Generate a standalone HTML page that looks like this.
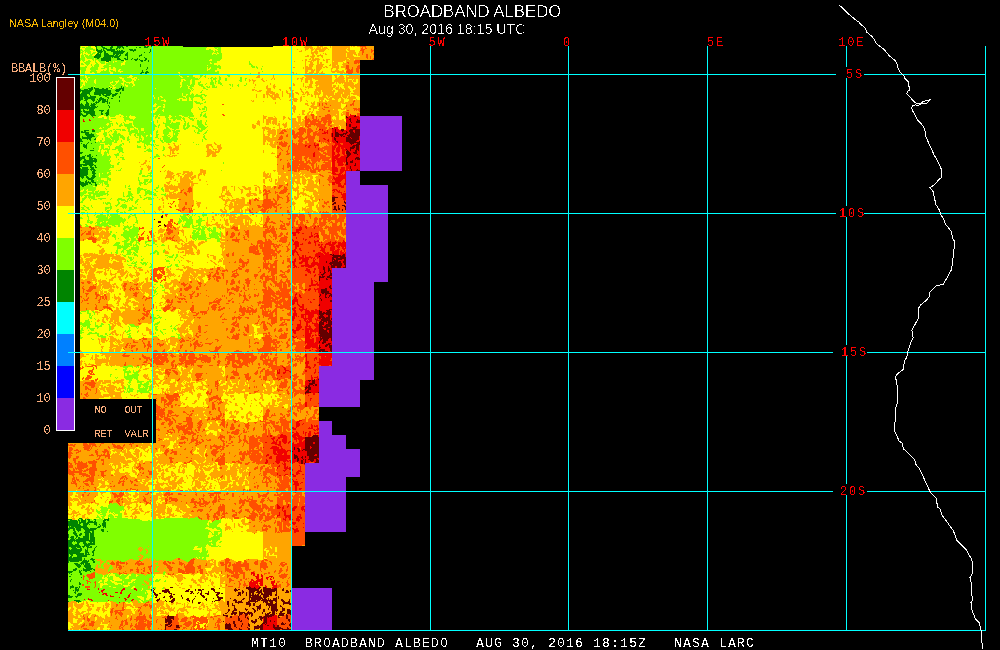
<!DOCTYPE html>
<html><head><meta charset="utf-8"><style>
html,body{margin:0;padding:0;background:#000;}
body{width:1000px;height:650px;overflow:hidden;position:relative;}
svg{position:absolute;left:0;top:0;}
.t{font-family:"Liberation Sans",sans-serif;}
.m{font-family:"Liberation Mono",monospace;}
</style></head><body>
<svg width="1000" height="650" viewBox="0 0 1000 650" shape-rendering="crispEdges">
<defs>
<pattern id="pD1" width="48" height="48" patternUnits="userSpaceOnUse"><g fill="#008400"><rect x="22" y="0" width="2" height="1"/><rect x="33" y="0" width="1" height="1"/><rect x="44" y="0" width="1" height="1"/><rect x="25" y="1" width="2" height="1"/><rect x="33" y="1" width="2" height="1"/><rect x="44" y="1" width="2" height="1"/><rect x="44" y="2" width="1" height="1"/><rect x="2" y="3" width="2" height="1"/><rect x="26" y="5" width="1" height="1"/><rect x="26" y="6" width="2" height="1"/><rect x="41" y="7" width="2" height="1"/><rect x="9" y="8" width="1" height="1"/><rect x="8" y="9" width="2" height="1"/><rect x="24" y="9" width="2" height="1"/><rect x="34" y="9" width="1" height="1"/><rect x="3" y="10" width="2" height="1"/><rect x="24" y="10" width="2" height="1"/><rect x="2" y="11" width="3" height="1"/><rect x="22" y="11" width="3" height="1"/><rect x="2" y="12" width="2" height="1"/><rect x="20" y="12" width="6" height="1"/><rect x="29" y="12" width="1" height="1"/><rect x="36" y="12" width="1" height="1"/><rect x="44" y="12" width="4" height="1"/><rect x="20" y="13" width="5" height="1"/><rect x="29" y="13" width="1" height="1"/><rect x="40" y="13" width="1" height="1"/><rect x="45" y="13" width="2" height="1"/><rect x="8" y="14" width="1" height="1"/><rect x="20" y="14" width="4" height="1"/><rect x="29" y="14" width="1" height="1"/><rect x="32" y="14" width="2" height="1"/><rect x="19" y="15" width="5" height="1"/><rect x="32" y="15" width="2" height="1"/><rect x="20" y="16" width="4" height="1"/><rect x="33" y="16" width="1" height="1"/><rect x="38" y="16" width="1" height="1"/><rect x="44" y="16" width="2" height="1"/><rect x="12" y="17" width="2" height="1"/><rect x="21" y="17" width="2" height="1"/><rect x="31" y="17" width="2" height="1"/><rect x="38" y="17" width="1" height="1"/><rect x="43" y="17" width="3" height="1"/><rect x="31" y="18" width="2" height="1"/><rect x="42" y="18" width="2" height="1"/><rect x="15" y="19" width="3" height="1"/><rect x="42" y="19" width="1" height="1"/><rect x="2" y="20" width="1" height="1"/><rect x="15" y="20" width="3" height="1"/><rect x="19" y="20" width="2" height="1"/><rect x="1" y="21" width="2" height="1"/><rect x="20" y="21" width="2" height="1"/><rect x="32" y="21" width="3" height="1"/><rect x="21" y="22" width="1" height="1"/><rect x="32" y="22" width="3" height="1"/><rect x="16" y="23" width="1" height="1"/><rect x="21" y="23" width="1" height="1"/><rect x="31" y="23" width="3" height="1"/><rect x="2" y="24" width="1" height="1"/><rect x="13" y="24" width="2" height="1"/><rect x="17" y="24" width="1" height="1"/><rect x="20" y="24" width="1" height="1"/><rect x="27" y="24" width="1" height="1"/><rect x="31" y="24" width="2" height="1"/><rect x="46" y="24" width="1" height="1"/><rect x="1" y="25" width="3" height="1"/><rect x="13" y="25" width="3" height="1"/><rect x="18" y="25" width="3" height="1"/><rect x="27" y="25" width="2" height="1"/><rect x="31" y="25" width="2" height="1"/><rect x="44" y="25" width="3" height="1"/><rect x="2" y="26" width="2" height="1"/><rect x="14" y="26" width="6" height="1"/><rect x="27" y="26" width="2" height="1"/><rect x="31" y="26" width="2" height="1"/><rect x="45" y="26" width="2" height="1"/><rect x="2" y="27" width="2" height="1"/><rect x="14" y="27" width="1" height="1"/><rect x="18" y="27" width="1" height="1"/><rect x="27" y="27" width="1" height="1"/><rect x="39" y="27" width="2" height="1"/><rect x="0" y="28" width="1" height="1"/><rect x="5" y="28" width="1" height="1"/><rect x="9" y="28" width="1" height="1"/><rect x="27" y="28" width="1" height="1"/><rect x="39" y="28" width="2" height="1"/><rect x="47" y="28" width="1" height="1"/><rect x="0" y="29" width="1" height="1"/><rect x="4" y="29" width="2" height="1"/><rect x="9" y="29" width="3" height="1"/><rect x="41" y="29" width="1" height="1"/><rect x="44" y="29" width="1" height="1"/><rect x="47" y="29" width="1" height="1"/><rect x="0" y="30" width="1" height="1"/><rect x="5" y="30" width="1" height="1"/><rect x="9" y="30" width="5" height="1"/><rect x="32" y="30" width="3" height="1"/><rect x="41" y="30" width="7" height="1"/><rect x="0" y="31" width="2" height="1"/><rect x="12" y="31" width="2" height="1"/><rect x="31" y="31" width="5" height="1"/><rect x="42" y="31" width="3" height="1"/><rect x="46" y="31" width="2" height="1"/><rect x="0" y="32" width="3" height="1"/><rect x="30" y="32" width="2" height="1"/><rect x="33" y="32" width="1" height="1"/><rect x="47" y="32" width="1" height="1"/><rect x="0" y="33" width="4" height="1"/><rect x="11" y="33" width="2" height="1"/><rect x="16" y="33" width="2" height="1"/><rect x="20" y="33" width="1" height="1"/><rect x="42" y="33" width="1" height="1"/><rect x="1" y="34" width="2" height="1"/><rect x="10" y="34" width="5" height="1"/><rect x="46" y="35" width="1" height="1"/><rect x="35" y="36" width="2" height="1"/><rect x="38" y="36" width="1" height="1"/><rect x="41" y="36" width="2" height="1"/><rect x="35" y="37" width="1" height="1"/><rect x="46" y="38" width="1" height="1"/><rect x="24" y="39" width="4" height="1"/><rect x="41" y="39" width="2" height="1"/><rect x="22" y="40" width="9" height="1"/><rect x="33" y="40" width="1" height="1"/><rect x="41" y="40" width="2" height="1"/><rect x="26" y="41" width="4" height="1"/><rect x="32" y="41" width="1" height="1"/><rect x="41" y="41" width="2" height="1"/><rect x="27" y="42" width="3" height="1"/><rect x="32" y="42" width="1" height="1"/><rect x="36" y="42" width="1" height="1"/><rect x="41" y="42" width="1" height="1"/><rect x="32" y="43" width="3" height="1"/><rect x="36" y="43" width="6" height="1"/><rect x="46" y="43" width="1" height="1"/><rect x="21" y="44" width="1" height="1"/><rect x="33" y="44" width="2" height="1"/><rect x="37" y="44" width="4" height="1"/><rect x="46" y="44" width="1" height="1"/><rect x="11" y="45" width="1" height="1"/><rect x="15" y="45" width="1" height="1"/><rect x="20" y="45" width="2" height="1"/><rect x="38" y="45" width="1" height="1"/><rect x="11" y="46" width="1" height="1"/></g></pattern>
<pattern id="pD2" width="48" height="48" patternUnits="userSpaceOnUse"><g fill="#008400"><rect x="17" y="0" width="1" height="1"/><rect x="21" y="0" width="2" height="1"/><rect x="33" y="0" width="3" height="1"/><rect x="6" y="1" width="3" height="1"/><rect x="21" y="1" width="2" height="1"/><rect x="35" y="1" width="2" height="1"/><rect x="39" y="1" width="1" height="1"/><rect x="6" y="2" width="2" height="1"/><rect x="35" y="2" width="5" height="1"/><rect x="6" y="3" width="1" height="1"/><rect x="11" y="3" width="1" height="1"/><rect x="17" y="3" width="1" height="1"/><rect x="35" y="3" width="5" height="1"/><rect x="45" y="3" width="1" height="1"/><rect x="10" y="4" width="3" height="1"/><rect x="23" y="4" width="1" height="1"/><rect x="36" y="4" width="4" height="1"/><rect x="6" y="5" width="1" height="1"/><rect x="10" y="5" width="4" height="1"/><rect x="23" y="5" width="1" height="1"/><rect x="10" y="6" width="1" height="1"/><rect x="13" y="6" width="1" height="1"/><rect x="42" y="6" width="2" height="1"/><rect x="10" y="7" width="1" height="1"/><rect x="13" y="7" width="2" height="1"/><rect x="31" y="7" width="1" height="1"/><rect x="42" y="7" width="2" height="1"/><rect x="0" y="8" width="1" height="1"/><rect x="12" y="8" width="3" height="1"/><rect x="18" y="8" width="1" height="1"/><rect x="30" y="8" width="3" height="1"/><rect x="47" y="8" width="1" height="1"/><rect x="0" y="9" width="3" height="1"/><rect x="12" y="9" width="2" height="1"/><rect x="18" y="9" width="1" height="1"/><rect x="22" y="9" width="1" height="1"/><rect x="24" y="9" width="1" height="1"/><rect x="31" y="9" width="2" height="1"/><rect x="0" y="10" width="3" height="1"/><rect x="12" y="10" width="1" height="1"/><rect x="17" y="10" width="2" height="1"/><rect x="21" y="10" width="8" height="1"/><rect x="31" y="10" width="1" height="1"/><rect x="36" y="10" width="1" height="1"/><rect x="41" y="10" width="1" height="1"/><rect x="0" y="11" width="2" height="1"/><rect x="13" y="11" width="1" height="1"/><rect x="17" y="11" width="2" height="1"/><rect x="21" y="11" width="4" height="1"/><rect x="27" y="11" width="5" height="1"/><rect x="36" y="11" width="1" height="1"/><rect x="39" y="11" width="4" height="1"/><rect x="44" y="11" width="1" height="1"/><rect x="0" y="12" width="1" height="1"/><rect x="13" y="12" width="1" height="1"/><rect x="17" y="12" width="2" height="1"/><rect x="27" y="12" width="4" height="1"/><rect x="34" y="12" width="3" height="1"/><rect x="39" y="12" width="4" height="1"/><rect x="12" y="13" width="2" height="1"/><rect x="27" y="13" width="3" height="1"/><rect x="34" y="13" width="3" height="1"/><rect x="46" y="13" width="2" height="1"/><rect x="4" y="14" width="2" height="1"/><rect x="11" y="14" width="4" height="1"/><rect x="27" y="14" width="2" height="1"/><rect x="34" y="14" width="2" height="1"/><rect x="45" y="14" width="2" height="1"/><rect x="5" y="15" width="2" height="1"/><rect x="10" y="15" width="4" height="1"/><rect x="24" y="15" width="1" height="1"/><rect x="27" y="15" width="2" height="1"/><rect x="34" y="15" width="2" height="1"/><rect x="41" y="15" width="3" height="1"/><rect x="45" y="15" width="2" height="1"/><rect x="6" y="16" width="1" height="1"/><rect x="9" y="16" width="5" height="1"/><rect x="29" y="16" width="3" height="1"/><rect x="34" y="16" width="1" height="1"/><rect x="41" y="16" width="2" height="1"/><rect x="6" y="17" width="1" height="1"/><rect x="9" y="17" width="3" height="1"/><rect x="13" y="17" width="1" height="1"/><rect x="28" y="17" width="9" height="1"/><rect x="5" y="18" width="2" height="1"/><rect x="10" y="18" width="2" height="1"/><rect x="17" y="18" width="2" height="1"/><rect x="27" y="18" width="3" height="1"/><rect x="34" y="18" width="3" height="1"/><rect x="38" y="18" width="3" height="1"/><rect x="5" y="19" width="2" height="1"/><rect x="10" y="19" width="2" height="1"/><rect x="16" y="19" width="2" height="1"/><rect x="28" y="19" width="1" height="1"/><rect x="35" y="19" width="1" height="1"/><rect x="39" y="19" width="2" height="1"/><rect x="5" y="20" width="2" height="1"/><rect x="10" y="20" width="2" height="1"/><rect x="19" y="20" width="6" height="1"/><rect x="40" y="20" width="2" height="1"/><rect x="46" y="20" width="1" height="1"/><rect x="2" y="21" width="3" height="1"/><rect x="10" y="21" width="1" height="1"/><rect x="20" y="21" width="4" height="1"/><rect x="41" y="21" width="1" height="1"/><rect x="46" y="21" width="1" height="1"/><rect x="2" y="22" width="3" height="1"/><rect x="9" y="22" width="2" height="1"/><rect x="20" y="22" width="4" height="1"/><rect x="37" y="22" width="2" height="1"/><rect x="41" y="22" width="1" height="1"/><rect x="45" y="22" width="2" height="1"/><rect x="3" y="23" width="2" height="1"/><rect x="29" y="23" width="3" height="1"/><rect x="37" y="23" width="5" height="1"/><rect x="45" y="23" width="2" height="1"/><rect x="0" y="24" width="2" height="1"/><rect x="4" y="24" width="2" height="1"/><rect x="17" y="24" width="2" height="1"/><rect x="27" y="24" width="4" height="1"/><rect x="37" y="24" width="5" height="1"/><rect x="45" y="24" width="2" height="1"/><rect x="0" y="25" width="1" height="1"/><rect x="6" y="25" width="1" height="1"/><rect x="14" y="25" width="1" height="1"/><rect x="17" y="25" width="2" height="1"/><rect x="20" y="25" width="1" height="1"/><rect x="26" y="25" width="5" height="1"/><rect x="36" y="25" width="6" height="1"/><rect x="45" y="25" width="2" height="1"/><rect x="14" y="26" width="2" height="1"/><rect x="20" y="26" width="2" height="1"/><rect x="25" y="26" width="4" height="1"/><rect x="35" y="26" width="4" height="1"/><rect x="40" y="26" width="2" height="1"/><rect x="45" y="26" width="2" height="1"/><rect x="10" y="27" width="2" height="1"/><rect x="14" y="27" width="2" height="1"/><rect x="25" y="27" width="2" height="1"/><rect x="34" y="27" width="3" height="1"/><rect x="44" y="27" width="2" height="1"/><rect x="10" y="28" width="2" height="1"/><rect x="24" y="28" width="1" height="1"/><rect x="34" y="28" width="3" height="1"/><rect x="6" y="29" width="2" height="1"/><rect x="24" y="29" width="3" height="1"/><rect x="7" y="30" width="2" height="1"/><rect x="23" y="30" width="5" height="1"/><rect x="36" y="30" width="1" height="1"/><rect x="43" y="30" width="3" height="1"/><rect x="0" y="31" width="5" height="1"/><rect x="18" y="31" width="2" height="1"/><rect x="25" y="31" width="3" height="1"/><rect x="36" y="31" width="4" height="1"/><rect x="43" y="31" width="5" height="1"/><rect x="0" y="32" width="5" height="1"/><rect x="17" y="32" width="2" height="1"/><rect x="35" y="32" width="6" height="1"/><rect x="43" y="32" width="5" height="1"/><rect x="1" y="33" width="3" height="1"/><rect x="7" y="33" width="2" height="1"/><rect x="17" y="33" width="2" height="1"/><rect x="34" y="33" width="7" height="1"/><rect x="44" y="33" width="3" height="1"/><rect x="5" y="34" width="6" height="1"/><rect x="27" y="34" width="3" height="1"/><rect x="34" y="34" width="3" height="1"/><rect x="39" y="34" width="1" height="1"/><rect x="44" y="34" width="3" height="1"/><rect x="2" y="35" width="9" height="1"/><rect x="28" y="35" width="3" height="1"/><rect x="33" y="35" width="4" height="1"/><rect x="38" y="35" width="3" height="1"/><rect x="44" y="35" width="3" height="1"/><rect x="2" y="36" width="7" height="1"/><rect x="28" y="36" width="4" height="1"/><rect x="33" y="36" width="2" height="1"/><rect x="37" y="36" width="4" height="1"/><rect x="44" y="36" width="3" height="1"/><rect x="3" y="37" width="1" height="1"/><rect x="6" y="37" width="2" height="1"/><rect x="28" y="37" width="4" height="1"/><rect x="38" y="37" width="4" height="1"/><rect x="6" y="38" width="2" height="1"/><rect x="10" y="38" width="2" height="1"/><rect x="15" y="38" width="2" height="1"/><rect x="29" y="38" width="4" height="1"/><rect x="39" y="38" width="4" height="1"/><rect x="7" y="39" width="10" height="1"/><rect x="27" y="39" width="1" height="1"/><rect x="30" y="39" width="2" height="1"/><rect x="39" y="39" width="5" height="1"/><rect x="8" y="40" width="9" height="1"/><rect x="27" y="40" width="1" height="1"/><rect x="30" y="40" width="1" height="1"/><rect x="35" y="40" width="11" height="1"/><rect x="8" y="41" width="2" height="1"/><rect x="12" y="41" width="2" height="1"/><rect x="23" y="41" width="2" height="1"/><rect x="26" y="41" width="3" height="1"/><rect x="35" y="41" width="11" height="1"/><rect x="8" y="42" width="2" height="1"/><rect x="20" y="42" width="8" height="1"/><rect x="32" y="42" width="2" height="1"/><rect x="35" y="42" width="7" height="1"/><rect x="46" y="42" width="2" height="1"/><rect x="8" y="43" width="2" height="1"/><rect x="20" y="43" width="3" height="1"/><rect x="31" y="43" width="2" height="1"/><rect x="38" y="43" width="1" height="1"/><rect x="40" y="43" width="2" height="1"/><rect x="47" y="43" width="1" height="1"/><rect x="3" y="44" width="2" height="1"/><rect x="7" y="44" width="3" height="1"/><rect x="21" y="44" width="1" height="1"/><rect x="31" y="44" width="3" height="1"/><rect x="41" y="44" width="1" height="1"/><rect x="3" y="45" width="2" height="1"/><rect x="7" y="45" width="3" height="1"/><rect x="14" y="45" width="2" height="1"/><rect x="18" y="45" width="2" height="1"/><rect x="23" y="45" width="1" height="1"/><rect x="32" y="45" width="3" height="1"/><rect x="0" y="46" width="5" height="1"/><rect x="7" y="46" width="1" height="1"/><rect x="16" y="46" width="3" height="1"/><rect x="23" y="46" width="1" height="1"/><rect x="40" y="46" width="1" height="1"/><rect x="47" y="46" width="1" height="1"/><rect x="0" y="47" width="4" height="1"/><rect x="16" y="47" width="3" height="1"/><rect x="39" y="47" width="2" height="1"/><rect x="44" y="47" width="1" height="1"/></g></pattern>
<pattern id="pE1" width="48" height="48" patternUnits="userSpaceOnUse"><g fill="#f00000"><rect x="0" y="0" width="1" height="1"/><rect x="14" y="0" width="1" height="1"/><rect x="38" y="0" width="2" height="1"/><rect x="47" y="0" width="1" height="1"/><rect x="15" y="1" width="1" height="1"/><rect x="25" y="1" width="1" height="1"/><rect x="39" y="1" width="1" height="1"/><rect x="15" y="2" width="3" height="1"/><rect x="33" y="2" width="2" height="1"/><rect x="39" y="2" width="1" height="1"/><rect x="17" y="3" width="3" height="1"/><rect x="30" y="3" width="1" height="1"/><rect x="33" y="3" width="2" height="1"/><rect x="39" y="3" width="3" height="1"/><rect x="18" y="4" width="1" height="1"/><rect x="30" y="4" width="6" height="1"/><rect x="40" y="4" width="2" height="1"/><rect x="31" y="5" width="5" height="1"/><rect x="46" y="5" width="1" height="1"/><rect x="40" y="6" width="1" height="1"/><rect x="46" y="6" width="1" height="1"/><rect x="5" y="7" width="2" height="1"/><rect x="12" y="7" width="1" height="1"/><rect x="38" y="7" width="3" height="1"/><rect x="46" y="7" width="1" height="1"/><rect x="5" y="8" width="2" height="1"/><rect x="12" y="8" width="2" height="1"/><rect x="30" y="8" width="1" height="1"/><rect x="38" y="8" width="4" height="1"/><rect x="12" y="9" width="2" height="1"/><rect x="19" y="9" width="2" height="1"/><rect x="30" y="9" width="1" height="1"/><rect x="34" y="9" width="1" height="1"/><rect x="38" y="9" width="3" height="1"/><rect x="13" y="10" width="1" height="1"/><rect x="19" y="10" width="2" height="1"/><rect x="28" y="10" width="2" height="1"/><rect x="32" y="10" width="3" height="1"/><rect x="39" y="10" width="1" height="1"/><rect x="13" y="11" width="1" height="1"/><rect x="19" y="11" width="1" height="1"/><rect x="32" y="11" width="2" height="1"/><rect x="2" y="12" width="2" height="1"/><rect x="39" y="12" width="2" height="1"/><rect x="2" y="13" width="2" height="1"/><rect x="25" y="13" width="2" height="1"/><rect x="39" y="13" width="3" height="1"/><rect x="2" y="14" width="1" height="1"/><rect x="6" y="14" width="3" height="1"/><rect x="24" y="14" width="3" height="1"/><rect x="2" y="15" width="1" height="1"/><rect x="6" y="15" width="3" height="1"/><rect x="23" y="15" width="3" height="1"/><rect x="2" y="16" width="2" height="1"/><rect x="7" y="16" width="2" height="1"/><rect x="20" y="16" width="1" height="1"/><rect x="23" y="16" width="4" height="1"/><rect x="2" y="17" width="2" height="1"/><rect x="8" y="17" width="3" height="1"/><rect x="25" y="17" width="2" height="1"/><rect x="6" y="18" width="2" height="1"/><rect x="9" y="18" width="3" height="1"/><rect x="33" y="18" width="1" height="1"/><rect x="7" y="19" width="4" height="1"/><rect x="15" y="19" width="1" height="1"/><rect x="32" y="19" width="2" height="1"/><rect x="15" y="20" width="1" height="1"/><rect x="46" y="20" width="1" height="1"/><rect x="16" y="21" width="1" height="1"/><rect x="23" y="21" width="1" height="1"/><rect x="16" y="22" width="3" height="1"/><rect x="28" y="22" width="4" height="1"/><rect x="37" y="22" width="1" height="1"/><rect x="29" y="23" width="2" height="1"/><rect x="36" y="23" width="2" height="1"/><rect x="42" y="23" width="2" height="1"/><rect x="29" y="24" width="1" height="1"/><rect x="36" y="24" width="2" height="1"/><rect x="42" y="24" width="2" height="1"/><rect x="13" y="25" width="1" height="1"/><rect x="22" y="25" width="1" height="1"/><rect x="20" y="26" width="2" height="1"/><rect x="20" y="27" width="2" height="1"/><rect x="11" y="28" width="1" height="1"/><rect x="20" y="28" width="3" height="1"/><rect x="0" y="29" width="1" height="1"/><rect x="10" y="29" width="1" height="1"/><rect x="22" y="29" width="1" height="1"/><rect x="28" y="29" width="3" height="1"/><rect x="0" y="30" width="1" height="1"/><rect x="9" y="30" width="2" height="1"/><rect x="20" y="30" width="1" height="1"/><rect x="28" y="30" width="4" height="1"/><rect x="6" y="31" width="4" height="1"/><rect x="19" y="31" width="2" height="1"/><rect x="44" y="31" width="2" height="1"/><rect x="6" y="32" width="3" height="1"/><rect x="19" y="32" width="2" height="1"/><rect x="44" y="32" width="2" height="1"/><rect x="3" y="33" width="2" height="1"/><rect x="17" y="33" width="3" height="1"/><rect x="4" y="34" width="1" height="1"/><rect x="17" y="34" width="2" height="1"/><rect x="30" y="34" width="1" height="1"/><rect x="0" y="35" width="1" height="1"/><rect x="9" y="35" width="1" height="1"/><rect x="11" y="35" width="2" height="1"/><rect x="0" y="36" width="2" height="1"/><rect x="10" y="36" width="3" height="1"/><rect x="36" y="36" width="2" height="1"/><rect x="41" y="36" width="3" height="1"/><rect x="0" y="37" width="2" height="1"/><rect x="35" y="37" width="5" height="1"/><rect x="41" y="37" width="2" height="1"/><rect x="6" y="38" width="3" height="1"/><rect x="35" y="38" width="4" height="1"/><rect x="5" y="39" width="3" height="1"/><rect x="35" y="39" width="4" height="1"/><rect x="34" y="40" width="5" height="1"/><rect x="12" y="41" width="1" height="1"/><rect x="35" y="41" width="2" height="1"/><rect x="10" y="42" width="1" height="1"/><rect x="26" y="42" width="3" height="1"/><rect x="44" y="42" width="2" height="1"/><rect x="25" y="43" width="5" height="1"/><rect x="37" y="43" width="2" height="1"/><rect x="44" y="43" width="2" height="1"/><rect x="27" y="44" width="1" height="1"/><rect x="35" y="44" width="4" height="1"/><rect x="44" y="44" width="4" height="1"/><rect x="13" y="45" width="2" height="1"/><rect x="24" y="45" width="1" height="1"/><rect x="31" y="45" width="2" height="1"/><rect x="35" y="45" width="3" height="1"/><rect x="44" y="45" width="4" height="1"/><rect x="0" y="46" width="1" height="1"/><rect x="13" y="46" width="1" height="1"/><rect x="24" y="46" width="2" height="1"/><rect x="33" y="46" width="4" height="1"/><rect x="46" y="46" width="2" height="1"/><rect x="0" y="47" width="1" height="1"/><rect x="11" y="47" width="1" height="1"/><rect x="13" y="47" width="2" height="1"/><rect x="36" y="47" width="1" height="1"/><rect x="47" y="47" width="1" height="1"/></g></pattern>
<pattern id="pE2" width="48" height="48" patternUnits="userSpaceOnUse"><g fill="#f00000"><rect x="2" y="0" width="4" height="1"/><rect x="17" y="0" width="2" height="1"/><rect x="21" y="0" width="2" height="1"/><rect x="26" y="0" width="1" height="1"/><rect x="29" y="0" width="4" height="1"/><rect x="46" y="0" width="1" height="1"/><rect x="5" y="1" width="5" height="1"/><rect x="17" y="1" width="1" height="1"/><rect x="20" y="1" width="3" height="1"/><rect x="26" y="1" width="6" height="1"/><rect x="33" y="1" width="1" height="1"/><rect x="45" y="1" width="1" height="1"/><rect x="6" y="2" width="5" height="1"/><rect x="20" y="2" width="2" height="1"/><rect x="27" y="2" width="1" height="1"/><rect x="33" y="2" width="1" height="1"/><rect x="42" y="2" width="1" height="1"/><rect x="6" y="3" width="5" height="1"/><rect x="27" y="3" width="1" height="1"/><rect x="30" y="3" width="2" height="1"/><rect x="41" y="3" width="2" height="1"/><rect x="5" y="4" width="6" height="1"/><rect x="12" y="4" width="3" height="1"/><rect x="30" y="4" width="2" height="1"/><rect x="34" y="4" width="1" height="1"/><rect x="40" y="4" width="3" height="1"/><rect x="7" y="5" width="4" height="1"/><rect x="33" y="5" width="2" height="1"/><rect x="38" y="5" width="9" height="1"/><rect x="3" y="6" width="1" height="1"/><rect x="7" y="6" width="2" height="1"/><rect x="32" y="6" width="3" height="1"/><rect x="37" y="6" width="10" height="1"/><rect x="7" y="7" width="2" height="1"/><rect x="31" y="7" width="3" height="1"/><rect x="36" y="7" width="2" height="1"/><rect x="43" y="7" width="4" height="1"/><rect x="2" y="8" width="1" height="1"/><rect x="7" y="8" width="2" height="1"/><rect x="11" y="8" width="2" height="1"/><rect x="31" y="8" width="3" height="1"/><rect x="36" y="8" width="1" height="1"/><rect x="42" y="8" width="5" height="1"/><rect x="0" y="9" width="3" height="1"/><rect x="7" y="9" width="2" height="1"/><rect x="11" y="9" width="3" height="1"/><rect x="32" y="9" width="5" height="1"/><rect x="42" y="9" width="4" height="1"/><rect x="0" y="10" width="3" height="1"/><rect x="7" y="10" width="1" height="1"/><rect x="25" y="10" width="2" height="1"/><rect x="33" y="10" width="4" height="1"/><rect x="39" y="10" width="2" height="1"/><rect x="44" y="10" width="1" height="1"/><rect x="6" y="11" width="2" height="1"/><rect x="20" y="11" width="1" height="1"/><rect x="25" y="11" width="2" height="1"/><rect x="32" y="11" width="9" height="1"/><rect x="4" y="12" width="5" height="1"/><rect x="31" y="12" width="10" height="1"/><rect x="4" y="13" width="6" height="1"/><rect x="37" y="13" width="5" height="1"/><rect x="4" y="14" width="3" height="1"/><rect x="9" y="14" width="2" height="1"/><rect x="22" y="14" width="1" height="1"/><rect x="40" y="14" width="2" height="1"/><rect x="5" y="15" width="1" height="1"/><rect x="9" y="15" width="3" height="1"/><rect x="14" y="15" width="2" height="1"/><rect x="22" y="15" width="2" height="1"/><rect x="33" y="15" width="4" height="1"/><rect x="41" y="15" width="2" height="1"/><rect x="14" y="16" width="2" height="1"/><rect x="22" y="16" width="1" height="1"/><rect x="32" y="16" width="7" height="1"/><rect x="41" y="16" width="4" height="1"/><rect x="2" y="17" width="2" height="1"/><rect x="11" y="17" width="5" height="1"/><rect x="31" y="17" width="8" height="1"/><rect x="41" y="17" width="2" height="1"/><rect x="46" y="17" width="2" height="1"/><rect x="2" y="18" width="2" height="1"/><rect x="11" y="18" width="5" height="1"/><rect x="30" y="18" width="1" height="1"/><rect x="33" y="18" width="4" height="1"/><rect x="47" y="18" width="1" height="1"/><rect x="6" y="19" width="2" height="1"/><rect x="14" y="19" width="5" height="1"/><rect x="34" y="19" width="2" height="1"/><rect x="6" y="20" width="2" height="1"/><rect x="14" y="20" width="5" height="1"/><rect x="33" y="20" width="3" height="1"/><rect x="45" y="20" width="1" height="1"/><rect x="3" y="21" width="4" height="1"/><rect x="11" y="21" width="8" height="1"/><rect x="27" y="21" width="2" height="1"/><rect x="33" y="21" width="4" height="1"/><rect x="2" y="22" width="5" height="1"/><rect x="11" y="22" width="4" height="1"/><rect x="17" y="22" width="2" height="1"/><rect x="26" y="22" width="3" height="1"/><rect x="34" y="22" width="5" height="1"/><rect x="5" y="23" width="3" height="1"/><rect x="12" y="23" width="2" height="1"/><rect x="18" y="23" width="1" height="1"/><rect x="26" y="23" width="1" height="1"/><rect x="37" y="23" width="1" height="1"/><rect x="42" y="23" width="2" height="1"/><rect x="6" y="24" width="2" height="1"/><rect x="18" y="24" width="3" height="1"/><rect x="42" y="24" width="3" height="1"/><rect x="0" y="25" width="1" height="1"/><rect x="6" y="25" width="3" height="1"/><rect x="17" y="25" width="4" height="1"/><rect x="29" y="25" width="3" height="1"/><rect x="36" y="25" width="2" height="1"/><rect x="43" y="25" width="1" height="1"/><rect x="47" y="25" width="1" height="1"/><rect x="0" y="26" width="1" height="1"/><rect x="5" y="26" width="4" height="1"/><rect x="13" y="26" width="8" height="1"/><rect x="29" y="26" width="3" height="1"/><rect x="36" y="26" width="3" height="1"/><rect x="43" y="26" width="1" height="1"/><rect x="47" y="26" width="1" height="1"/><rect x="5" y="27" width="2" height="1"/><rect x="10" y="27" width="1" height="1"/><rect x="13" y="27" width="3" height="1"/><rect x="18" y="27" width="2" height="1"/><rect x="35" y="27" width="5" height="1"/><rect x="42" y="27" width="2" height="1"/><rect x="47" y="27" width="1" height="1"/><rect x="4" y="28" width="3" height="1"/><rect x="13" y="28" width="3" height="1"/><rect x="18" y="28" width="2" height="1"/><rect x="26" y="28" width="2" height="1"/><rect x="36" y="28" width="5" height="1"/><rect x="42" y="28" width="2" height="1"/><rect x="4" y="29" width="3" height="1"/><rect x="13" y="29" width="4" height="1"/><rect x="18" y="29" width="4" height="1"/><rect x="26" y="29" width="2" height="1"/><rect x="37" y="29" width="3" height="1"/><rect x="42" y="29" width="2" height="1"/><rect x="4" y="30" width="2" height="1"/><rect x="16" y="30" width="1" height="1"/><rect x="18" y="30" width="5" height="1"/><rect x="25" y="30" width="2" height="1"/><rect x="33" y="30" width="1" height="1"/><rect x="42" y="30" width="1" height="1"/><rect x="44" y="30" width="1" height="1"/><rect x="16" y="31" width="7" height="1"/><rect x="31" y="31" width="2" height="1"/><rect x="42" y="31" width="1" height="1"/><rect x="44" y="31" width="2" height="1"/><rect x="31" y="32" width="1" height="1"/><rect x="43" y="32" width="3" height="1"/><rect x="11" y="33" width="2" height="1"/><rect x="27" y="33" width="1" height="1"/><rect x="31" y="33" width="2" height="1"/><rect x="34" y="33" width="1" height="1"/><rect x="39" y="33" width="1" height="1"/><rect x="44" y="33" width="2" height="1"/><rect x="12" y="34" width="1" height="1"/><rect x="26" y="34" width="2" height="1"/><rect x="31" y="34" width="1" height="1"/><rect x="34" y="34" width="1" height="1"/><rect x="39" y="34" width="1" height="1"/><rect x="44" y="34" width="4" height="1"/><rect x="0" y="35" width="4" height="1"/><rect x="12" y="35" width="1" height="1"/><rect x="17" y="35" width="2" height="1"/><rect x="26" y="35" width="2" height="1"/><rect x="36" y="35" width="4" height="1"/><rect x="45" y="35" width="3" height="1"/><rect x="0" y="36" width="5" height="1"/><rect x="11" y="36" width="3" height="1"/><rect x="17" y="36" width="2" height="1"/><rect x="26" y="36" width="1" height="1"/><rect x="30" y="36" width="1" height="1"/><rect x="36" y="36" width="2" height="1"/><rect x="45" y="36" width="2" height="1"/><rect x="1" y="37" width="3" height="1"/><rect x="9" y="37" width="5" height="1"/><rect x="35" y="37" width="2" height="1"/><rect x="43" y="37" width="3" height="1"/><rect x="8" y="38" width="5" height="1"/><rect x="34" y="38" width="2" height="1"/><rect x="43" y="38" width="3" height="1"/><rect x="8" y="39" width="3" height="1"/><rect x="23" y="39" width="1" height="1"/><rect x="44" y="39" width="1" height="1"/><rect x="2" y="40" width="1" height="1"/><rect x="8" y="40" width="4" height="1"/><rect x="23" y="40" width="1" height="1"/><rect x="40" y="40" width="2" height="1"/><rect x="2" y="41" width="4" height="1"/><rect x="8" y="41" width="3" height="1"/><rect x="14" y="41" width="2" height="1"/><rect x="23" y="41" width="2" height="1"/><rect x="26" y="41" width="4" height="1"/><rect x="35" y="41" width="3" height="1"/><rect x="2" y="42" width="6" height="1"/><rect x="23" y="42" width="2" height="1"/><rect x="29" y="42" width="1" height="1"/><rect x="36" y="42" width="2" height="1"/><rect x="5" y="43" width="3" height="1"/><rect x="23" y="43" width="2" height="1"/><rect x="28" y="43" width="3" height="1"/><rect x="36" y="43" width="1" height="1"/><rect x="39" y="43" width="2" height="1"/><rect x="45" y="43" width="1" height="1"/><rect x="0" y="44" width="1" height="1"/><rect x="5" y="44" width="3" height="1"/><rect x="21" y="44" width="11" height="1"/><rect x="39" y="44" width="2" height="1"/><rect x="44" y="44" width="4" height="1"/><rect x="0" y="45" width="1" height="1"/><rect x="20" y="45" width="3" height="1"/><rect x="26" y="45" width="2" height="1"/><rect x="29" y="45" width="3" height="1"/><rect x="40" y="45" width="1" height="1"/><rect x="44" y="45" width="2" height="1"/><rect x="0" y="46" width="2" height="1"/><rect x="46" y="46" width="1" height="1"/><rect x="1" y="47" width="3" height="1"/><rect x="8" y="47" width="1" height="1"/><rect x="15" y="47" width="1" height="1"/><rect x="46" y="47" width="2" height="1"/></g></pattern>
<pattern id="pG1" width="48" height="48" patternUnits="userSpaceOnUse"><g fill="#80ff00"><rect x="0" y="0" width="2" height="1"/><rect x="27" y="0" width="1" height="1"/><rect x="35" y="0" width="4" height="1"/><rect x="41" y="0" width="2" height="1"/><rect x="0" y="1" width="2" height="1"/><rect x="26" y="1" width="2" height="1"/><rect x="39" y="1" width="2" height="1"/><rect x="0" y="2" width="2" height="1"/><rect x="6" y="2" width="2" height="1"/><rect x="26" y="2" width="1" height="1"/><rect x="39" y="2" width="1" height="1"/><rect x="5" y="3" width="5" height="1"/><rect x="46" y="3" width="2" height="1"/><rect x="9" y="4" width="1" height="1"/><rect x="0" y="5" width="2" height="1"/><rect x="9" y="5" width="1" height="1"/><rect x="44" y="5" width="4" height="1"/><rect x="0" y="6" width="2" height="1"/><rect x="8" y="6" width="1" height="1"/><rect x="25" y="6" width="1" height="1"/><rect x="30" y="6" width="1" height="1"/><rect x="37" y="6" width="1" height="1"/><rect x="44" y="6" width="4" height="1"/><rect x="21" y="7" width="2" height="1"/><rect x="24" y="7" width="3" height="1"/><rect x="30" y="7" width="2" height="1"/><rect x="45" y="7" width="2" height="1"/><rect x="10" y="8" width="2" height="1"/><rect x="21" y="8" width="6" height="1"/><rect x="6" y="9" width="2" height="1"/><rect x="11" y="9" width="1" height="1"/><rect x="22" y="9" width="2" height="1"/><rect x="25" y="9" width="3" height="1"/><rect x="6" y="10" width="2" height="1"/><rect x="35" y="10" width="1" height="1"/><rect x="47" y="10" width="1" height="1"/><rect x="0" y="11" width="1" height="1"/><rect x="6" y="11" width="1" height="1"/><rect x="34" y="11" width="3" height="1"/><rect x="0" y="12" width="2" height="1"/><rect x="26" y="12" width="4" height="1"/><rect x="38" y="12" width="1" height="1"/><rect x="9" y="13" width="1" height="1"/><rect x="27" y="13" width="2" height="1"/><rect x="9" y="14" width="1" height="1"/><rect x="27" y="14" width="2" height="1"/><rect x="9" y="15" width="2" height="1"/><rect x="26" y="15" width="2" height="1"/><rect x="0" y="16" width="1" height="1"/><rect x="2" y="16" width="2" height="1"/><rect x="9" y="16" width="3" height="1"/><rect x="42" y="16" width="1" height="1"/><rect x="47" y="16" width="1" height="1"/><rect x="0" y="17" width="3" height="1"/><rect x="11" y="17" width="2" height="1"/><rect x="26" y="17" width="1" height="1"/><rect x="39" y="17" width="5" height="1"/><rect x="0" y="18" width="2" height="1"/><rect x="12" y="18" width="3" height="1"/><rect x="16" y="18" width="1" height="1"/><rect x="25" y="18" width="2" height="1"/><rect x="40" y="18" width="4" height="1"/><rect x="0" y="19" width="1" height="1"/><rect x="8" y="19" width="1" height="1"/><rect x="12" y="19" width="3" height="1"/><rect x="16" y="19" width="2" height="1"/><rect x="22" y="19" width="1" height="1"/><rect x="30" y="19" width="1" height="1"/><rect x="17" y="20" width="1" height="1"/><rect x="23" y="20" width="1" height="1"/><rect x="30" y="20" width="1" height="1"/><rect x="0" y="23" width="2" height="1"/><rect x="20" y="23" width="2" height="1"/><rect x="47" y="23" width="1" height="1"/><rect x="21" y="24" width="1" height="1"/><rect x="26" y="24" width="1" height="1"/><rect x="36" y="24" width="1" height="1"/><rect x="46" y="24" width="2" height="1"/><rect x="0" y="25" width="3" height="1"/><rect x="10" y="25" width="1" height="1"/><rect x="22" y="25" width="1" height="1"/><rect x="24" y="25" width="5" height="1"/><rect x="35" y="25" width="3" height="1"/><rect x="44" y="25" width="4" height="1"/><rect x="0" y="26" width="3" height="1"/><rect x="9" y="26" width="2" height="1"/><rect x="22" y="26" width="3" height="1"/><rect x="28" y="26" width="2" height="1"/><rect x="35" y="26" width="3" height="1"/><rect x="46" y="26" width="2" height="1"/><rect x="0" y="27" width="1" height="1"/><rect x="13" y="27" width="2" height="1"/><rect x="36" y="27" width="1" height="1"/><rect x="47" y="27" width="1" height="1"/><rect x="32" y="29" width="2" height="1"/><rect x="0" y="30" width="2" height="1"/><rect x="26" y="30" width="2" height="1"/><rect x="31" y="30" width="4" height="1"/><rect x="0" y="31" width="2" height="1"/><rect x="5" y="31" width="2" height="1"/><rect x="25" y="31" width="3" height="1"/><rect x="33" y="31" width="2" height="1"/><rect x="0" y="32" width="2" height="1"/><rect x="5" y="32" width="1" height="1"/><rect x="11" y="32" width="2" height="1"/><rect x="26" y="32" width="3" height="1"/><rect x="47" y="32" width="1" height="1"/><rect x="26" y="33" width="3" height="1"/><rect x="26" y="34" width="5" height="1"/><rect x="27" y="35" width="6" height="1"/><rect x="6" y="36" width="1" height="1"/><rect x="30" y="36" width="2" height="1"/><rect x="37" y="36" width="2" height="1"/><rect x="6" y="37" width="1" height="1"/><rect x="12" y="37" width="1" height="1"/><rect x="31" y="37" width="1" height="1"/><rect x="38" y="37" width="3" height="1"/><rect x="4" y="38" width="2" height="1"/><rect x="12" y="38" width="1" height="1"/><rect x="40" y="38" width="2" height="1"/><rect x="46" y="38" width="1" height="1"/><rect x="38" y="39" width="1" height="1"/><rect x="40" y="39" width="1" height="1"/><rect x="45" y="39" width="2" height="1"/><rect x="4" y="41" width="2" height="1"/><rect x="4" y="42" width="2" height="1"/><rect x="44" y="42" width="1" height="1"/><rect x="5" y="43" width="1" height="1"/><rect x="13" y="43" width="1" height="1"/><rect x="39" y="43" width="1" height="1"/><rect x="44" y="43" width="2" height="1"/><rect x="11" y="44" width="4" height="1"/><rect x="30" y="44" width="2" height="1"/><rect x="37" y="44" width="4" height="1"/><rect x="11" y="45" width="3" height="1"/><rect x="16" y="45" width="1" height="1"/><rect x="26" y="45" width="2" height="1"/><rect x="30" y="45" width="1" height="1"/><rect x="36" y="45" width="6" height="1"/><rect x="11" y="46" width="3" height="1"/><rect x="15" y="46" width="3" height="1"/><rect x="37" y="46" width="6" height="1"/><rect x="14" y="47" width="3" height="1"/><rect x="37" y="47" width="2" height="1"/></g></pattern>
<pattern id="pG2" width="48" height="48" patternUnits="userSpaceOnUse"><g fill="#80ff00"><rect x="0" y="0" width="11" height="1"/><rect x="32" y="0" width="3" height="1"/><rect x="1" y="1" width="10" height="1"/><rect x="26" y="1" width="3" height="1"/><rect x="32" y="1" width="4" height="1"/><rect x="43" y="1" width="1" height="1"/><rect x="1" y="2" width="2" height="1"/><rect x="9" y="2" width="3" height="1"/><rect x="20" y="2" width="5" height="1"/><rect x="27" y="2" width="3" height="1"/><rect x="31" y="2" width="5" height="1"/><rect x="42" y="2" width="3" height="1"/><rect x="1" y="3" width="1" height="1"/><rect x="9" y="3" width="1" height="1"/><rect x="19" y="3" width="6" height="1"/><rect x="28" y="3" width="7" height="1"/><rect x="43" y="3" width="2" height="1"/><rect x="13" y="4" width="1" height="1"/><rect x="18" y="4" width="6" height="1"/><rect x="31" y="4" width="5" height="1"/><rect x="43" y="4" width="2" height="1"/><rect x="2" y="5" width="4" height="1"/><rect x="12" y="5" width="2" height="1"/><rect x="21" y="5" width="4" height="1"/><rect x="32" y="5" width="1" height="1"/><rect x="34" y="5" width="3" height="1"/><rect x="0" y="6" width="10" height="1"/><rect x="21" y="6" width="5" height="1"/><rect x="32" y="6" width="1" height="1"/><rect x="34" y="6" width="3" height="1"/><rect x="40" y="6" width="2" height="1"/><rect x="4" y="7" width="5" height="1"/><rect x="21" y="7" width="8" height="1"/><rect x="31" y="7" width="6" height="1"/><rect x="40" y="7" width="2" height="1"/><rect x="21" y="8" width="8" height="1"/><rect x="31" y="8" width="2" height="1"/><rect x="34" y="8" width="2" height="1"/><rect x="40" y="8" width="2" height="1"/><rect x="21" y="9" width="2" height="1"/><rect x="27" y="9" width="5" height="1"/><rect x="40" y="9" width="1" height="1"/><rect x="12" y="10" width="2" height="1"/><rect x="20" y="10" width="2" height="1"/><rect x="27" y="10" width="1" height="1"/><rect x="41" y="10" width="1" height="1"/><rect x="9" y="11" width="6" height="1"/><rect x="19" y="11" width="3" height="1"/><rect x="26" y="11" width="2" height="1"/><rect x="6" y="12" width="2" height="1"/><rect x="9" y="12" width="3" height="1"/><rect x="14" y="12" width="2" height="1"/><rect x="19" y="12" width="3" height="1"/><rect x="37" y="12" width="1" height="1"/><rect x="6" y="13" width="2" height="1"/><rect x="14" y="13" width="2" height="1"/><rect x="20" y="13" width="1" height="1"/><rect x="27" y="13" width="2" height="1"/><rect x="37" y="13" width="3" height="1"/><rect x="12" y="14" width="5" height="1"/><rect x="24" y="14" width="7" height="1"/><rect x="38" y="14" width="3" height="1"/><rect x="11" y="15" width="2" height="1"/><rect x="15" y="15" width="1" height="1"/><rect x="23" y="15" width="8" height="1"/><rect x="33" y="15" width="3" height="1"/><rect x="38" y="15" width="3" height="1"/><rect x="44" y="15" width="1" height="1"/><rect x="9" y="16" width="3" height="1"/><rect x="15" y="16" width="1" height="1"/><rect x="22" y="16" width="1" height="1"/><rect x="25" y="16" width="3" height="1"/><rect x="33" y="16" width="3" height="1"/><rect x="9" y="17" width="2" height="1"/><rect x="14" y="17" width="2" height="1"/><rect x="33" y="17" width="3" height="1"/><rect x="9" y="18" width="2" height="1"/><rect x="13" y="18" width="2" height="1"/><rect x="32" y="18" width="6" height="1"/><rect x="8" y="19" width="2" height="1"/><rect x="12" y="19" width="2" height="1"/><rect x="21" y="19" width="2" height="1"/><rect x="29" y="19" width="1" height="1"/><rect x="46" y="19" width="2" height="1"/><rect x="8" y="20" width="2" height="1"/><rect x="12" y="20" width="2" height="1"/><rect x="21" y="20" width="2" height="1"/><rect x="29" y="20" width="2" height="1"/><rect x="46" y="20" width="2" height="1"/><rect x="11" y="21" width="6" height="1"/><rect x="34" y="21" width="2" height="1"/><rect x="39" y="21" width="2" height="1"/><rect x="11" y="22" width="3" height="1"/><rect x="15" y="22" width="3" height="1"/><rect x="23" y="22" width="1" height="1"/><rect x="34" y="22" width="7" height="1"/><rect x="45" y="22" width="2" height="1"/><rect x="0" y="23" width="1" height="1"/><rect x="2" y="23" width="2" height="1"/><rect x="38" y="23" width="3" height="1"/><rect x="46" y="23" width="2" height="1"/><rect x="0" y="24" width="1" height="1"/><rect x="6" y="24" width="2" height="1"/><rect x="30" y="24" width="4" height="1"/><rect x="39" y="24" width="2" height="1"/><rect x="46" y="24" width="2" height="1"/><rect x="0" y="25" width="1" height="1"/><rect x="7" y="25" width="3" height="1"/><rect x="14" y="25" width="1" height="1"/><rect x="26" y="25" width="1" height="1"/><rect x="31" y="25" width="4" height="1"/><rect x="39" y="25" width="3" height="1"/><rect x="47" y="25" width="1" height="1"/><rect x="6" y="26" width="4" height="1"/><rect x="13" y="26" width="2" height="1"/><rect x="20" y="26" width="2" height="1"/><rect x="24" y="26" width="3" height="1"/><rect x="40" y="26" width="2" height="1"/><rect x="5" y="27" width="5" height="1"/><rect x="13" y="27" width="2" height="1"/><rect x="20" y="27" width="2" height="1"/><rect x="24" y="27" width="3" height="1"/><rect x="40" y="27" width="3" height="1"/><rect x="44" y="27" width="2" height="1"/><rect x="5" y="28" width="6" height="1"/><rect x="24" y="28" width="3" height="1"/><rect x="40" y="28" width="2" height="1"/><rect x="43" y="28" width="2" height="1"/><rect x="5" y="29" width="8" height="1"/><rect x="14" y="29" width="3" height="1"/><rect x="25" y="29" width="1" height="1"/><rect x="29" y="29" width="1" height="1"/><rect x="40" y="29" width="5" height="1"/><rect x="0" y="30" width="1" height="1"/><rect x="6" y="30" width="5" height="1"/><rect x="15" y="30" width="1" height="1"/><rect x="39" y="30" width="6" height="1"/><rect x="47" y="30" width="1" height="1"/><rect x="0" y="31" width="5" height="1"/><rect x="7" y="31" width="4" height="1"/><rect x="42" y="31" width="2" height="1"/><rect x="47" y="31" width="1" height="1"/><rect x="2" y="32" width="8" height="1"/><rect x="20" y="32" width="2" height="1"/><rect x="37" y="32" width="2" height="1"/><rect x="5" y="33" width="5" height="1"/><rect x="31" y="33" width="1" height="1"/><rect x="37" y="33" width="2" height="1"/><rect x="0" y="34" width="1" height="1"/><rect x="7" y="34" width="2" height="1"/><rect x="13" y="34" width="1" height="1"/><rect x="31" y="34" width="2" height="1"/><rect x="36" y="34" width="4" height="1"/><rect x="42" y="34" width="1" height="1"/><rect x="47" y="34" width="1" height="1"/><rect x="0" y="35" width="2" height="1"/><rect x="6" y="35" width="2" height="1"/><rect x="12" y="35" width="2" height="1"/><rect x="32" y="35" width="9" height="1"/><rect x="47" y="35" width="1" height="1"/><rect x="0" y="36" width="3" height="1"/><rect x="5" y="36" width="2" height="1"/><rect x="12" y="36" width="2" height="1"/><rect x="33" y="36" width="10" height="1"/><rect x="47" y="36" width="1" height="1"/><rect x="0" y="37" width="3" height="1"/><rect x="5" y="37" width="3" height="1"/><rect x="12" y="37" width="1" height="1"/><rect x="34" y="37" width="2" height="1"/><rect x="38" y="37" width="5" height="1"/><rect x="47" y="37" width="1" height="1"/><rect x="2" y="38" width="5" height="1"/><rect x="13" y="38" width="3" height="1"/><rect x="27" y="38" width="1" height="1"/><rect x="32" y="38" width="1" height="1"/><rect x="38" y="38" width="2" height="1"/><rect x="41" y="38" width="6" height="1"/><rect x="3" y="39" width="1" height="1"/><rect x="12" y="39" width="3" height="1"/><rect x="27" y="39" width="1" height="1"/><rect x="32" y="39" width="1" height="1"/><rect x="39" y="39" width="1" height="1"/><rect x="43" y="39" width="3" height="1"/><rect x="12" y="40" width="3" height="1"/><rect x="20" y="40" width="2" height="1"/><rect x="31" y="40" width="2" height="1"/><rect x="40" y="40" width="1" height="1"/><rect x="43" y="40" width="3" height="1"/><rect x="12" y="41" width="3" height="1"/><rect x="27" y="41" width="2" height="1"/><rect x="31" y="41" width="3" height="1"/><rect x="40" y="41" width="1" height="1"/><rect x="44" y="41" width="2" height="1"/><rect x="12" y="42" width="3" height="1"/><rect x="27" y="42" width="2" height="1"/><rect x="31" y="42" width="2" height="1"/><rect x="18" y="43" width="1" height="1"/><rect x="28" y="43" width="1" height="1"/><rect x="42" y="43" width="1" height="1"/><rect x="9" y="44" width="2" height="1"/><rect x="17" y="44" width="2" height="1"/><rect x="32" y="44" width="3" height="1"/><rect x="41" y="44" width="3" height="1"/><rect x="46" y="44" width="1" height="1"/><rect x="10" y="45" width="1" height="1"/><rect x="17" y="45" width="3" height="1"/><rect x="33" y="45" width="2" height="1"/><rect x="41" y="45" width="7" height="1"/><rect x="0" y="46" width="3" height="1"/><rect x="5" y="46" width="3" height="1"/><rect x="18" y="46" width="2" height="1"/><rect x="22" y="46" width="1" height="1"/><rect x="41" y="46" width="7" height="1"/><rect x="0" y="47" width="3" height="1"/><rect x="4" y="47" width="4" height="1"/><rect x="11" y="47" width="3" height="1"/><rect x="19" y="47" width="1" height="1"/><rect x="32" y="47" width="3" height="1"/><rect x="47" y="47" width="1" height="1"/></g></pattern>
<pattern id="pG3" width="48" height="48" patternUnits="userSpaceOnUse"><g fill="#80ff00"><rect x="2" y="0" width="5" height="1"/><rect x="9" y="0" width="4" height="1"/><rect x="16" y="0" width="6" height="1"/><rect x="23" y="0" width="5" height="1"/><rect x="41" y="0" width="2" height="1"/><rect x="47" y="0" width="1" height="1"/><rect x="3" y="1" width="4" height="1"/><rect x="16" y="1" width="4" height="1"/><rect x="22" y="1" width="8" height="1"/><rect x="34" y="1" width="1" height="1"/><rect x="46" y="1" width="2" height="1"/><rect x="6" y="2" width="1" height="1"/><rect x="10" y="2" width="1" height="1"/><rect x="23" y="2" width="1" height="1"/><rect x="26" y="2" width="4" height="1"/><rect x="34" y="2" width="2" height="1"/><rect x="46" y="2" width="1" height="1"/><rect x="6" y="3" width="1" height="1"/><rect x="9" y="3" width="4" height="1"/><rect x="26" y="3" width="3" height="1"/><rect x="35" y="3" width="2" height="1"/><rect x="40" y="3" width="3" height="1"/><rect x="45" y="3" width="2" height="1"/><rect x="0" y="4" width="1" height="1"/><rect x="6" y="4" width="1" height="1"/><rect x="11" y="4" width="4" height="1"/><rect x="35" y="4" width="2" height="1"/><rect x="39" y="4" width="9" height="1"/><rect x="0" y="5" width="2" height="1"/><rect x="3" y="5" width="5" height="1"/><rect x="11" y="5" width="5" height="1"/><rect x="17" y="5" width="2" height="1"/><rect x="21" y="5" width="1" height="1"/><rect x="34" y="5" width="4" height="1"/><rect x="39" y="5" width="5" height="1"/><rect x="3" y="6" width="5" height="1"/><rect x="12" y="6" width="4" height="1"/><rect x="17" y="6" width="2" height="1"/><rect x="21" y="6" width="1" height="1"/><rect x="24" y="6" width="3" height="1"/><rect x="29" y="6" width="9" height="1"/><rect x="39" y="6" width="3" height="1"/><rect x="4" y="7" width="4" height="1"/><rect x="24" y="7" width="13" height="1"/><rect x="47" y="7" width="1" height="1"/><rect x="4" y="8" width="5" height="1"/><rect x="23" y="8" width="6" height="1"/><rect x="30" y="8" width="4" height="1"/><rect x="42" y="8" width="1" height="1"/><rect x="44" y="8" width="4" height="1"/><rect x="4" y="9" width="4" height="1"/><rect x="14" y="9" width="4" height="1"/><rect x="24" y="9" width="9" height="1"/><rect x="41" y="9" width="2" height="1"/><rect x="45" y="9" width="2" height="1"/><rect x="3" y="10" width="3" height="1"/><rect x="14" y="10" width="7" height="1"/><rect x="25" y="10" width="6" height="1"/><rect x="37" y="10" width="9" height="1"/><rect x="2" y="11" width="4" height="1"/><rect x="15" y="11" width="6" height="1"/><rect x="27" y="11" width="4" height="1"/><rect x="36" y="11" width="9" height="1"/><rect x="1" y="12" width="4" height="1"/><rect x="15" y="12" width="1" height="1"/><rect x="18" y="12" width="5" height="1"/><rect x="25" y="12" width="6" height="1"/><rect x="33" y="12" width="1" height="1"/><rect x="36" y="12" width="4" height="1"/><rect x="43" y="12" width="3" height="1"/><rect x="1" y="13" width="6" height="1"/><rect x="10" y="13" width="2" height="1"/><rect x="14" y="13" width="1" height="1"/><rect x="19" y="13" width="5" height="1"/><rect x="30" y="13" width="1" height="1"/><rect x="32" y="13" width="2" height="1"/><rect x="36" y="13" width="4" height="1"/><rect x="45" y="13" width="2" height="1"/><rect x="2" y="14" width="5" height="1"/><rect x="13" y="14" width="2" height="1"/><rect x="17" y="14" width="2" height="1"/><rect x="20" y="14" width="3" height="1"/><rect x="30" y="14" width="2" height="1"/><rect x="37" y="14" width="4" height="1"/><rect x="46" y="14" width="1" height="1"/><rect x="2" y="15" width="5" height="1"/><rect x="13" y="15" width="2" height="1"/><rect x="26" y="15" width="2" height="1"/><rect x="30" y="15" width="3" height="1"/><rect x="37" y="15" width="2" height="1"/><rect x="1" y="16" width="7" height="1"/><rect x="27" y="16" width="2" height="1"/><rect x="30" y="16" width="3" height="1"/><rect x="35" y="16" width="3" height="1"/><rect x="42" y="16" width="2" height="1"/><rect x="1" y="17" width="4" height="1"/><rect x="10" y="17" width="1" height="1"/><rect x="22" y="17" width="3" height="1"/><rect x="27" y="17" width="6" height="1"/><rect x="35" y="17" width="3" height="1"/><rect x="42" y="17" width="2" height="1"/><rect x="1" y="18" width="4" height="1"/><rect x="8" y="18" width="2" height="1"/><rect x="20" y="18" width="7" height="1"/><rect x="29" y="18" width="3" height="1"/><rect x="35" y="18" width="2" height="1"/><rect x="44" y="18" width="3" height="1"/><rect x="2" y="19" width="9" height="1"/><rect x="20" y="19" width="6" height="1"/><rect x="29" y="19" width="3" height="1"/><rect x="35" y="19" width="2" height="1"/><rect x="43" y="19" width="5" height="1"/><rect x="3" y="20" width="6" height="1"/><rect x="13" y="20" width="2" height="1"/><rect x="21" y="20" width="5" height="1"/><rect x="29" y="20" width="2" height="1"/><rect x="34" y="20" width="3" height="1"/><rect x="43" y="20" width="5" height="1"/><rect x="0" y="21" width="1" height="1"/><rect x="4" y="21" width="5" height="1"/><rect x="14" y="21" width="1" height="1"/><rect x="18" y="21" width="8" height="1"/><rect x="34" y="21" width="3" height="1"/><rect x="43" y="21" width="5" height="1"/><rect x="0" y="22" width="1" height="1"/><rect x="4" y="22" width="2" height="1"/><rect x="7" y="22" width="2" height="1"/><rect x="17" y="22" width="6" height="1"/><rect x="34" y="22" width="2" height="1"/><rect x="41" y="22" width="7" height="1"/><rect x="3" y="23" width="2" height="1"/><rect x="7" y="23" width="2" height="1"/><rect x="16" y="23" width="2" height="1"/><rect x="34" y="23" width="2" height="1"/><rect x="41" y="23" width="7" height="1"/><rect x="3" y="24" width="2" height="1"/><rect x="7" y="24" width="2" height="1"/><rect x="13" y="24" width="4" height="1"/><rect x="29" y="24" width="2" height="1"/><rect x="33" y="24" width="3" height="1"/><rect x="41" y="24" width="3" height="1"/><rect x="8" y="25" width="2" height="1"/><rect x="13" y="25" width="4" height="1"/><rect x="23" y="25" width="2" height="1"/><rect x="29" y="25" width="1" height="1"/><rect x="33" y="25" width="3" height="1"/><rect x="0" y="26" width="1" height="1"/><rect x="8" y="26" width="7" height="1"/><rect x="19" y="26" width="1" height="1"/><rect x="38" y="26" width="2" height="1"/><rect x="0" y="27" width="1" height="1"/><rect x="8" y="27" width="6" height="1"/><rect x="19" y="27" width="1" height="1"/><rect x="37" y="27" width="3" height="1"/><rect x="0" y="28" width="1" height="1"/><rect x="8" y="28" width="3" height="1"/><rect x="12" y="28" width="2" height="1"/><rect x="19" y="28" width="2" height="1"/><rect x="25" y="28" width="2" height="1"/><rect x="32" y="28" width="2" height="1"/><rect x="38" y="28" width="3" height="1"/><rect x="42" y="28" width="1" height="1"/><rect x="47" y="28" width="1" height="1"/><rect x="0" y="29" width="6" height="1"/><rect x="7" y="29" width="2" height="1"/><rect x="12" y="29" width="2" height="1"/><rect x="20" y="29" width="2" height="1"/><rect x="25" y="29" width="4" height="1"/><rect x="31" y="29" width="3" height="1"/><rect x="38" y="29" width="3" height="1"/><rect x="45" y="29" width="3" height="1"/><rect x="0" y="30" width="8" height="1"/><rect x="10" y="30" width="4" height="1"/><rect x="15" y="30" width="2" height="1"/><rect x="20" y="30" width="3" height="1"/><rect x="26" y="30" width="6" height="1"/><rect x="38" y="30" width="2" height="1"/><rect x="44" y="30" width="1" height="1"/><rect x="47" y="30" width="1" height="1"/><rect x="0" y="31" width="7" height="1"/><rect x="13" y="31" width="1" height="1"/><rect x="16" y="31" width="1" height="1"/><rect x="18" y="31" width="6" height="1"/><rect x="27" y="31" width="6" height="1"/><rect x="37" y="31" width="2" height="1"/><rect x="0" y="32" width="4" height="1"/><rect x="16" y="32" width="4" height="1"/><rect x="22" y="32" width="3" height="1"/><rect x="26" y="32" width="3" height="1"/><rect x="30" y="32" width="2" height="1"/><rect x="36" y="32" width="3" height="1"/><rect x="45" y="32" width="1" height="1"/><rect x="47" y="32" width="1" height="1"/><rect x="0" y="33" width="4" height="1"/><rect x="18" y="33" width="2" height="1"/><rect x="22" y="33" width="3" height="1"/><rect x="26" y="33" width="6" height="1"/><rect x="36" y="33" width="3" height="1"/><rect x="44" y="33" width="4" height="1"/><rect x="0" y="34" width="4" height="1"/><rect x="7" y="34" width="1" height="1"/><rect x="19" y="34" width="1" height="1"/><rect x="23" y="34" width="1" height="1"/><rect x="26" y="34" width="5" height="1"/><rect x="37" y="34" width="2" height="1"/><rect x="44" y="34" width="4" height="1"/><rect x="0" y="35" width="4" height="1"/><rect x="7" y="35" width="1" height="1"/><rect x="13" y="35" width="3" height="1"/><rect x="18" y="35" width="3" height="1"/><rect x="23" y="35" width="1" height="1"/><rect x="28" y="35" width="3" height="1"/><rect x="36" y="35" width="3" height="1"/><rect x="44" y="35" width="1" height="1"/><rect x="47" y="35" width="1" height="1"/><rect x="0" y="36" width="3" height="1"/><rect x="7" y="36" width="4" height="1"/><rect x="12" y="36" width="2" height="1"/><rect x="18" y="36" width="3" height="1"/><rect x="23" y="36" width="1" height="1"/><rect x="28" y="36" width="6" height="1"/><rect x="36" y="36" width="3" height="1"/><rect x="40" y="36" width="4" height="1"/><rect x="7" y="37" width="4" height="1"/><rect x="18" y="37" width="3" height="1"/><rect x="29" y="37" width="1" height="1"/><rect x="32" y="37" width="11" height="1"/><rect x="0" y="38" width="2" height="1"/><rect x="9" y="38" width="3" height="1"/><rect x="15" y="38" width="1" height="1"/><rect x="18" y="38" width="6" height="1"/><rect x="34" y="38" width="1" height="1"/><rect x="39" y="38" width="3" height="1"/><rect x="0" y="39" width="3" height="1"/><rect x="10" y="39" width="2" height="1"/><rect x="15" y="39" width="2" height="1"/><rect x="18" y="39" width="6" height="1"/><rect x="29" y="39" width="3" height="1"/><rect x="34" y="39" width="1" height="1"/><rect x="38" y="39" width="4" height="1"/><rect x="0" y="40" width="3" height="1"/><rect x="10" y="40" width="2" height="1"/><rect x="15" y="40" width="13" height="1"/><rect x="34" y="40" width="6" height="1"/><rect x="44" y="40" width="1" height="1"/><rect x="47" y="40" width="1" height="1"/><rect x="0" y="41" width="1" height="1"/><rect x="11" y="41" width="2" height="1"/><rect x="15" y="41" width="13" height="1"/><rect x="35" y="41" width="1" height="1"/><rect x="37" y="41" width="4" height="1"/><rect x="44" y="41" width="4" height="1"/><rect x="7" y="42" width="1" height="1"/><rect x="10" y="42" width="6" height="1"/><rect x="18" y="42" width="5" height="1"/><rect x="24" y="42" width="4" height="1"/><rect x="44" y="42" width="4" height="1"/><rect x="4" y="43" width="4" height="1"/><rect x="10" y="43" width="6" height="1"/><rect x="19" y="43" width="4" height="1"/><rect x="26" y="43" width="2" height="1"/><rect x="32" y="43" width="2" height="1"/><rect x="43" y="43" width="5" height="1"/><rect x="4" y="44" width="4" height="1"/><rect x="10" y="44" width="6" height="1"/><rect x="18" y="44" width="5" height="1"/><rect x="28" y="44" width="1" height="1"/><rect x="31" y="44" width="3" height="1"/><rect x="43" y="44" width="4" height="1"/><rect x="4" y="45" width="4" height="1"/><rect x="10" y="45" width="4" height="1"/><rect x="19" y="45" width="3" height="1"/><rect x="43" y="45" width="4" height="1"/><rect x="2" y="46" width="6" height="1"/><rect x="9" y="46" width="6" height="1"/><rect x="17" y="46" width="4" height="1"/><rect x="25" y="46" width="1" height="1"/><rect x="38" y="46" width="3" height="1"/><rect x="44" y="46" width="3" height="1"/><rect x="2" y="47" width="12" height="1"/><rect x="17" y="47" width="4" height="1"/><rect x="24" y="47" width="3" height="1"/><rect x="39" y="47" width="4" height="1"/></g></pattern>
<pattern id="pM1" width="48" height="48" patternUnits="userSpaceOnUse"><g fill="#640000"><rect x="33" y="0" width="2" height="1"/><rect x="44" y="0" width="2" height="1"/><rect x="17" y="1" width="1" height="1"/><rect x="34" y="1" width="1" height="1"/><rect x="17" y="2" width="1" height="1"/><rect x="0" y="3" width="2" height="1"/><rect x="8" y="3" width="1" height="1"/><rect x="15" y="3" width="3" height="1"/><rect x="33" y="3" width="1" height="1"/><rect x="0" y="4" width="2" height="1"/><rect x="7" y="4" width="2" height="1"/><rect x="32" y="4" width="1" height="1"/><rect x="40" y="4" width="2" height="1"/><rect x="6" y="5" width="4" height="1"/><rect x="13" y="5" width="1" height="1"/><rect x="30" y="5" width="1" height="1"/><rect x="40" y="5" width="2" height="1"/><rect x="44" y="5" width="3" height="1"/><rect x="7" y="6" width="2" height="1"/><rect x="13" y="6" width="1" height="1"/><rect x="17" y="6" width="3" height="1"/><rect x="29" y="6" width="2" height="1"/><rect x="38" y="6" width="4" height="1"/><rect x="43" y="6" width="4" height="1"/><rect x="8" y="7" width="1" height="1"/><rect x="17" y="7" width="3" height="1"/><rect x="34" y="7" width="7" height="1"/><rect x="3" y="8" width="1" height="1"/><rect x="8" y="8" width="1" height="1"/><rect x="16" y="8" width="2" height="1"/><rect x="19" y="8" width="1" height="1"/><rect x="34" y="8" width="4" height="1"/><rect x="3" y="9" width="2" height="1"/><rect x="16" y="9" width="2" height="1"/><rect x="32" y="9" width="2" height="1"/><rect x="46" y="9" width="1" height="1"/><rect x="3" y="10" width="2" height="1"/><rect x="15" y="10" width="3" height="1"/><rect x="32" y="10" width="2" height="1"/><rect x="42" y="10" width="4" height="1"/><rect x="3" y="11" width="2" height="1"/><rect x="15" y="11" width="4" height="1"/><rect x="41" y="11" width="4" height="1"/><rect x="4" y="12" width="1" height="1"/><rect x="16" y="12" width="4" height="1"/><rect x="33" y="12" width="2" height="1"/><rect x="41" y="12" width="2" height="1"/><rect x="18" y="13" width="1" height="1"/><rect x="25" y="13" width="2" height="1"/><rect x="33" y="13" width="2" height="1"/><rect x="26" y="14" width="2" height="1"/><rect x="32" y="14" width="2" height="1"/><rect x="19" y="15" width="1" height="1"/><rect x="26" y="15" width="3" height="1"/><rect x="30" y="15" width="3" height="1"/><rect x="35" y="15" width="3" height="1"/><rect x="4" y="16" width="1" height="1"/><rect x="30" y="16" width="3" height="1"/><rect x="35" y="16" width="3" height="1"/><rect x="4" y="17" width="2" height="1"/><rect x="29" y="17" width="1" height="1"/><rect x="37" y="17" width="1" height="1"/><rect x="41" y="17" width="1" height="1"/><rect x="4" y="18" width="2" height="1"/><rect x="28" y="18" width="2" height="1"/><rect x="40" y="18" width="2" height="1"/><rect x="21" y="19" width="2" height="1"/><rect x="27" y="19" width="3" height="1"/><rect x="21" y="20" width="1" height="1"/><rect x="26" y="20" width="3" height="1"/><rect x="34" y="20" width="2" height="1"/><rect x="25" y="21" width="2" height="1"/><rect x="35" y="21" width="1" height="1"/><rect x="5" y="22" width="1" height="1"/><rect x="21" y="22" width="2" height="1"/><rect x="24" y="22" width="3" height="1"/><rect x="21" y="23" width="2" height="1"/><rect x="1" y="24" width="1" height="1"/><rect x="20" y="24" width="1" height="1"/><rect x="37" y="24" width="1" height="1"/><rect x="0" y="25" width="1" height="1"/><rect x="19" y="25" width="3" height="1"/><rect x="47" y="25" width="1" height="1"/><rect x="19" y="26" width="3" height="1"/><rect x="10" y="27" width="1" height="1"/><rect x="35" y="27" width="1" height="1"/><rect x="4" y="28" width="2" height="1"/><rect x="9" y="28" width="1" height="1"/><rect x="4" y="29" width="2" height="1"/><rect x="14" y="30" width="2" height="1"/><rect x="14" y="31" width="2" height="1"/><rect x="43" y="31" width="2" height="1"/><rect x="2" y="32" width="1" height="1"/><rect x="15" y="32" width="1" height="1"/><rect x="44" y="32" width="1" height="1"/><rect x="1" y="33" width="3" height="1"/><rect x="15" y="33" width="1" height="1"/><rect x="19" y="33" width="2" height="1"/><rect x="45" y="33" width="2" height="1"/><rect x="0" y="34" width="2" height="1"/><rect x="14" y="34" width="2" height="1"/><rect x="19" y="34" width="2" height="1"/><rect x="0" y="35" width="2" height="1"/><rect x="19" y="35" width="1" height="1"/><rect x="24" y="35" width="1" height="1"/><rect x="1" y="36" width="2" height="1"/><rect x="24" y="36" width="2" height="1"/><rect x="1" y="37" width="2" height="1"/><rect x="24" y="37" width="4" height="1"/><rect x="39" y="37" width="1" height="1"/><rect x="45" y="37" width="2" height="1"/><rect x="9" y="38" width="3" height="1"/><rect x="25" y="38" width="2" height="1"/><rect x="45" y="38" width="2" height="1"/><rect x="6" y="39" width="3" height="1"/><rect x="25" y="39" width="2" height="1"/><rect x="45" y="39" width="1" height="1"/><rect x="6" y="40" width="2" height="1"/><rect x="24" y="40" width="5" height="1"/><rect x="31" y="40" width="2" height="1"/><rect x="47" y="40" width="1" height="1"/><rect x="0" y="41" width="1" height="1"/><rect x="9" y="41" width="1" height="1"/><rect x="23" y="41" width="6" height="1"/><rect x="31" y="41" width="1" height="1"/><rect x="35" y="41" width="2" height="1"/><rect x="42" y="41" width="1" height="1"/><rect x="46" y="41" width="2" height="1"/><rect x="1" y="42" width="1" height="1"/><rect x="6" y="42" width="1" height="1"/><rect x="9" y="42" width="2" height="1"/><rect x="24" y="42" width="4" height="1"/><rect x="35" y="42" width="2" height="1"/><rect x="7" y="43" width="3" height="1"/><rect x="25" y="43" width="1" height="1"/><rect x="27" y="43" width="2" height="1"/><rect x="8" y="44" width="2" height="1"/><rect x="18" y="44" width="2" height="1"/><rect x="25" y="44" width="1" height="1"/><rect x="35" y="44" width="2" height="1"/><rect x="8" y="45" width="3" height="1"/><rect x="19" y="45" width="1" height="1"/><rect x="35" y="45" width="2" height="1"/><rect x="9" y="46" width="2" height="1"/><rect x="13" y="46" width="2" height="1"/><rect x="23" y="46" width="2" height="1"/><rect x="9" y="47" width="2" height="1"/><rect x="14" y="47" width="1" height="1"/><rect x="24" y="47" width="1" height="1"/><rect x="33" y="47" width="2" height="1"/></g></pattern>
<pattern id="pM2" width="48" height="48" patternUnits="userSpaceOnUse"><g fill="#640000"><rect x="2" y="0" width="1" height="1"/><rect x="8" y="0" width="2" height="1"/><rect x="21" y="0" width="4" height="1"/><rect x="27" y="0" width="2" height="1"/><rect x="42" y="0" width="4" height="1"/><rect x="1" y="1" width="2" height="1"/><rect x="8" y="1" width="2" height="1"/><rect x="16" y="1" width="3" height="1"/><rect x="20" y="1" width="6" height="1"/><rect x="27" y="1" width="2" height="1"/><rect x="33" y="1" width="2" height="1"/><rect x="37" y="1" width="2" height="1"/><rect x="44" y="1" width="1" height="1"/><rect x="9" y="2" width="1" height="1"/><rect x="14" y="2" width="8" height="1"/><rect x="33" y="2" width="6" height="1"/><rect x="9" y="3" width="1" height="1"/><rect x="14" y="3" width="9" height="1"/><rect x="33" y="3" width="6" height="1"/><rect x="14" y="4" width="5" height="1"/><rect x="20" y="4" width="3" height="1"/><rect x="33" y="4" width="8" height="1"/><rect x="47" y="4" width="1" height="1"/><rect x="0" y="5" width="3" height="1"/><rect x="7" y="5" width="4" height="1"/><rect x="14" y="5" width="1" height="1"/><rect x="20" y="5" width="3" height="1"/><rect x="37" y="5" width="4" height="1"/><rect x="47" y="5" width="1" height="1"/><rect x="0" y="6" width="4" height="1"/><rect x="8" y="6" width="4" height="1"/><rect x="19" y="6" width="2" height="1"/><rect x="32" y="6" width="1" height="1"/><rect x="37" y="6" width="6" height="1"/><rect x="47" y="6" width="1" height="1"/><rect x="0" y="7" width="2" height="1"/><rect x="11" y="7" width="2" height="1"/><rect x="17" y="7" width="4" height="1"/><rect x="31" y="7" width="2" height="1"/><rect x="37" y="7" width="1" height="1"/><rect x="42" y="7" width="6" height="1"/><rect x="8" y="8" width="1" height="1"/><rect x="10" y="8" width="4" height="1"/><rect x="17" y="8" width="5" height="1"/><rect x="30" y="8" width="2" height="1"/><rect x="37" y="8" width="1" height="1"/><rect x="41" y="8" width="6" height="1"/><rect x="7" y="9" width="8" height="1"/><rect x="21" y="9" width="2" height="1"/><rect x="37" y="9" width="2" height="1"/><rect x="40" y="9" width="2" height="1"/><rect x="43" y="9" width="4" height="1"/><rect x="8" y="10" width="7" height="1"/><rect x="26" y="10" width="2" height="1"/><rect x="32" y="10" width="2" height="1"/><rect x="38" y="10" width="3" height="1"/><rect x="11" y="11" width="3" height="1"/><rect x="26" y="11" width="3" height="1"/><rect x="33" y="11" width="1" height="1"/><rect x="46" y="11" width="2" height="1"/><rect x="11" y="12" width="3" height="1"/><rect x="26" y="12" width="3" height="1"/><rect x="43" y="12" width="5" height="1"/><rect x="6" y="13" width="5" height="1"/><rect x="19" y="13" width="4" height="1"/><rect x="42" y="13" width="2" height="1"/><rect x="2" y="14" width="1" height="1"/><rect x="6" y="14" width="5" height="1"/><rect x="19" y="14" width="4" height="1"/><rect x="42" y="14" width="2" height="1"/><rect x="2" y="15" width="2" height="1"/><rect x="9" y="15" width="2" height="1"/><rect x="19" y="15" width="5" height="1"/><rect x="46" y="15" width="2" height="1"/><rect x="0" y="16" width="1" height="1"/><rect x="2" y="16" width="2" height="1"/><rect x="9" y="16" width="2" height="1"/><rect x="14" y="16" width="3" height="1"/><rect x="21" y="16" width="6" height="1"/><rect x="46" y="16" width="2" height="1"/><rect x="0" y="17" width="1" height="1"/><rect x="6" y="17" width="1" height="1"/><rect x="9" y="17" width="3" height="1"/><rect x="14" y="17" width="3" height="1"/><rect x="25" y="17" width="3" height="1"/><rect x="29" y="17" width="3" height="1"/><rect x="45" y="17" width="3" height="1"/><rect x="0" y="18" width="1" height="1"/><rect x="6" y="18" width="1" height="1"/><rect x="9" y="18" width="3" height="1"/><rect x="24" y="18" width="3" height="1"/><rect x="29" y="18" width="2" height="1"/><rect x="10" y="19" width="2" height="1"/><rect x="24" y="19" width="3" height="1"/><rect x="10" y="20" width="2" height="1"/><rect x="19" y="20" width="1" height="1"/><rect x="25" y="20" width="3" height="1"/><rect x="3" y="21" width="2" height="1"/><rect x="18" y="21" width="2" height="1"/><rect x="26" y="21" width="2" height="1"/><rect x="38" y="21" width="1" height="1"/><rect x="3" y="22" width="1" height="1"/><rect x="14" y="22" width="1" height="1"/><rect x="28" y="22" width="2" height="1"/><rect x="38" y="22" width="1" height="1"/><rect x="2" y="23" width="1" height="1"/><rect x="13" y="23" width="2" height="1"/><rect x="28" y="23" width="3" height="1"/><rect x="42" y="23" width="2" height="1"/><rect x="1" y="24" width="1" height="1"/><rect x="14" y="24" width="1" height="1"/><rect x="21" y="24" width="1" height="1"/><rect x="24" y="24" width="7" height="1"/><rect x="41" y="24" width="4" height="1"/><rect x="1" y="25" width="1" height="1"/><rect x="6" y="25" width="3" height="1"/><rect x="14" y="25" width="1" height="1"/><rect x="20" y="25" width="4" height="1"/><rect x="28" y="25" width="2" height="1"/><rect x="41" y="25" width="4" height="1"/><rect x="0" y="26" width="2" height="1"/><rect x="6" y="26" width="4" height="1"/><rect x="15" y="26" width="1" height="1"/><rect x="21" y="26" width="3" height="1"/><rect x="27" y="26" width="2" height="1"/><rect x="35" y="26" width="1" height="1"/><rect x="43" y="26" width="5" height="1"/><rect x="0" y="27" width="3" height="1"/><rect x="6" y="27" width="5" height="1"/><rect x="27" y="27" width="2" height="1"/><rect x="35" y="27" width="2" height="1"/><rect x="43" y="27" width="5" height="1"/><rect x="1" y="28" width="2" height="1"/><rect x="9" y="28" width="2" height="1"/><rect x="13" y="28" width="2" height="1"/><rect x="27" y="28" width="2" height="1"/><rect x="35" y="28" width="2" height="1"/><rect x="40" y="28" width="1" height="1"/><rect x="46" y="28" width="1" height="1"/><rect x="9" y="29" width="2" height="1"/><rect x="13" y="29" width="2" height="1"/><rect x="27" y="29" width="2" height="1"/><rect x="36" y="29" width="1" height="1"/><rect x="40" y="29" width="2" height="1"/><rect x="9" y="30" width="1" height="1"/><rect x="13" y="30" width="2" height="1"/><rect x="16" y="30" width="5" height="1"/><rect x="42" y="30" width="1" height="1"/><rect x="17" y="31" width="4" height="1"/><rect x="36" y="31" width="2" height="1"/><rect x="42" y="31" width="1" height="1"/><rect x="17" y="32" width="3" height="1"/><rect x="36" y="32" width="2" height="1"/><rect x="42" y="32" width="2" height="1"/><rect x="5" y="33" width="3" height="1"/><rect x="17" y="33" width="1" height="1"/><rect x="32" y="33" width="1" height="1"/><rect x="35" y="33" width="2" height="1"/><rect x="42" y="33" width="3" height="1"/><rect x="5" y="34" width="3" height="1"/><rect x="12" y="34" width="4" height="1"/><rect x="23" y="34" width="1" height="1"/><rect x="34" y="34" width="2" height="1"/><rect x="41" y="34" width="4" height="1"/><rect x="6" y="35" width="1" height="1"/><rect x="14" y="35" width="1" height="1"/><rect x="22" y="35" width="4" height="1"/><rect x="33" y="35" width="2" height="1"/><rect x="40" y="35" width="3" height="1"/><rect x="47" y="35" width="1" height="1"/><rect x="0" y="36" width="2" height="1"/><rect x="21" y="36" width="4" height="1"/><rect x="39" y="36" width="3" height="1"/><rect x="47" y="36" width="1" height="1"/><rect x="0" y="37" width="3" height="1"/><rect x="7" y="37" width="6" height="1"/><rect x="22" y="37" width="2" height="1"/><rect x="27" y="37" width="1" height="1"/><rect x="34" y="37" width="3" height="1"/><rect x="39" y="37" width="6" height="1"/><rect x="47" y="37" width="1" height="1"/><rect x="0" y="38" width="10" height="1"/><rect x="11" y="38" width="2" height="1"/><rect x="27" y="38" width="1" height="1"/><rect x="31" y="38" width="5" height="1"/><rect x="39" y="38" width="6" height="1"/><rect x="47" y="38" width="1" height="1"/><rect x="0" y="39" width="3" height="1"/><rect x="4" y="39" width="4" height="1"/><rect x="11" y="39" width="1" height="1"/><rect x="24" y="39" width="2" height="1"/><rect x="27" y="39" width="2" height="1"/><rect x="31" y="39" width="5" height="1"/><rect x="38" y="39" width="1" height="1"/><rect x="42" y="39" width="2" height="1"/><rect x="47" y="39" width="1" height="1"/><rect x="5" y="40" width="2" height="1"/><rect x="24" y="40" width="5" height="1"/><rect x="38" y="40" width="2" height="1"/><rect x="46" y="40" width="1" height="1"/><rect x="5" y="41" width="1" height="1"/><rect x="7" y="41" width="1" height="1"/><rect x="19" y="41" width="3" height="1"/><rect x="24" y="41" width="3" height="1"/><rect x="28" y="41" width="1" height="1"/><rect x="46" y="41" width="2" height="1"/><rect x="7" y="42" width="2" height="1"/><rect x="11" y="42" width="2" height="1"/><rect x="15" y="42" width="2" height="1"/><rect x="18" y="42" width="9" height="1"/><rect x="46" y="42" width="2" height="1"/><rect x="11" y="43" width="6" height="1"/><rect x="20" y="43" width="7" height="1"/><rect x="0" y="44" width="2" height="1"/><rect x="12" y="44" width="5" height="1"/><rect x="20" y="44" width="3" height="1"/><rect x="24" y="44" width="3" height="1"/><rect x="30" y="44" width="1" height="1"/><rect x="0" y="45" width="2" height="1"/><rect x="14" y="45" width="2" height="1"/><rect x="21" y="45" width="1" height="1"/><rect x="24" y="45" width="3" height="1"/><rect x="34" y="45" width="1" height="1"/><rect x="42" y="45" width="1" height="1"/><rect x="1" y="46" width="1" height="1"/><rect x="14" y="46" width="1" height="1"/><rect x="24" y="46" width="3" height="1"/><rect x="41" y="46" width="2" height="1"/><rect x="8" y="47" width="1" height="1"/><rect x="24" y="47" width="3" height="1"/><rect x="41" y="47" width="3" height="1"/></g></pattern>
<pattern id="pO1" width="48" height="48" patternUnits="userSpaceOnUse"><g fill="#ffa500"><rect x="16" y="0" width="1" height="1"/><rect x="23" y="0" width="1" height="1"/><rect x="28" y="0" width="2" height="1"/><rect x="41" y="0" width="1" height="1"/><rect x="9" y="1" width="1" height="1"/><rect x="23" y="1" width="2" height="1"/><rect x="28" y="1" width="2" height="1"/><rect x="29" y="2" width="2" height="1"/><rect x="34" y="2" width="1" height="1"/><rect x="30" y="3" width="3" height="1"/><rect x="13" y="4" width="1" height="1"/><rect x="25" y="4" width="2" height="1"/><rect x="30" y="4" width="3" height="1"/><rect x="11" y="5" width="3" height="1"/><rect x="24" y="5" width="4" height="1"/><rect x="29" y="5" width="3" height="1"/><rect x="19" y="6" width="1" height="1"/><rect x="25" y="6" width="6" height="1"/><rect x="36" y="6" width="3" height="1"/><rect x="44" y="6" width="1" height="1"/><rect x="26" y="7" width="5" height="1"/><rect x="36" y="7" width="2" height="1"/><rect x="44" y="7" width="1" height="1"/><rect x="26" y="8" width="1" height="1"/><rect x="28" y="8" width="3" height="1"/><rect x="34" y="8" width="4" height="1"/><rect x="23" y="9" width="4" height="1"/><rect x="33" y="9" width="3" height="1"/><rect x="26" y="10" width="4" height="1"/><rect x="47" y="10" width="1" height="1"/><rect x="20" y="11" width="1" height="1"/><rect x="27" y="11" width="5" height="1"/><rect x="44" y="11" width="1" height="1"/><rect x="46" y="11" width="2" height="1"/><rect x="14" y="12" width="2" height="1"/><rect x="19" y="12" width="4" height="1"/><rect x="29" y="12" width="4" height="1"/><rect x="36" y="12" width="1" height="1"/><rect x="45" y="12" width="1" height="1"/><rect x="6" y="13" width="1" height="1"/><rect x="28" y="13" width="10" height="1"/><rect x="30" y="14" width="2" height="1"/><rect x="36" y="14" width="3" height="1"/><rect x="29" y="15" width="2" height="1"/><rect x="37" y="15" width="1" height="1"/><rect x="28" y="16" width="3" height="1"/><rect x="2" y="17" width="2" height="1"/><rect x="5" y="17" width="2" height="1"/><rect x="27" y="17" width="2" height="1"/><rect x="1" y="18" width="3" height="1"/><rect x="43" y="18" width="1" height="1"/><rect x="0" y="19" width="4" height="1"/><rect x="15" y="19" width="1" height="1"/><rect x="0" y="20" width="3" height="1"/><rect x="46" y="20" width="2" height="1"/><rect x="5" y="22" width="1" height="1"/><rect x="44" y="22" width="1" height="1"/><rect x="4" y="23" width="2" height="1"/><rect x="45" y="23" width="1" height="1"/><rect x="5" y="24" width="1" height="1"/><rect x="44" y="24" width="2" height="1"/><rect x="7" y="25" width="2" height="1"/><rect x="17" y="25" width="2" height="1"/><rect x="42" y="25" width="5" height="1"/><rect x="7" y="26" width="2" height="1"/><rect x="18" y="26" width="2" height="1"/><rect x="44" y="26" width="3" height="1"/><rect x="17" y="27" width="3" height="1"/><rect x="33" y="27" width="1" height="1"/><rect x="41" y="27" width="1" height="1"/><rect x="45" y="27" width="1" height="1"/><rect x="1" y="28" width="1" height="1"/><rect x="16" y="28" width="4" height="1"/><rect x="33" y="28" width="1" height="1"/><rect x="1" y="29" width="1" height="1"/><rect x="22" y="29" width="1" height="1"/><rect x="32" y="29" width="1" height="1"/><rect x="34" y="29" width="1" height="1"/><rect x="44" y="29" width="1" height="1"/><rect x="2" y="30" width="1" height="1"/><rect x="12" y="30" width="4" height="1"/><rect x="22" y="30" width="1" height="1"/><rect x="31" y="30" width="1" height="1"/><rect x="34" y="30" width="1" height="1"/><rect x="0" y="31" width="3" height="1"/><rect x="12" y="31" width="4" height="1"/><rect x="21" y="31" width="3" height="1"/><rect x="26" y="31" width="1" height="1"/><rect x="1" y="32" width="2" height="1"/><rect x="9" y="32" width="2" height="1"/><rect x="13" y="32" width="2" height="1"/><rect x="22" y="32" width="3" height="1"/><rect x="9" y="33" width="1" height="1"/><rect x="13" y="33" width="1" height="1"/><rect x="15" y="35" width="1" height="1"/><rect x="43" y="35" width="3" height="1"/><rect x="5" y="36" width="1" height="1"/><rect x="15" y="36" width="1" height="1"/><rect x="30" y="36" width="1" height="1"/><rect x="43" y="36" width="1" height="1"/><rect x="47" y="36" width="1" height="1"/><rect x="5" y="37" width="2" height="1"/><rect x="34" y="37" width="1" height="1"/><rect x="27" y="38" width="1" height="1"/><rect x="33" y="38" width="3" height="1"/><rect x="14" y="39" width="1" height="1"/><rect x="26" y="39" width="2" height="1"/><rect x="33" y="39" width="2" height="1"/><rect x="47" y="39" width="1" height="1"/><rect x="33" y="40" width="2" height="1"/><rect x="47" y="40" width="1" height="1"/><rect x="12" y="41" width="3" height="1"/><rect x="19" y="41" width="1" height="1"/><rect x="26" y="41" width="2" height="1"/><rect x="38" y="41" width="2" height="1"/><rect x="12" y="42" width="2" height="1"/><rect x="15" y="42" width="6" height="1"/><rect x="26" y="42" width="3" height="1"/><rect x="38" y="42" width="2" height="1"/><rect x="46" y="42" width="2" height="1"/><rect x="16" y="43" width="6" height="1"/><rect x="25" y="43" width="4" height="1"/><rect x="38" y="43" width="1" height="1"/><rect x="42" y="43" width="2" height="1"/><rect x="2" y="44" width="1" height="1"/><rect x="18" y="44" width="3" height="1"/><rect x="27" y="44" width="6" height="1"/><rect x="41" y="44" width="3" height="1"/><rect x="1" y="45" width="1" height="1"/><rect x="28" y="45" width="3" height="1"/><rect x="32" y="45" width="2" height="1"/><rect x="41" y="45" width="3" height="1"/><rect x="3" y="46" width="1" height="1"/><rect x="29" y="46" width="2" height="1"/><rect x="32" y="46" width="2" height="1"/><rect x="41" y="46" width="2" height="1"/><rect x="2" y="47" width="1" height="1"/><rect x="16" y="47" width="1" height="1"/><rect x="23" y="47" width="1" height="1"/><rect x="29" y="47" width="1" height="1"/><rect x="41" y="47" width="1" height="1"/></g></pattern>
<pattern id="pO2" width="48" height="48" patternUnits="userSpaceOnUse"><g fill="#ffa500"><rect x="9" y="0" width="4" height="1"/><rect x="19" y="0" width="2" height="1"/><rect x="23" y="0" width="2" height="1"/><rect x="27" y="0" width="1" height="1"/><rect x="30" y="0" width="3" height="1"/><rect x="34" y="0" width="5" height="1"/><rect x="9" y="1" width="7" height="1"/><rect x="27" y="1" width="1" height="1"/><rect x="30" y="1" width="10" height="1"/><rect x="7" y="2" width="4" height="1"/><rect x="13" y="2" width="4" height="1"/><rect x="31" y="2" width="7" height="1"/><rect x="39" y="2" width="1" height="1"/><rect x="1" y="3" width="2" height="1"/><rect x="6" y="3" width="5" height="1"/><rect x="14" y="3" width="3" height="1"/><rect x="32" y="3" width="4" height="1"/><rect x="40" y="3" width="1" height="1"/><rect x="1" y="4" width="3" height="1"/><rect x="6" y="4" width="7" height="1"/><rect x="15" y="4" width="1" height="1"/><rect x="2" y="5" width="2" height="1"/><rect x="7" y="5" width="3" height="1"/><rect x="18" y="5" width="2" height="1"/><rect x="23" y="5" width="1" height="1"/><rect x="35" y="5" width="1" height="1"/><rect x="2" y="6" width="3" height="1"/><rect x="18" y="6" width="1" height="1"/><rect x="23" y="6" width="1" height="1"/><rect x="36" y="6" width="2" height="1"/><rect x="3" y="7" width="2" height="1"/><rect x="18" y="7" width="1" height="1"/><rect x="23" y="7" width="1" height="1"/><rect x="31" y="7" width="2" height="1"/><rect x="37" y="7" width="2" height="1"/><rect x="18" y="8" width="2" height="1"/><rect x="31" y="8" width="4" height="1"/><rect x="38" y="8" width="1" height="1"/><rect x="5" y="9" width="2" height="1"/><rect x="16" y="9" width="1" height="1"/><rect x="18" y="9" width="2" height="1"/><rect x="33" y="9" width="2" height="1"/><rect x="45" y="9" width="3" height="1"/><rect x="4" y="10" width="4" height="1"/><rect x="19" y="10" width="3" height="1"/><rect x="46" y="10" width="2" height="1"/><rect x="4" y="11" width="4" height="1"/><rect x="20" y="11" width="3" height="1"/><rect x="35" y="11" width="2" height="1"/><rect x="38" y="11" width="4" height="1"/><rect x="4" y="12" width="3" height="1"/><rect x="21" y="12" width="2" height="1"/><rect x="38" y="12" width="2" height="1"/><rect x="5" y="13" width="2" height="1"/><rect x="20" y="13" width="3" height="1"/><rect x="31" y="13" width="1" height="1"/><rect x="5" y="14" width="1" height="1"/><rect x="14" y="14" width="3" height="1"/><rect x="19" y="14" width="4" height="1"/><rect x="42" y="14" width="1" height="1"/><rect x="6" y="15" width="1" height="1"/><rect x="14" y="15" width="2" height="1"/><rect x="19" y="15" width="1" height="1"/><rect x="22" y="15" width="1" height="1"/><rect x="32" y="15" width="2" height="1"/><rect x="41" y="15" width="2" height="1"/><rect x="11" y="16" width="1" height="1"/><rect x="14" y="16" width="3" height="1"/><rect x="22" y="16" width="2" height="1"/><rect x="32" y="16" width="4" height="1"/><rect x="2" y="17" width="3" height="1"/><rect x="16" y="17" width="2" height="1"/><rect x="22" y="17" width="2" height="1"/><rect x="29" y="17" width="1" height="1"/><rect x="32" y="17" width="4" height="1"/><rect x="37" y="17" width="2" height="1"/><rect x="4" y="18" width="1" height="1"/><rect x="28" y="18" width="7" height="1"/><rect x="38" y="18" width="2" height="1"/><rect x="11" y="19" width="1" height="1"/><rect x="19" y="19" width="2" height="1"/><rect x="27" y="19" width="8" height="1"/><rect x="43" y="19" width="2" height="1"/><rect x="11" y="20" width="1" height="1"/><rect x="19" y="20" width="4" height="1"/><rect x="26" y="20" width="2" height="1"/><rect x="29" y="20" width="8" height="1"/><rect x="43" y="20" width="2" height="1"/><rect x="21" y="21" width="2" height="1"/><rect x="26" y="21" width="2" height="1"/><rect x="29" y="21" width="5" height="1"/><rect x="43" y="21" width="3" height="1"/><rect x="10" y="22" width="1" height="1"/><rect x="22" y="22" width="2" height="1"/><rect x="26" y="22" width="2" height="1"/><rect x="29" y="22" width="1" height="1"/><rect x="31" y="22" width="2" height="1"/><rect x="43" y="22" width="3" height="1"/><rect x="0" y="23" width="2" height="1"/><rect x="10" y="23" width="1" height="1"/><rect x="16" y="23" width="1" height="1"/><rect x="23" y="23" width="2" height="1"/><rect x="31" y="23" width="2" height="1"/><rect x="43" y="23" width="1" height="1"/><rect x="0" y="24" width="3" height="1"/><rect x="1" y="25" width="2" height="1"/><rect x="21" y="25" width="1" height="1"/><rect x="28" y="25" width="2" height="1"/><rect x="34" y="25" width="1" height="1"/><rect x="39" y="25" width="1" height="1"/><rect x="1" y="26" width="1" height="1"/><rect x="9" y="26" width="1" height="1"/><rect x="21" y="26" width="1" height="1"/><rect x="28" y="26" width="2" height="1"/><rect x="33" y="26" width="2" height="1"/><rect x="8" y="27" width="3" height="1"/><rect x="20" y="27" width="2" height="1"/><rect x="33" y="27" width="3" height="1"/><rect x="38" y="27" width="2" height="1"/><rect x="43" y="27" width="1" height="1"/><rect x="8" y="28" width="4" height="1"/><rect x="24" y="28" width="1" height="1"/><rect x="33" y="28" width="2" height="1"/><rect x="38" y="28" width="2" height="1"/><rect x="42" y="28" width="5" height="1"/><rect x="7" y="29" width="6" height="1"/><rect x="23" y="29" width="3" height="1"/><rect x="27" y="29" width="1" height="1"/><rect x="37" y="29" width="3" height="1"/><rect x="44" y="29" width="3" height="1"/><rect x="6" y="30" width="2" height="1"/><rect x="10" y="30" width="2" height="1"/><rect x="15" y="30" width="1" height="1"/><rect x="19" y="30" width="1" height="1"/><rect x="23" y="30" width="6" height="1"/><rect x="39" y="30" width="3" height="1"/><rect x="44" y="30" width="3" height="1"/><rect x="2" y="31" width="2" height="1"/><rect x="6" y="31" width="2" height="1"/><rect x="10" y="31" width="2" height="1"/><rect x="14" y="31" width="2" height="1"/><rect x="23" y="31" width="5" height="1"/><rect x="30" y="31" width="1" height="1"/><rect x="39" y="31" width="2" height="1"/><rect x="1" y="32" width="3" height="1"/><rect x="6" y="32" width="2" height="1"/><rect x="15" y="32" width="2" height="1"/><rect x="20" y="32" width="8" height="1"/><rect x="29" y="32" width="2" height="1"/><rect x="38" y="32" width="6" height="1"/><rect x="1" y="33" width="2" height="1"/><rect x="6" y="33" width="4" height="1"/><rect x="15" y="33" width="4" height="1"/><rect x="25" y="33" width="6" height="1"/><rect x="38" y="33" width="6" height="1"/><rect x="7" y="34" width="4" height="1"/><rect x="17" y="34" width="3" height="1"/><rect x="25" y="34" width="6" height="1"/><rect x="37" y="34" width="7" height="1"/><rect x="7" y="35" width="2" height="1"/><rect x="18" y="35" width="1" height="1"/><rect x="25" y="35" width="2" height="1"/><rect x="31" y="35" width="1" height="1"/><rect x="35" y="35" width="2" height="1"/><rect x="39" y="35" width="3" height="1"/><rect x="18" y="36" width="1" height="1"/><rect x="23" y="36" width="2" height="1"/><rect x="29" y="36" width="3" height="1"/><rect x="34" y="36" width="3" height="1"/><rect x="16" y="37" width="3" height="1"/><rect x="22" y="37" width="3" height="1"/><rect x="35" y="37" width="1" height="1"/><rect x="39" y="37" width="1" height="1"/><rect x="15" y="38" width="4" height="1"/><rect x="22" y="38" width="3" height="1"/><rect x="35" y="38" width="1" height="1"/><rect x="38" y="38" width="3" height="1"/><rect x="4" y="39" width="1" height="1"/><rect x="10" y="39" width="1" height="1"/><rect x="14" y="39" width="5" height="1"/><rect x="23" y="39" width="2" height="1"/><rect x="35" y="39" width="6" height="1"/><rect x="1" y="40" width="4" height="1"/><rect x="14" y="40" width="4" height="1"/><rect x="27" y="40" width="4" height="1"/><rect x="37" y="40" width="4" height="1"/><rect x="1" y="41" width="4" height="1"/><rect x="9" y="41" width="1" height="1"/><rect x="14" y="41" width="3" height="1"/><rect x="27" y="41" width="5" height="1"/><rect x="39" y="41" width="2" height="1"/><rect x="2" y="42" width="4" height="1"/><rect x="8" y="42" width="3" height="1"/><rect x="27" y="42" width="6" height="1"/><rect x="40" y="42" width="1" height="1"/><rect x="3" y="43" width="8" height="1"/><rect x="17" y="43" width="3" height="1"/><rect x="26" y="43" width="3" height="1"/><rect x="30" y="43" width="3" height="1"/><rect x="42" y="43" width="1" height="1"/><rect x="5" y="44" width="6" height="1"/><rect x="15" y="44" width="5" height="1"/><rect x="26" y="44" width="4" height="1"/><rect x="31" y="44" width="4" height="1"/><rect x="42" y="44" width="1" height="1"/><rect x="46" y="44" width="1" height="1"/><rect x="2" y="45" width="1" height="1"/><rect x="5" y="45" width="5" height="1"/><rect x="14" y="45" width="3" height="1"/><rect x="19" y="45" width="2" height="1"/><rect x="26" y="45" width="4" height="1"/><rect x="32" y="45" width="3" height="1"/><rect x="42" y="45" width="1" height="1"/><rect x="46" y="45" width="2" height="1"/><rect x="0" y="46" width="3" height="1"/><rect x="9" y="46" width="2" height="1"/><rect x="15" y="46" width="2" height="1"/><rect x="19" y="46" width="2" height="1"/><rect x="26" y="46" width="5" height="1"/><rect x="32" y="46" width="3" height="1"/><rect x="42" y="46" width="1" height="1"/><rect x="47" y="46" width="1" height="1"/><rect x="1" y="47" width="1" height="1"/><rect x="9" y="47" width="2" height="1"/><rect x="15" y="47" width="2" height="1"/><rect x="19" y="47" width="3" height="1"/><rect x="23" y="47" width="2" height="1"/><rect x="27" y="47" width="1" height="1"/><rect x="29" y="47" width="4" height="1"/><rect x="34" y="47" width="1" height="1"/><rect x="36" y="47" width="3" height="1"/><rect x="42" y="47" width="1" height="1"/></g></pattern>
<pattern id="pO3" width="48" height="48" patternUnits="userSpaceOnUse"><g fill="#ffa500"><rect x="0" y="0" width="3" height="1"/><rect x="4" y="0" width="2" height="1"/><rect x="17" y="0" width="4" height="1"/><rect x="23" y="0" width="2" height="1"/><rect x="27" y="0" width="7" height="1"/><rect x="36" y="0" width="2" height="1"/><rect x="40" y="0" width="1" height="1"/><rect x="45" y="0" width="3" height="1"/><rect x="1" y="1" width="3" height="1"/><rect x="12" y="1" width="2" height="1"/><rect x="16" y="1" width="4" height="1"/><rect x="23" y="1" width="1" height="1"/><rect x="27" y="1" width="4" height="1"/><rect x="36" y="1" width="2" height="1"/><rect x="40" y="1" width="2" height="1"/><rect x="46" y="1" width="1" height="1"/><rect x="0" y="2" width="9" height="1"/><rect x="12" y="2" width="2" height="1"/><rect x="15" y="2" width="3" height="1"/><rect x="23" y="2" width="2" height="1"/><rect x="26" y="2" width="3" height="1"/><rect x="36" y="2" width="2" height="1"/><rect x="39" y="2" width="2" height="1"/><rect x="47" y="2" width="1" height="1"/><rect x="0" y="3" width="10" height="1"/><rect x="12" y="3" width="2" height="1"/><rect x="23" y="3" width="7" height="1"/><rect x="33" y="3" width="8" height="1"/><rect x="44" y="3" width="4" height="1"/><rect x="1" y="4" width="8" height="1"/><rect x="12" y="4" width="2" height="1"/><rect x="23" y="4" width="3" height="1"/><rect x="27" y="4" width="3" height="1"/><rect x="33" y="4" width="8" height="1"/><rect x="43" y="4" width="3" height="1"/><rect x="12" y="5" width="1" height="1"/><rect x="24" y="5" width="2" height="1"/><rect x="28" y="5" width="1" height="1"/><rect x="33" y="5" width="2" height="1"/><rect x="39" y="5" width="7" height="1"/><rect x="12" y="6" width="1" height="1"/><rect x="24" y="6" width="3" height="1"/><rect x="31" y="6" width="4" height="1"/><rect x="45" y="6" width="1" height="1"/><rect x="11" y="7" width="2" height="1"/><rect x="19" y="7" width="2" height="1"/><rect x="23" y="7" width="4" height="1"/><rect x="29" y="7" width="7" height="1"/><rect x="45" y="7" width="1" height="1"/><rect x="0" y="8" width="1" height="1"/><rect x="7" y="8" width="2" height="1"/><rect x="10" y="8" width="3" height="1"/><rect x="15" y="8" width="6" height="1"/><rect x="22" y="8" width="4" height="1"/><rect x="29" y="8" width="6" height="1"/><rect x="46" y="8" width="2" height="1"/><rect x="0" y="9" width="1" height="1"/><rect x="5" y="9" width="8" height="1"/><rect x="16" y="9" width="2" height="1"/><rect x="23" y="9" width="3" height="1"/><rect x="29" y="9" width="4" height="1"/><rect x="36" y="9" width="2" height="1"/><rect x="39" y="9" width="2" height="1"/><rect x="47" y="9" width="1" height="1"/><rect x="0" y="10" width="2" height="1"/><rect x="5" y="10" width="5" height="1"/><rect x="12" y="10" width="2" height="1"/><rect x="22" y="10" width="1" height="1"/><rect x="24" y="10" width="5" height="1"/><rect x="30" y="10" width="3" height="1"/><rect x="36" y="10" width="3" height="1"/><rect x="1" y="11" width="2" height="1"/><rect x="8" y="11" width="2" height="1"/><rect x="12" y="11" width="5" height="1"/><rect x="21" y="11" width="2" height="1"/><rect x="25" y="11" width="4" height="1"/><rect x="31" y="11" width="2" height="1"/><rect x="34" y="11" width="5" height="1"/><rect x="0" y="12" width="3" height="1"/><rect x="8" y="12" width="9" height="1"/><rect x="21" y="12" width="2" height="1"/><rect x="25" y="12" width="4" height="1"/><rect x="33" y="12" width="4" height="1"/><rect x="45" y="12" width="2" height="1"/><rect x="0" y="13" width="2" height="1"/><rect x="4" y="13" width="2" height="1"/><rect x="8" y="13" width="9" height="1"/><rect x="25" y="13" width="5" height="1"/><rect x="32" y="13" width="4" height="1"/><rect x="41" y="13" width="2" height="1"/><rect x="45" y="13" width="2" height="1"/><rect x="3" y="14" width="14" height="1"/><rect x="22" y="14" width="1" height="1"/><rect x="25" y="14" width="1" height="1"/><rect x="30" y="14" width="5" height="1"/><rect x="40" y="14" width="4" height="1"/><rect x="3" y="15" width="1" height="1"/><rect x="5" y="15" width="11" height="1"/><rect x="21" y="15" width="2" height="1"/><rect x="25" y="15" width="1" height="1"/><rect x="30" y="15" width="2" height="1"/><rect x="33" y="15" width="5" height="1"/><rect x="40" y="15" width="3" height="1"/><rect x="6" y="16" width="10" height="1"/><rect x="20" y="16" width="6" height="1"/><rect x="34" y="16" width="5" height="1"/><rect x="40" y="16" width="3" height="1"/><rect x="8" y="17" width="8" height="1"/><rect x="19" y="17" width="3" height="1"/><rect x="23" y="17" width="2" height="1"/><rect x="28" y="17" width="3" height="1"/><rect x="35" y="17" width="7" height="1"/><rect x="47" y="17" width="1" height="1"/><rect x="9" y="18" width="6" height="1"/><rect x="19" y="18" width="2" height="1"/><rect x="23" y="18" width="2" height="1"/><rect x="28" y="18" width="3" height="1"/><rect x="37" y="18" width="1" height="1"/><rect x="0" y="19" width="2" height="1"/><rect x="5" y="19" width="2" height="1"/><rect x="9" y="19" width="1" height="1"/><rect x="13" y="19" width="2" height="1"/><rect x="18" y="19" width="3" height="1"/><rect x="23" y="19" width="1" height="1"/><rect x="29" y="19" width="2" height="1"/><rect x="46" y="19" width="1" height="1"/><rect x="0" y="20" width="2" height="1"/><rect x="13" y="20" width="8" height="1"/><rect x="25" y="20" width="2" height="1"/><rect x="31" y="20" width="3" height="1"/><rect x="44" y="20" width="3" height="1"/><rect x="0" y="21" width="2" height="1"/><rect x="13" y="21" width="4" height="1"/><rect x="19" y="21" width="2" height="1"/><rect x="25" y="21" width="3" height="1"/><rect x="30" y="21" width="6" height="1"/><rect x="38" y="21" width="1" height="1"/><rect x="41" y="21" width="5" height="1"/><rect x="0" y="22" width="1" height="1"/><rect x="14" y="22" width="3" height="1"/><rect x="20" y="22" width="1" height="1"/><rect x="25" y="22" width="3" height="1"/><rect x="29" y="22" width="4" height="1"/><rect x="37" y="22" width="2" height="1"/><rect x="42" y="22" width="4" height="1"/><rect x="1" y="23" width="1" height="1"/><rect x="5" y="23" width="3" height="1"/><rect x="14" y="23" width="3" height="1"/><rect x="25" y="23" width="6" height="1"/><rect x="37" y="23" width="1" height="1"/><rect x="44" y="23" width="2" height="1"/><rect x="0" y="24" width="2" height="1"/><rect x="5" y="24" width="3" height="1"/><rect x="14" y="24" width="2" height="1"/><rect x="18" y="24" width="1" height="1"/><rect x="24" y="24" width="2" height="1"/><rect x="28" y="24" width="3" height="1"/><rect x="36" y="24" width="2" height="1"/><rect x="43" y="24" width="3" height="1"/><rect x="5" y="25" width="2" height="1"/><rect x="13" y="25" width="3" height="1"/><rect x="18" y="25" width="1" height="1"/><rect x="24" y="25" width="2" height="1"/><rect x="28" y="25" width="3" height="1"/><rect x="35" y="25" width="3" height="1"/><rect x="44" y="25" width="3" height="1"/><rect x="1" y="26" width="2" height="1"/><rect x="5" y="26" width="3" height="1"/><rect x="13" y="26" width="3" height="1"/><rect x="17" y="26" width="2" height="1"/><rect x="28" y="26" width="5" height="1"/><rect x="35" y="26" width="3" height="1"/><rect x="39" y="26" width="3" height="1"/><rect x="1" y="27" width="3" height="1"/><rect x="5" y="27" width="3" height="1"/><rect x="10" y="27" width="1" height="1"/><rect x="13" y="27" width="8" height="1"/><rect x="28" y="27" width="5" height="1"/><rect x="36" y="27" width="1" height="1"/><rect x="38" y="27" width="3" height="1"/><rect x="1" y="28" width="2" height="1"/><rect x="5" y="28" width="3" height="1"/><rect x="14" y="28" width="6" height="1"/><rect x="29" y="28" width="1" height="1"/><rect x="36" y="28" width="5" height="1"/><rect x="2" y="29" width="1" height="1"/><rect x="5" y="29" width="2" height="1"/><rect x="9" y="29" width="2" height="1"/><rect x="13" y="29" width="7" height="1"/><rect x="24" y="29" width="4" height="1"/><rect x="32" y="29" width="2" height="1"/><rect x="36" y="29" width="7" height="1"/><rect x="0" y="30" width="3" height="1"/><rect x="4" y="30" width="3" height="1"/><rect x="10" y="30" width="8" height="1"/><rect x="19" y="30" width="3" height="1"/><rect x="24" y="30" width="5" height="1"/><rect x="37" y="30" width="4" height="1"/><rect x="43" y="30" width="1" height="1"/><rect x="0" y="31" width="3" height="1"/><rect x="4" y="31" width="3" height="1"/><rect x="11" y="31" width="6" height="1"/><rect x="20" y="31" width="2" height="1"/><rect x="25" y="31" width="1" height="1"/><rect x="39" y="31" width="2" height="1"/><rect x="43" y="31" width="2" height="1"/><rect x="0" y="32" width="1" height="1"/><rect x="4" y="32" width="3" height="1"/><rect x="11" y="32" width="6" height="1"/><rect x="25" y="32" width="1" height="1"/><rect x="38" y="32" width="8" height="1"/><rect x="4" y="33" width="3" height="1"/><rect x="9" y="33" width="10" height="1"/><rect x="25" y="33" width="3" height="1"/><rect x="38" y="33" width="7" height="1"/><rect x="3" y="34" width="3" height="1"/><rect x="9" y="34" width="4" height="1"/><rect x="16" y="34" width="4" height="1"/><rect x="25" y="34" width="3" height="1"/><rect x="38" y="34" width="6" height="1"/><rect x="2" y="35" width="1" height="1"/><rect x="5" y="35" width="2" height="1"/><rect x="8" y="35" width="4" height="1"/><rect x="26" y="35" width="3" height="1"/><rect x="31" y="35" width="3" height="1"/><rect x="38" y="35" width="5" height="1"/><rect x="5" y="36" width="2" height="1"/><rect x="8" y="36" width="3" height="1"/><rect x="14" y="36" width="1" height="1"/><rect x="26" y="36" width="3" height="1"/><rect x="30" y="36" width="3" height="1"/><rect x="41" y="36" width="2" height="1"/><rect x="8" y="37" width="3" height="1"/><rect x="13" y="37" width="2" height="1"/><rect x="25" y="37" width="3" height="1"/><rect x="42" y="37" width="2" height="1"/><rect x="9" y="38" width="1" height="1"/><rect x="14" y="38" width="1" height="1"/><rect x="22" y="38" width="1" height="1"/><rect x="24" y="38" width="4" height="1"/><rect x="42" y="38" width="3" height="1"/><rect x="0" y="39" width="2" height="1"/><rect x="8" y="39" width="1" height="1"/><rect x="21" y="39" width="3" height="1"/><rect x="26" y="39" width="2" height="1"/><rect x="30" y="39" width="2" height="1"/><rect x="37" y="39" width="1" height="1"/><rect x="40" y="39" width="6" height="1"/><rect x="47" y="39" width="1" height="1"/><rect x="0" y="40" width="2" height="1"/><rect x="12" y="40" width="2" height="1"/><rect x="22" y="40" width="2" height="1"/><rect x="28" y="40" width="7" height="1"/><rect x="36" y="40" width="2" height="1"/><rect x="40" y="40" width="6" height="1"/><rect x="47" y="40" width="1" height="1"/><rect x="1" y="41" width="2" height="1"/><rect x="12" y="41" width="3" height="1"/><rect x="22" y="41" width="3" height="1"/><rect x="28" y="41" width="4" height="1"/><rect x="36" y="41" width="2" height="1"/><rect x="41" y="41" width="5" height="1"/><rect x="2" y="42" width="4" height="1"/><rect x="14" y="42" width="2" height="1"/><rect x="23" y="42" width="2" height="1"/><rect x="28" y="42" width="4" height="1"/><rect x="37" y="42" width="2" height="1"/><rect x="45" y="42" width="1" height="1"/><rect x="2" y="43" width="3" height="1"/><rect x="15" y="43" width="1" height="1"/><rect x="28" y="43" width="4" height="1"/><rect x="36" y="43" width="2" height="1"/><rect x="40" y="43" width="2" height="1"/><rect x="45" y="43" width="1" height="1"/><rect x="2" y="44" width="3" height="1"/><rect x="7" y="44" width="3" height="1"/><rect x="17" y="44" width="2" height="1"/><rect x="28" y="44" width="4" height="1"/><rect x="34" y="44" width="4" height="1"/><rect x="39" y="44" width="5" height="1"/><rect x="0" y="45" width="1" height="1"/><rect x="2" y="45" width="4" height="1"/><rect x="8" y="45" width="3" height="1"/><rect x="14" y="45" width="5" height="1"/><rect x="21" y="45" width="1" height="1"/><rect x="23" y="45" width="1" height="1"/><rect x="30" y="45" width="1" height="1"/><rect x="34" y="45" width="4" height="1"/><rect x="39" y="45" width="6" height="1"/><rect x="46" y="45" width="2" height="1"/><rect x="0" y="46" width="1" height="1"/><rect x="4" y="46" width="2" height="1"/><rect x="9" y="46" width="2" height="1"/><rect x="14" y="46" width="11" height="1"/><rect x="29" y="46" width="2" height="1"/><rect x="35" y="46" width="1" height="1"/><rect x="40" y="46" width="2" height="1"/><rect x="44" y="46" width="4" height="1"/><rect x="0" y="47" width="2" height="1"/><rect x="4" y="47" width="2" height="1"/><rect x="10" y="47" width="1" height="1"/><rect x="17" y="47" width="10" height="1"/><rect x="28" y="47" width="3" height="1"/><rect x="45" y="47" width="3" height="1"/></g></pattern>
<pattern id="pR1" width="48" height="48" patternUnits="userSpaceOnUse"><g fill="#ff5000"><rect x="5" y="0" width="3" height="1"/><rect x="6" y="1" width="2" height="1"/><rect x="31" y="1" width="2" height="1"/><rect x="40" y="1" width="3" height="1"/><rect x="7" y="2" width="1" height="1"/><rect x="40" y="2" width="3" height="1"/><rect x="2" y="3" width="2" height="1"/><rect x="14" y="3" width="1" height="1"/><rect x="27" y="3" width="2" height="1"/><rect x="41" y="3" width="2" height="1"/><rect x="9" y="4" width="2" height="1"/><rect x="14" y="4" width="2" height="1"/><rect x="26" y="4" width="2" height="1"/><rect x="33" y="4" width="1" height="1"/><rect x="9" y="5" width="1" height="1"/><rect x="23" y="5" width="1" height="1"/><rect x="34" y="5" width="1" height="1"/><rect x="13" y="6" width="1" height="1"/><rect x="23" y="6" width="1" height="1"/><rect x="34" y="6" width="2" height="1"/><rect x="34" y="7" width="2" height="1"/><rect x="5" y="9" width="1" height="1"/><rect x="9" y="9" width="2" height="1"/><rect x="29" y="9" width="2" height="1"/><rect x="5" y="10" width="1" height="1"/><rect x="8" y="10" width="3" height="1"/><rect x="25" y="10" width="1" height="1"/><rect x="27" y="10" width="2" height="1"/><rect x="41" y="10" width="2" height="1"/><rect x="5" y="11" width="6" height="1"/><rect x="41" y="11" width="2" height="1"/><rect x="5" y="12" width="5" height="1"/><rect x="41" y="12" width="2" height="1"/><rect x="0" y="13" width="1" height="1"/><rect x="5" y="13" width="3" height="1"/><rect x="24" y="13" width="2" height="1"/><rect x="32" y="13" width="1" height="1"/><rect x="47" y="13" width="1" height="1"/><rect x="0" y="14" width="1" height="1"/><rect x="4" y="14" width="3" height="1"/><rect x="21" y="14" width="1" height="1"/><rect x="24" y="14" width="2" height="1"/><rect x="40" y="14" width="1" height="1"/><rect x="47" y="14" width="1" height="1"/><rect x="0" y="15" width="1" height="1"/><rect x="4" y="15" width="3" height="1"/><rect x="14" y="15" width="2" height="1"/><rect x="25" y="15" width="1" height="1"/><rect x="39" y="15" width="1" height="1"/><rect x="0" y="16" width="1" height="1"/><rect x="38" y="16" width="8" height="1"/><rect x="47" y="16" width="1" height="1"/><rect x="0" y="17" width="2" height="1"/><rect x="38" y="17" width="4" height="1"/><rect x="45" y="17" width="3" height="1"/><rect x="0" y="18" width="1" height="1"/><rect x="39" y="18" width="3" height="1"/><rect x="45" y="18" width="2" height="1"/><rect x="31" y="19" width="4" height="1"/><rect x="44" y="19" width="2" height="1"/><rect x="32" y="20" width="4" height="1"/><rect x="44" y="20" width="2" height="1"/><rect x="18" y="21" width="3" height="1"/><rect x="32" y="21" width="5" height="1"/><rect x="32" y="22" width="2" height="1"/><rect x="24" y="23" width="1" height="1"/><rect x="32" y="23" width="2" height="1"/><rect x="46" y="23" width="1" height="1"/><rect x="21" y="24" width="1" height="1"/><rect x="32" y="24" width="2" height="1"/><rect x="32" y="25" width="1" height="1"/><rect x="36" y="25" width="4" height="1"/><rect x="1" y="26" width="1" height="1"/><rect x="17" y="26" width="1" height="1"/><rect x="32" y="26" width="1" height="1"/><rect x="37" y="26" width="4" height="1"/><rect x="1" y="27" width="1" height="1"/><rect x="10" y="27" width="1" height="1"/><rect x="17" y="27" width="1" height="1"/><rect x="31" y="27" width="1" height="1"/><rect x="38" y="27" width="3" height="1"/><rect x="9" y="28" width="2" height="1"/><rect x="16" y="28" width="2" height="1"/><rect x="26" y="28" width="1" height="1"/><rect x="37" y="28" width="1" height="1"/><rect x="39" y="28" width="2" height="1"/><rect x="10" y="29" width="1" height="1"/><rect x="17" y="29" width="2" height="1"/><rect x="26" y="29" width="1" height="1"/><rect x="44" y="29" width="1" height="1"/><rect x="18" y="30" width="4" height="1"/><rect x="5" y="31" width="1" height="1"/><rect x="20" y="31" width="5" height="1"/><rect x="20" y="32" width="1" height="1"/><rect x="24" y="32" width="3" height="1"/><rect x="25" y="33" width="2" height="1"/><rect x="20" y="34" width="1" height="1"/><rect x="26" y="34" width="1" height="1"/><rect x="15" y="35" width="2" height="1"/><rect x="19" y="35" width="2" height="1"/><rect x="26" y="35" width="1" height="1"/><rect x="33" y="35" width="2" height="1"/><rect x="39" y="35" width="1" height="1"/><rect x="19" y="36" width="2" height="1"/><rect x="26" y="36" width="1" height="1"/><rect x="31" y="36" width="5" height="1"/><rect x="28" y="37" width="4" height="1"/><rect x="34" y="37" width="1" height="1"/><rect x="47" y="37" width="1" height="1"/><rect x="13" y="38" width="1" height="1"/><rect x="29" y="38" width="3" height="1"/><rect x="46" y="38" width="2" height="1"/><rect x="20" y="39" width="1" height="1"/><rect x="23" y="39" width="3" height="1"/><rect x="16" y="40" width="10" height="1"/><rect x="15" y="41" width="4" height="1"/><rect x="22" y="41" width="3" height="1"/><rect x="15" y="42" width="2" height="1"/><rect x="21" y="42" width="4" height="1"/><rect x="10" y="43" width="1" height="1"/><rect x="22" y="43" width="3" height="1"/><rect x="44" y="43" width="3" height="1"/><rect x="3" y="44" width="1" height="1"/><rect x="9" y="44" width="2" height="1"/><rect x="23" y="44" width="2" height="1"/><rect x="43" y="44" width="4" height="1"/><rect x="3" y="45" width="2" height="1"/><rect x="8" y="45" width="2" height="1"/><rect x="23" y="45" width="2" height="1"/><rect x="36" y="45" width="1" height="1"/><rect x="43" y="45" width="5" height="1"/><rect x="3" y="46" width="2" height="1"/><rect x="8" y="46" width="1" height="1"/><rect x="23" y="46" width="2" height="1"/><rect x="36" y="46" width="4" height="1"/><rect x="43" y="46" width="5" height="1"/><rect x="3" y="47" width="3" height="1"/><rect x="36" y="47" width="2" height="1"/><rect x="43" y="47" width="1" height="1"/><rect x="46" y="47" width="2" height="1"/></g></pattern>
<pattern id="pR2" width="48" height="48" patternUnits="userSpaceOnUse"><g fill="#ff5000"><rect x="4" y="0" width="3" height="1"/><rect x="8" y="0" width="1" height="1"/><rect x="23" y="0" width="1" height="1"/><rect x="26" y="0" width="1" height="1"/><rect x="29" y="0" width="3" height="1"/><rect x="35" y="0" width="1" height="1"/><rect x="39" y="0" width="8" height="1"/><rect x="5" y="1" width="2" height="1"/><rect x="22" y="1" width="1" height="1"/><rect x="25" y="1" width="4" height="1"/><rect x="35" y="1" width="3" height="1"/><rect x="39" y="1" width="8" height="1"/><rect x="1" y="2" width="1" height="1"/><rect x="16" y="2" width="1" height="1"/><rect x="22" y="2" width="6" height="1"/><rect x="35" y="2" width="2" height="1"/><rect x="42" y="2" width="4" height="1"/><rect x="0" y="3" width="2" height="1"/><rect x="14" y="3" width="1" height="1"/><rect x="26" y="3" width="2" height="1"/><rect x="35" y="3" width="1" height="1"/><rect x="0" y="4" width="1" height="1"/><rect x="4" y="4" width="1" height="1"/><rect x="26" y="4" width="2" height="1"/><rect x="37" y="4" width="3" height="1"/><rect x="4" y="5" width="2" height="1"/><rect x="8" y="5" width="2" height="1"/><rect x="26" y="5" width="2" height="1"/><rect x="37" y="5" width="5" height="1"/><rect x="47" y="5" width="1" height="1"/><rect x="4" y="6" width="2" height="1"/><rect x="18" y="6" width="1" height="1"/><rect x="26" y="6" width="1" height="1"/><rect x="37" y="6" width="2" height="1"/><rect x="42" y="6" width="1" height="1"/><rect x="46" y="6" width="2" height="1"/><rect x="0" y="7" width="1" height="1"/><rect x="3" y="7" width="3" height="1"/><rect x="14" y="7" width="5" height="1"/><rect x="47" y="7" width="1" height="1"/><rect x="0" y="8" width="2" height="1"/><rect x="3" y="8" width="4" height="1"/><rect x="9" y="8" width="2" height="1"/><rect x="14" y="8" width="2" height="1"/><rect x="17" y="8" width="1" height="1"/><rect x="30" y="8" width="2" height="1"/><rect x="34" y="8" width="1" height="1"/><rect x="47" y="8" width="1" height="1"/><rect x="0" y="9" width="1" height="1"/><rect x="4" y="9" width="4" height="1"/><rect x="9" y="9" width="2" height="1"/><rect x="30" y="9" width="2" height="1"/><rect x="34" y="9" width="1" height="1"/><rect x="39" y="9" width="2" height="1"/><rect x="47" y="9" width="1" height="1"/><rect x="4" y="10" width="1" height="1"/><rect x="6" y="10" width="2" height="1"/><rect x="9" y="10" width="2" height="1"/><rect x="36" y="10" width="5" height="1"/><rect x="46" y="10" width="2" height="1"/><rect x="3" y="11" width="2" height="1"/><rect x="6" y="11" width="3" height="1"/><rect x="23" y="11" width="1" height="1"/><rect x="36" y="11" width="3" height="1"/><rect x="3" y="12" width="1" height="1"/><rect x="22" y="12" width="3" height="1"/><rect x="27" y="12" width="2" height="1"/><rect x="3" y="13" width="1" height="1"/><rect x="17" y="13" width="12" height="1"/><rect x="34" y="13" width="2" height="1"/><rect x="2" y="14" width="2" height="1"/><rect x="18" y="14" width="10" height="1"/><rect x="34" y="14" width="3" height="1"/><rect x="40" y="14" width="2" height="1"/><rect x="11" y="15" width="2" height="1"/><rect x="18" y="15" width="3" height="1"/><rect x="25" y="15" width="2" height="1"/><rect x="35" y="15" width="1" height="1"/><rect x="40" y="15" width="2" height="1"/><rect x="12" y="16" width="1" height="1"/><rect x="18" y="16" width="1" height="1"/><rect x="24" y="16" width="1" height="1"/><rect x="47" y="16" width="1" height="1"/><rect x="22" y="17" width="3" height="1"/><rect x="27" y="17" width="2" height="1"/><rect x="0" y="18" width="1" height="1"/><rect x="7" y="18" width="1" height="1"/><rect x="9" y="18" width="4" height="1"/><rect x="21" y="18" width="3" height="1"/><rect x="26" y="18" width="3" height="1"/><rect x="0" y="19" width="2" height="1"/><rect x="7" y="19" width="6" height="1"/><rect x="21" y="19" width="4" height="1"/><rect x="28" y="19" width="5" height="1"/><rect x="47" y="19" width="1" height="1"/><rect x="0" y="20" width="2" height="1"/><rect x="8" y="20" width="1" height="1"/><rect x="11" y="20" width="3" height="1"/><rect x="16" y="20" width="1" height="1"/><rect x="20" y="20" width="5" height="1"/><rect x="27" y="20" width="6" height="1"/><rect x="47" y="20" width="1" height="1"/><rect x="0" y="21" width="6" height="1"/><rect x="7" y="21" width="2" height="1"/><rect x="11" y="21" width="6" height="1"/><rect x="20" y="21" width="4" height="1"/><rect x="27" y="21" width="1" height="1"/><rect x="37" y="21" width="1" height="1"/><rect x="47" y="21" width="1" height="1"/><rect x="0" y="22" width="17" height="1"/><rect x="20" y="22" width="3" height="1"/><rect x="43" y="22" width="1" height="1"/><rect x="47" y="22" width="1" height="1"/><rect x="2" y="23" width="3" height="1"/><rect x="6" y="23" width="11" height="1"/><rect x="21" y="23" width="2" height="1"/><rect x="42" y="23" width="2" height="1"/><rect x="2" y="24" width="3" height="1"/><rect x="9" y="24" width="7" height="1"/><rect x="22" y="24" width="1" height="1"/><rect x="2" y="25" width="3" height="1"/><rect x="9" y="25" width="1" height="1"/><rect x="12" y="25" width="3" height="1"/><rect x="27" y="25" width="2" height="1"/><rect x="0" y="26" width="4" height="1"/><rect x="9" y="26" width="2" height="1"/><rect x="12" y="26" width="1" height="1"/><rect x="26" y="26" width="4" height="1"/><rect x="47" y="26" width="1" height="1"/><rect x="0" y="27" width="4" height="1"/><rect x="12" y="27" width="1" height="1"/><rect x="18" y="27" width="2" height="1"/><rect x="26" y="27" width="4" height="1"/><rect x="18" y="28" width="2" height="1"/><rect x="26" y="28" width="3" height="1"/><rect x="0" y="29" width="2" height="1"/><rect x="5" y="29" width="4" height="1"/><rect x="26" y="29" width="3" height="1"/><rect x="40" y="29" width="3" height="1"/><rect x="46" y="29" width="2" height="1"/><rect x="0" y="30" width="2" height="1"/><rect x="5" y="30" width="4" height="1"/><rect x="19" y="30" width="2" height="1"/><rect x="25" y="30" width="4" height="1"/><rect x="31" y="30" width="2" height="1"/><rect x="34" y="30" width="1" height="1"/><rect x="40" y="30" width="8" height="1"/><rect x="0" y="31" width="1" height="1"/><rect x="7" y="31" width="2" height="1"/><rect x="18" y="31" width="1" height="1"/><rect x="25" y="31" width="2" height="1"/><rect x="29" y="31" width="7" height="1"/><rect x="44" y="31" width="1" height="1"/><rect x="47" y="31" width="1" height="1"/><rect x="24" y="32" width="3" height="1"/><rect x="44" y="32" width="1" height="1"/><rect x="17" y="33" width="1" height="1"/><rect x="22" y="33" width="6" height="1"/><rect x="41" y="33" width="4" height="1"/><rect x="16" y="34" width="2" height="1"/><rect x="21" y="34" width="3" height="1"/><rect x="25" y="34" width="3" height="1"/><rect x="29" y="34" width="2" height="1"/><rect x="40" y="34" width="5" height="1"/><rect x="15" y="35" width="3" height="1"/><rect x="20" y="35" width="4" height="1"/><rect x="29" y="35" width="3" height="1"/><rect x="40" y="35" width="3" height="1"/><rect x="45" y="35" width="1" height="1"/><rect x="14" y="36" width="4" height="1"/><rect x="20" y="36" width="6" height="1"/><rect x="30" y="36" width="2" height="1"/><rect x="39" y="36" width="8" height="1"/><rect x="7" y="37" width="2" height="1"/><rect x="14" y="37" width="3" height="1"/><rect x="20" y="37" width="7" height="1"/><rect x="31" y="37" width="1" height="1"/><rect x="41" y="37" width="6" height="1"/><rect x="4" y="38" width="5" height="1"/><rect x="15" y="38" width="1" height="1"/><rect x="20" y="38" width="1" height="1"/><rect x="23" y="38" width="5" height="1"/><rect x="42" y="38" width="2" height="1"/><rect x="5" y="39" width="4" height="1"/><rect x="23" y="39" width="5" height="1"/><rect x="5" y="40" width="4" height="1"/><rect x="20" y="40" width="1" height="1"/><rect x="23" y="40" width="3" height="1"/><rect x="35" y="40" width="1" height="1"/><rect x="40" y="40" width="2" height="1"/><rect x="47" y="40" width="1" height="1"/><rect x="6" y="41" width="5" height="1"/><rect x="19" y="41" width="2" height="1"/><rect x="24" y="41" width="2" height="1"/><rect x="34" y="41" width="2" height="1"/><rect x="39" y="41" width="4" height="1"/><rect x="46" y="41" width="2" height="1"/><rect x="5" y="42" width="5" height="1"/><rect x="34" y="42" width="2" height="1"/><rect x="39" y="42" width="4" height="1"/><rect x="46" y="42" width="2" height="1"/><rect x="6" y="43" width="3" height="1"/><rect x="21" y="43" width="1" height="1"/><rect x="29" y="43" width="1" height="1"/><rect x="34" y="43" width="1" height="1"/><rect x="38" y="43" width="4" height="1"/><rect x="3" y="44" width="1" height="1"/><rect x="7" y="44" width="2" height="1"/><rect x="14" y="44" width="1" height="1"/><rect x="28" y="44" width="2" height="1"/><rect x="38" y="44" width="3" height="1"/><rect x="44" y="44" width="1" height="1"/><rect x="4" y="45" width="1" height="1"/><rect x="7" y="45" width="2" height="1"/><rect x="13" y="45" width="2" height="1"/><rect x="24" y="45" width="3" height="1"/><rect x="28" y="45" width="2" height="1"/><rect x="44" y="45" width="3" height="1"/><rect x="3" y="46" width="2" height="1"/><rect x="23" y="46" width="7" height="1"/><rect x="41" y="46" width="7" height="1"/><rect x="3" y="47" width="2" height="1"/><rect x="23" y="47" width="4" height="1"/><rect x="29" y="47" width="2" height="1"/><rect x="40" y="47" width="7" height="1"/></g></pattern>
<pattern id="pY1" width="48" height="48" patternUnits="userSpaceOnUse"><g fill="#ffff00"><rect x="9" y="0" width="2" height="1"/><rect x="16" y="0" width="2" height="1"/><rect x="33" y="0" width="3" height="1"/><rect x="14" y="1" width="1" height="1"/><rect x="17" y="1" width="2" height="1"/><rect x="34" y="1" width="1" height="1"/><rect x="14" y="2" width="2" height="1"/><rect x="24" y="2" width="1" height="1"/><rect x="43" y="2" width="1" height="1"/><rect x="14" y="3" width="1" height="1"/><rect x="23" y="3" width="2" height="1"/><rect x="42" y="3" width="3" height="1"/><rect x="23" y="4" width="1" height="1"/><rect x="40" y="4" width="1" height="1"/><rect x="43" y="4" width="2" height="1"/><rect x="20" y="5" width="3" height="1"/><rect x="40" y="5" width="1" height="1"/><rect x="19" y="6" width="4" height="1"/><rect x="2" y="7" width="1" height="1"/><rect x="20" y="7" width="1" height="1"/><rect x="12" y="8" width="1" height="1"/><rect x="9" y="9" width="1" height="1"/><rect x="12" y="9" width="2" height="1"/><rect x="33" y="9" width="3" height="1"/><rect x="39" y="9" width="2" height="1"/><rect x="13" y="10" width="1" height="1"/><rect x="33" y="10" width="3" height="1"/><rect x="40" y="10" width="1" height="1"/><rect x="7" y="11" width="2" height="1"/><rect x="33" y="11" width="2" height="1"/><rect x="40" y="11" width="1" height="1"/><rect x="6" y="12" width="3" height="1"/><rect x="26" y="12" width="2" height="1"/><rect x="31" y="12" width="2" height="1"/><rect x="34" y="12" width="1" height="1"/><rect x="39" y="12" width="2" height="1"/><rect x="45" y="12" width="2" height="1"/><rect x="6" y="13" width="2" height="1"/><rect x="12" y="13" width="2" height="1"/><rect x="22" y="13" width="1" height="1"/><rect x="25" y="13" width="6" height="1"/><rect x="34" y="13" width="1" height="1"/><rect x="39" y="13" width="2" height="1"/><rect x="44" y="13" width="3" height="1"/><rect x="6" y="14" width="2" height="1"/><rect x="12" y="14" width="2" height="1"/><rect x="23" y="14" width="3" height="1"/><rect x="38" y="14" width="3" height="1"/><rect x="43" y="14" width="5" height="1"/><rect x="21" y="15" width="2" height="1"/><rect x="24" y="15" width="2" height="1"/><rect x="38" y="15" width="3" height="1"/><rect x="43" y="15" width="2" height="1"/><rect x="46" y="15" width="2" height="1"/><rect x="19" y="16" width="4" height="1"/><rect x="38" y="16" width="6" height="1"/><rect x="47" y="16" width="1" height="1"/><rect x="39" y="17" width="6" height="1"/><rect x="47" y="17" width="1" height="1"/><rect x="44" y="18" width="1" height="1"/><rect x="47" y="18" width="1" height="1"/><rect x="9" y="19" width="1" height="1"/><rect x="16" y="19" width="2" height="1"/><rect x="22" y="19" width="2" height="1"/><rect x="9" y="20" width="1" height="1"/><rect x="16" y="20" width="2" height="1"/><rect x="24" y="21" width="1" height="1"/><rect x="7" y="22" width="2" height="1"/><rect x="18" y="22" width="1" height="1"/><rect x="24" y="22" width="1" height="1"/><rect x="38" y="22" width="1" height="1"/><rect x="5" y="23" width="3" height="1"/><rect x="17" y="23" width="2" height="1"/><rect x="23" y="23" width="2" height="1"/><rect x="37" y="23" width="2" height="1"/><rect x="5" y="24" width="3" height="1"/><rect x="17" y="24" width="2" height="1"/><rect x="21" y="24" width="3" height="1"/><rect x="5" y="25" width="3" height="1"/><rect x="13" y="25" width="2" height="1"/><rect x="21" y="25" width="2" height="1"/><rect x="13" y="26" width="2" height="1"/><rect x="21" y="26" width="3" height="1"/><rect x="3" y="27" width="1" height="1"/><rect x="22" y="27" width="2" height="1"/><rect x="45" y="27" width="1" height="1"/><rect x="20" y="28" width="4" height="1"/><rect x="40" y="28" width="2" height="1"/><rect x="13" y="29" width="1" height="1"/><rect x="20" y="29" width="2" height="1"/><rect x="40" y="29" width="2" height="1"/><rect x="12" y="30" width="2" height="1"/><rect x="39" y="30" width="2" height="1"/><rect x="1" y="31" width="2" height="1"/><rect x="11" y="31" width="2" height="1"/><rect x="18" y="31" width="3" height="1"/><rect x="39" y="31" width="1" height="1"/><rect x="0" y="32" width="3" height="1"/><rect x="9" y="32" width="4" height="1"/><rect x="18" y="32" width="3" height="1"/><rect x="38" y="32" width="2" height="1"/><rect x="12" y="33" width="1" height="1"/><rect x="19" y="33" width="2" height="1"/><rect x="28" y="34" width="2" height="1"/><rect x="3" y="35" width="1" height="1"/><rect x="26" y="35" width="4" height="1"/><rect x="31" y="35" width="2" height="1"/><rect x="3" y="36" width="1" height="1"/><rect x="18" y="36" width="1" height="1"/><rect x="26" y="36" width="3" height="1"/><rect x="31" y="36" width="3" height="1"/><rect x="38" y="36" width="1" height="1"/><rect x="3" y="37" width="1" height="1"/><rect x="17" y="37" width="2" height="1"/><rect x="26" y="37" width="2" height="1"/><rect x="32" y="37" width="1" height="1"/><rect x="4" y="38" width="3" height="1"/><rect x="18" y="38" width="1" height="1"/><rect x="12" y="39" width="1" height="1"/><rect x="19" y="39" width="1" height="1"/><rect x="10" y="40" width="4" height="1"/><rect x="39" y="41" width="1" height="1"/><rect x="42" y="41" width="1" height="1"/><rect x="32" y="42" width="1" height="1"/><rect x="42" y="42" width="2" height="1"/><rect x="2" y="43" width="1" height="1"/><rect x="31" y="43" width="2" height="1"/><rect x="39" y="43" width="1" height="1"/><rect x="41" y="43" width="4" height="1"/><rect x="2" y="44" width="2" height="1"/><rect x="31" y="44" width="2" height="1"/><rect x="37" y="44" width="1" height="1"/><rect x="39" y="44" width="5" height="1"/><rect x="2" y="45" width="2" height="1"/><rect x="8" y="45" width="1" height="1"/><rect x="25" y="45" width="2" height="1"/><rect x="30" y="45" width="3" height="1"/><rect x="40" y="45" width="3" height="1"/><rect x="46" y="45" width="1" height="1"/><rect x="8" y="46" width="3" height="1"/><rect x="23" y="46" width="3" height="1"/><rect x="30" y="46" width="3" height="1"/><rect x="41" y="46" width="1" height="1"/><rect x="9" y="47" width="2" height="1"/><rect x="23" y="47" width="1" height="1"/><rect x="30" y="47" width="4" height="1"/></g></pattern>
<pattern id="pY2" width="48" height="48" patternUnits="userSpaceOnUse"><g fill="#ffff00"><rect x="4" y="0" width="8" height="1"/><rect x="14" y="0" width="11" height="1"/><rect x="31" y="0" width="3" height="1"/><rect x="40" y="0" width="1" height="1"/><rect x="8" y="1" width="3" height="1"/><rect x="14" y="1" width="11" height="1"/><rect x="30" y="1" width="3" height="1"/><rect x="8" y="2" width="4" height="1"/><rect x="19" y="2" width="7" height="1"/><rect x="36" y="2" width="5" height="1"/><rect x="44" y="2" width="2" height="1"/><rect x="3" y="3" width="2" height="1"/><rect x="8" y="3" width="5" height="1"/><rect x="20" y="3" width="3" height="1"/><rect x="24" y="3" width="2" height="1"/><rect x="36" y="3" width="5" height="1"/><rect x="44" y="3" width="3" height="1"/><rect x="3" y="4" width="2" height="1"/><rect x="8" y="4" width="1" height="1"/><rect x="11" y="4" width="2" height="1"/><rect x="21" y="4" width="1" height="1"/><rect x="35" y="4" width="2" height="1"/><rect x="39" y="4" width="1" height="1"/><rect x="2" y="5" width="3" height="1"/><rect x="17" y="5" width="3" height="1"/><rect x="25" y="5" width="2" height="1"/><rect x="32" y="5" width="1" height="1"/><rect x="35" y="5" width="2" height="1"/><rect x="2" y="6" width="2" height="1"/><rect x="9" y="6" width="2" height="1"/><rect x="17" y="6" width="5" height="1"/><rect x="25" y="6" width="2" height="1"/><rect x="32" y="6" width="4" height="1"/><rect x="39" y="6" width="2" height="1"/><rect x="5" y="7" width="6" height="1"/><rect x="18" y="7" width="6" height="1"/><rect x="33" y="7" width="1" height="1"/><rect x="5" y="8" width="6" height="1"/><rect x="23" y="8" width="1" height="1"/><rect x="31" y="8" width="2" height="1"/><rect x="5" y="9" width="4" height="1"/><rect x="30" y="9" width="3" height="1"/><rect x="43" y="9" width="1" height="1"/><rect x="5" y="10" width="2" height="1"/><rect x="26" y="10" width="6" height="1"/><rect x="35" y="10" width="4" height="1"/><rect x="43" y="10" width="2" height="1"/><rect x="5" y="11" width="2" height="1"/><rect x="11" y="11" width="3" height="1"/><rect x="18" y="11" width="2" height="1"/><rect x="26" y="11" width="4" height="1"/><rect x="34" y="11" width="6" height="1"/><rect x="11" y="12" width="4" height="1"/><rect x="17" y="12" width="3" height="1"/><rect x="26" y="12" width="4" height="1"/><rect x="36" y="12" width="2" height="1"/><rect x="40" y="12" width="2" height="1"/><rect x="9" y="13" width="5" height="1"/><rect x="26" y="13" width="4" height="1"/><rect x="36" y="13" width="1" height="1"/><rect x="41" y="13" width="1" height="1"/><rect x="3" y="14" width="9" height="1"/><rect x="18" y="14" width="1" height="1"/><rect x="25" y="14" width="3" height="1"/><rect x="30" y="14" width="1" height="1"/><rect x="34" y="14" width="2" height="1"/><rect x="45" y="14" width="1" height="1"/><rect x="2" y="15" width="5" height="1"/><rect x="8" y="15" width="3" height="1"/><rect x="18" y="15" width="3" height="1"/><rect x="24" y="15" width="4" height="1"/><rect x="33" y="15" width="4" height="1"/><rect x="2" y="16" width="4" height="1"/><rect x="24" y="16" width="5" height="1"/><rect x="33" y="16" width="4" height="1"/><rect x="40" y="16" width="2" height="1"/><rect x="0" y="17" width="1" height="1"/><rect x="3" y="17" width="4" height="1"/><rect x="14" y="17" width="2" height="1"/><rect x="25" y="17" width="1" height="1"/><rect x="28" y="17" width="2" height="1"/><rect x="34" y="17" width="3" height="1"/><rect x="39" y="17" width="3" height="1"/><rect x="3" y="18" width="2" height="1"/><rect x="14" y="18" width="1" height="1"/><rect x="30" y="18" width="1" height="1"/><rect x="35" y="18" width="5" height="1"/><rect x="3" y="19" width="2" height="1"/><rect x="14" y="19" width="2" height="1"/><rect x="30" y="19" width="2" height="1"/><rect x="35" y="19" width="2" height="1"/><rect x="38" y="19" width="1" height="1"/><rect x="3" y="20" width="6" height="1"/><rect x="13" y="20" width="3" height="1"/><rect x="18" y="20" width="3" height="1"/><rect x="24" y="20" width="3" height="1"/><rect x="31" y="20" width="1" height="1"/><rect x="35" y="20" width="3" height="1"/><rect x="45" y="20" width="3" height="1"/><rect x="2" y="21" width="7" height="1"/><rect x="13" y="21" width="8" height="1"/><rect x="24" y="21" width="2" height="1"/><rect x="35" y="21" width="4" height="1"/><rect x="43" y="21" width="5" height="1"/><rect x="3" y="22" width="3" height="1"/><rect x="8" y="22" width="2" height="1"/><rect x="13" y="22" width="1" height="1"/><rect x="17" y="22" width="1" height="1"/><rect x="24" y="22" width="5" height="1"/><rect x="35" y="22" width="4" height="1"/><rect x="44" y="22" width="4" height="1"/><rect x="8" y="23" width="2" height="1"/><rect x="13" y="23" width="1" height="1"/><rect x="26" y="23" width="3" height="1"/><rect x="37" y="23" width="1" height="1"/><rect x="45" y="23" width="1" height="1"/><rect x="9" y="24" width="1" height="1"/><rect x="13" y="24" width="2" height="1"/><rect x="26" y="24" width="3" height="1"/><rect x="33" y="24" width="1" height="1"/><rect x="40" y="24" width="1" height="1"/><rect x="43" y="24" width="1" height="1"/><rect x="13" y="25" width="1" height="1"/><rect x="26" y="25" width="1" height="1"/><rect x="29" y="25" width="1" height="1"/><rect x="32" y="25" width="2" height="1"/><rect x="43" y="25" width="2" height="1"/><rect x="29" y="26" width="8" height="1"/><rect x="43" y="26" width="2" height="1"/><rect x="30" y="27" width="7" height="1"/><rect x="44" y="27" width="2" height="1"/><rect x="11" y="28" width="2" height="1"/><rect x="36" y="28" width="1" height="1"/><rect x="7" y="29" width="1" height="1"/><rect x="11" y="29" width="1" height="1"/><rect x="24" y="29" width="1" height="1"/><rect x="36" y="29" width="2" height="1"/><rect x="3" y="30" width="2" height="1"/><rect x="24" y="30" width="3" height="1"/><rect x="37" y="30" width="1" height="1"/><rect x="4" y="31" width="1" height="1"/><rect x="24" y="31" width="4" height="1"/><rect x="37" y="31" width="5" height="1"/><rect x="12" y="32" width="2" height="1"/><rect x="16" y="32" width="2" height="1"/><rect x="25" y="32" width="5" height="1"/><rect x="32" y="32" width="6" height="1"/><rect x="39" y="32" width="2" height="1"/><rect x="47" y="32" width="1" height="1"/><rect x="12" y="33" width="4" height="1"/><rect x="20" y="33" width="2" height="1"/><rect x="25" y="33" width="3" height="1"/><rect x="31" y="33" width="7" height="1"/><rect x="39" y="33" width="1" height="1"/><rect x="46" y="33" width="2" height="1"/><rect x="7" y="34" width="2" height="1"/><rect x="16" y="34" width="1" height="1"/><rect x="20" y="34" width="2" height="1"/><rect x="25" y="34" width="2" height="1"/><rect x="35" y="34" width="3" height="1"/><rect x="46" y="34" width="2" height="1"/><rect x="7" y="35" width="2" height="1"/><rect x="17" y="35" width="4" height="1"/><rect x="25" y="35" width="2" height="1"/><rect x="36" y="35" width="2" height="1"/><rect x="47" y="35" width="1" height="1"/><rect x="7" y="36" width="2" height="1"/><rect x="12" y="36" width="2" height="1"/><rect x="18" y="36" width="1" height="1"/><rect x="24" y="36" width="4" height="1"/><rect x="36" y="36" width="2" height="1"/><rect x="1" y="37" width="2" height="1"/><rect x="12" y="37" width="2" height="1"/><rect x="24" y="37" width="3" height="1"/><rect x="30" y="37" width="2" height="1"/><rect x="35" y="37" width="3" height="1"/><rect x="44" y="37" width="1" height="1"/><rect x="6" y="38" width="1" height="1"/><rect x="12" y="38" width="3" height="1"/><rect x="18" y="38" width="2" height="1"/><rect x="25" y="38" width="3" height="1"/><rect x="30" y="38" width="2" height="1"/><rect x="34" y="38" width="2" height="1"/><rect x="3" y="39" width="2" height="1"/><rect x="6" y="39" width="2" height="1"/><rect x="13" y="39" width="7" height="1"/><rect x="26" y="39" width="2" height="1"/><rect x="29" y="39" width="3" height="1"/><rect x="45" y="39" width="2" height="1"/><rect x="3" y="40" width="1" height="1"/><rect x="6" y="40" width="3" height="1"/><rect x="14" y="40" width="5" height="1"/><rect x="45" y="40" width="2" height="1"/><rect x="8" y="41" width="1" height="1"/><rect x="14" y="41" width="3" height="1"/><rect x="45" y="41" width="3" height="1"/><rect x="0" y="42" width="2" height="1"/><rect x="14" y="42" width="3" height="1"/><rect x="44" y="42" width="1" height="1"/><rect x="47" y="42" width="1" height="1"/><rect x="0" y="43" width="2" height="1"/><rect x="15" y="43" width="2" height="1"/><rect x="47" y="43" width="1" height="1"/><rect x="0" y="44" width="1" height="1"/><rect x="7" y="44" width="1" height="1"/><rect x="14" y="44" width="4" height="1"/><rect x="26" y="44" width="4" height="1"/><rect x="33" y="44" width="1" height="1"/><rect x="47" y="44" width="1" height="1"/><rect x="7" y="45" width="1" height="1"/><rect x="14" y="45" width="1" height="1"/><rect x="26" y="45" width="4" height="1"/><rect x="33" y="45" width="2" height="1"/><rect x="38" y="45" width="2" height="1"/><rect x="46" y="45" width="2" height="1"/><rect x="5" y="46" width="1" height="1"/><rect x="14" y="46" width="1" height="1"/><rect x="16" y="46" width="1" height="1"/><rect x="26" y="46" width="4" height="1"/><rect x="33" y="46" width="2" height="1"/><rect x="38" y="46" width="2" height="1"/><rect x="46" y="46" width="1" height="1"/><rect x="5" y="47" width="1" height="1"/><rect x="11" y="47" width="2" height="1"/><rect x="14" y="47" width="7" height="1"/><rect x="32" y="47" width="3" height="1"/><rect x="39" y="47" width="5" height="1"/><rect x="46" y="47" width="1" height="1"/></g></pattern>
<pattern id="pY3" width="48" height="48" patternUnits="userSpaceOnUse"><g fill="#ffff00"><rect x="0" y="0" width="2" height="1"/><rect x="4" y="0" width="2" height="1"/><rect x="10" y="0" width="3" height="1"/><rect x="16" y="0" width="2" height="1"/><rect x="25" y="0" width="4" height="1"/><rect x="32" y="0" width="6" height="1"/><rect x="44" y="0" width="4" height="1"/><rect x="0" y="1" width="2" height="1"/><rect x="5" y="1" width="2" height="1"/><rect x="16" y="1" width="1" height="1"/><rect x="19" y="1" width="4" height="1"/><rect x="25" y="1" width="4" height="1"/><rect x="32" y="1" width="5" height="1"/><rect x="46" y="1" width="2" height="1"/><rect x="0" y="2" width="2" height="1"/><rect x="5" y="2" width="2" height="1"/><rect x="13" y="2" width="2" height="1"/><rect x="17" y="2" width="1" height="1"/><rect x="19" y="2" width="4" height="1"/><rect x="25" y="2" width="4" height="1"/><rect x="33" y="2" width="4" height="1"/><rect x="43" y="2" width="2" height="1"/><rect x="46" y="2" width="2" height="1"/><rect x="0" y="3" width="2" height="1"/><rect x="4" y="3" width="2" height="1"/><rect x="13" y="3" width="1" height="1"/><rect x="20" y="3" width="2" height="1"/><rect x="26" y="3" width="3" height="1"/><rect x="35" y="3" width="2" height="1"/><rect x="43" y="3" width="1" height="1"/><rect x="47" y="3" width="1" height="1"/><rect x="0" y="4" width="2" height="1"/><rect x="5" y="4" width="1" height="1"/><rect x="8" y="4" width="2" height="1"/><rect x="13" y="4" width="2" height="1"/><rect x="25" y="4" width="6" height="1"/><rect x="36" y="4" width="2" height="1"/><rect x="39" y="4" width="5" height="1"/><rect x="47" y="4" width="1" height="1"/><rect x="0" y="5" width="2" height="1"/><rect x="5" y="5" width="3" height="1"/><rect x="16" y="5" width="3" height="1"/><rect x="25" y="5" width="7" height="1"/><rect x="36" y="5" width="7" height="1"/><rect x="46" y="5" width="2" height="1"/><rect x="0" y="6" width="1" height="1"/><rect x="5" y="6" width="2" height="1"/><rect x="16" y="6" width="3" height="1"/><rect x="24" y="6" width="10" height="1"/><rect x="35" y="6" width="3" height="1"/><rect x="40" y="6" width="2" height="1"/><rect x="44" y="6" width="1" height="1"/><rect x="46" y="6" width="2" height="1"/><rect x="0" y="7" width="1" height="1"/><rect x="10" y="7" width="3" height="1"/><rect x="17" y="7" width="1" height="1"/><rect x="24" y="7" width="4" height="1"/><rect x="29" y="7" width="4" height="1"/><rect x="35" y="7" width="2" height="1"/><rect x="47" y="7" width="1" height="1"/><rect x="0" y="8" width="1" height="1"/><rect x="4" y="8" width="1" height="1"/><rect x="10" y="8" width="3" height="1"/><rect x="15" y="8" width="1" height="1"/><rect x="17" y="8" width="3" height="1"/><rect x="23" y="8" width="3" height="1"/><rect x="29" y="8" width="3" height="1"/><rect x="36" y="8" width="1" height="1"/><rect x="2" y="9" width="4" height="1"/><rect x="10" y="9" width="3" height="1"/><rect x="15" y="9" width="10" height="1"/><rect x="30" y="9" width="2" height="1"/><rect x="37" y="9" width="2" height="1"/><rect x="2" y="10" width="5" height="1"/><rect x="10" y="10" width="4" height="1"/><rect x="15" y="10" width="10" height="1"/><rect x="37" y="10" width="3" height="1"/><rect x="44" y="10" width="1" height="1"/><rect x="2" y="11" width="5" height="1"/><rect x="10" y="11" width="6" height="1"/><rect x="18" y="11" width="5" height="1"/><rect x="24" y="11" width="2" height="1"/><rect x="31" y="11" width="2" height="1"/><rect x="37" y="11" width="5" height="1"/><rect x="43" y="11" width="3" height="1"/><rect x="3" y="12" width="4" height="1"/><rect x="12" y="12" width="3" height="1"/><rect x="20" y="12" width="3" height="1"/><rect x="31" y="12" width="1" height="1"/><rect x="38" y="12" width="4" height="1"/><rect x="44" y="12" width="2" height="1"/><rect x="2" y="13" width="5" height="1"/><rect x="13" y="13" width="1" height="1"/><rect x="19" y="13" width="6" height="1"/><rect x="31" y="13" width="2" height="1"/><rect x="39" y="13" width="2" height="1"/><rect x="2" y="14" width="2" height="1"/><rect x="5" y="14" width="2" height="1"/><rect x="12" y="14" width="2" height="1"/><rect x="19" y="14" width="1" height="1"/><rect x="25" y="14" width="4" height="1"/><rect x="32" y="14" width="2" height="1"/><rect x="36" y="14" width="3" height="1"/><rect x="46" y="14" width="1" height="1"/><rect x="2" y="15" width="1" height="1"/><rect x="5" y="15" width="3" height="1"/><rect x="13" y="15" width="1" height="1"/><rect x="18" y="15" width="1" height="1"/><rect x="25" y="15" width="4" height="1"/><rect x="32" y="15" width="3" height="1"/><rect x="37" y="15" width="2" height="1"/><rect x="41" y="15" width="1" height="1"/><rect x="4" y="16" width="4" height="1"/><rect x="13" y="16" width="2" height="1"/><rect x="18" y="16" width="4" height="1"/><rect x="26" y="16" width="3" height="1"/><rect x="31" y="16" width="3" height="1"/><rect x="37" y="16" width="1" height="1"/><rect x="4" y="17" width="6" height="1"/><rect x="18" y="17" width="4" height="1"/><rect x="25" y="17" width="3" height="1"/><rect x="31" y="17" width="2" height="1"/><rect x="3" y="18" width="2" height="1"/><rect x="6" y="18" width="4" height="1"/><rect x="20" y="18" width="1" height="1"/><rect x="24" y="18" width="4" height="1"/><rect x="36" y="18" width="2" height="1"/><rect x="43" y="18" width="2" height="1"/><rect x="3" y="19" width="5" height="1"/><rect x="12" y="19" width="1" height="1"/><rect x="27" y="19" width="1" height="1"/><rect x="36" y="19" width="2" height="1"/><rect x="40" y="19" width="2" height="1"/><rect x="43" y="19" width="2" height="1"/><rect x="46" y="19" width="2" height="1"/><rect x="0" y="20" width="1" height="1"/><rect x="3" y="20" width="7" height="1"/><rect x="12" y="20" width="2" height="1"/><rect x="20" y="20" width="3" height="1"/><rect x="27" y="20" width="1" height="1"/><rect x="35" y="20" width="3" height="1"/><rect x="40" y="20" width="2" height="1"/><rect x="43" y="20" width="1" height="1"/><rect x="45" y="20" width="3" height="1"/><rect x="6" y="21" width="4" height="1"/><rect x="12" y="21" width="4" height="1"/><rect x="20" y="21" width="3" height="1"/><rect x="26" y="21" width="2" height="1"/><rect x="33" y="21" width="6" height="1"/><rect x="41" y="21" width="2" height="1"/><rect x="44" y="21" width="4" height="1"/><rect x="7" y="22" width="3" height="1"/><rect x="14" y="22" width="2" height="1"/><rect x="20" y="22" width="1" height="1"/><rect x="26" y="22" width="2" height="1"/><rect x="36" y="22" width="11" height="1"/><rect x="7" y="23" width="2" height="1"/><rect x="14" y="23" width="2" height="1"/><rect x="19" y="23" width="2" height="1"/><rect x="37" y="23" width="3" height="1"/><rect x="41" y="23" width="1" height="1"/><rect x="43" y="23" width="4" height="1"/><rect x="2" y="24" width="2" height="1"/><rect x="14" y="24" width="3" height="1"/><rect x="19" y="24" width="1" height="1"/><rect x="25" y="24" width="1" height="1"/><rect x="31" y="24" width="2" height="1"/><rect x="37" y="24" width="2" height="1"/><rect x="43" y="24" width="5" height="1"/><rect x="0" y="25" width="1" height="1"/><rect x="2" y="25" width="2" height="1"/><rect x="7" y="25" width="1" height="1"/><rect x="14" y="25" width="2" height="1"/><rect x="24" y="25" width="2" height="1"/><rect x="31" y="25" width="1" height="1"/><rect x="42" y="25" width="6" height="1"/><rect x="0" y="26" width="4" height="1"/><rect x="6" y="26" width="2" height="1"/><rect x="13" y="26" width="2" height="1"/><rect x="24" y="26" width="2" height="1"/><rect x="31" y="26" width="1" height="1"/><rect x="43" y="26" width="5" height="1"/><rect x="1" y="27" width="3" height="1"/><rect x="7" y="27" width="3" height="1"/><rect x="12" y="27" width="2" height="1"/><rect x="17" y="27" width="1" height="1"/><rect x="22" y="27" width="4" height="1"/><rect x="31" y="27" width="2" height="1"/><rect x="44" y="27" width="2" height="1"/><rect x="1" y="28" width="2" height="1"/><rect x="7" y="28" width="5" height="1"/><rect x="17" y="28" width="2" height="1"/><rect x="20" y="28" width="6" height="1"/><rect x="29" y="28" width="6" height="1"/><rect x="37" y="28" width="3" height="1"/><rect x="44" y="28" width="2" height="1"/><rect x="1" y="29" width="2" height="1"/><rect x="8" y="29" width="4" height="1"/><rect x="17" y="29" width="1" height="1"/><rect x="20" y="29" width="13" height="1"/><rect x="34" y="29" width="1" height="1"/><rect x="37" y="29" width="5" height="1"/><rect x="44" y="29" width="3" height="1"/><rect x="1" y="30" width="1" height="1"/><rect x="8" y="30" width="4" height="1"/><rect x="17" y="30" width="1" height="1"/><rect x="21" y="30" width="2" height="1"/><rect x="26" y="30" width="1" height="1"/><rect x="29" y="30" width="18" height="1"/><rect x="9" y="31" width="3" height="1"/><rect x="21" y="31" width="2" height="1"/><rect x="30" y="31" width="3" height="1"/><rect x="35" y="31" width="2" height="1"/><rect x="38" y="31" width="10" height="1"/><rect x="10" y="32" width="3" height="1"/><rect x="17" y="32" width="2" height="1"/><rect x="22" y="32" width="2" height="1"/><rect x="31" y="32" width="1" height="1"/><rect x="34" y="32" width="3" height="1"/><rect x="40" y="32" width="8" height="1"/><rect x="11" y="33" width="3" height="1"/><rect x="16" y="33" width="4" height="1"/><rect x="34" y="33" width="3" height="1"/><rect x="40" y="33" width="3" height="1"/><rect x="44" y="33" width="2" height="1"/><rect x="7" y="34" width="1" height="1"/><rect x="12" y="34" width="3" height="1"/><rect x="17" y="34" width="2" height="1"/><rect x="34" y="34" width="3" height="1"/><rect x="5" y="35" width="3" height="1"/><rect x="13" y="35" width="2" height="1"/><rect x="18" y="35" width="2" height="1"/><rect x="23" y="35" width="2" height="1"/><rect x="31" y="35" width="2" height="1"/><rect x="35" y="35" width="1" height="1"/><rect x="1" y="36" width="2" height="1"/><rect x="4" y="36" width="3" height="1"/><rect x="11" y="36" width="2" height="1"/><rect x="18" y="36" width="7" height="1"/><rect x="30" y="36" width="3" height="1"/><rect x="36" y="36" width="1" height="1"/><rect x="43" y="36" width="2" height="1"/><rect x="46" y="36" width="2" height="1"/><rect x="1" y="37" width="7" height="1"/><rect x="9" y="37" width="5" height="1"/><rect x="19" y="37" width="7" height="1"/><rect x="29" y="37" width="3" height="1"/><rect x="35" y="37" width="4" height="1"/><rect x="42" y="37" width="6" height="1"/><rect x="0" y="38" width="8" height="1"/><rect x="10" y="38" width="4" height="1"/><rect x="19" y="38" width="3" height="1"/><rect x="25" y="38" width="6" height="1"/><rect x="34" y="38" width="5" height="1"/><rect x="42" y="38" width="3" height="1"/><rect x="0" y="39" width="2" height="1"/><rect x="3" y="39" width="5" height="1"/><rect x="12" y="39" width="1" height="1"/><rect x="19" y="39" width="2" height="1"/><rect x="26" y="39" width="4" height="1"/><rect x="34" y="39" width="10" height="1"/><rect x="47" y="39" width="1" height="1"/><rect x="0" y="40" width="1" height="1"/><rect x="4" y="40" width="4" height="1"/><rect x="15" y="40" width="3" height="1"/><rect x="23" y="40" width="1" height="1"/><rect x="26" y="40" width="4" height="1"/><rect x="35" y="40" width="7" height="1"/><rect x="46" y="40" width="2" height="1"/><rect x="0" y="41" width="1" height="1"/><rect x="4" y="41" width="1" height="1"/><rect x="6" y="41" width="3" height="1"/><rect x="15" y="41" width="3" height="1"/><rect x="23" y="41" width="6" height="1"/><rect x="32" y="41" width="2" height="1"/><rect x="35" y="41" width="7" height="1"/><rect x="45" y="41" width="3" height="1"/><rect x="0" y="42" width="1" height="1"/><rect x="8" y="42" width="1" height="1"/><rect x="15" y="42" width="3" height="1"/><rect x="23" y="42" width="3" height="1"/><rect x="32" y="42" width="11" height="1"/><rect x="47" y="42" width="1" height="1"/><rect x="6" y="43" width="2" height="1"/><rect x="10" y="43" width="1" height="1"/><rect x="14" y="43" width="5" height="1"/><rect x="22" y="43" width="4" height="1"/><rect x="31" y="43" width="12" height="1"/><rect x="3" y="44" width="5" height="1"/><rect x="10" y="44" width="2" height="1"/><rect x="13" y="44" width="6" height="1"/><rect x="22" y="44" width="2" height="1"/><rect x="25" y="44" width="1" height="1"/><rect x="32" y="44" width="10" height="1"/><rect x="2" y="45" width="5" height="1"/><rect x="10" y="45" width="2" height="1"/><rect x="13" y="45" width="2" height="1"/><rect x="17" y="45" width="4" height="1"/><rect x="25" y="45" width="1" height="1"/><rect x="37" y="45" width="4" height="1"/><rect x="0" y="46" width="4" height="1"/><rect x="5" y="46" width="1" height="1"/><rect x="10" y="46" width="3" height="1"/><rect x="16" y="46" width="5" height="1"/><rect x="25" y="46" width="2" height="1"/><rect x="36" y="46" width="2" height="1"/><rect x="44" y="46" width="2" height="1"/><rect x="0" y="47" width="2" height="1"/><rect x="5" y="47" width="1" height="1"/><rect x="10" y="47" width="3" height="1"/><rect x="16" y="47" width="4" height="1"/><rect x="25" y="47" width="3" height="1"/><rect x="33" y="47" width="5" height="1"/><rect x="44" y="47" width="4" height="1"/></g></pattern>
<clipPath id="dclip"><rect x="68" y="46" width="306" height="14"/><rect x="68" y="60" width="292" height="14"/><rect x="68" y="74" width="292" height="14"/><rect x="68" y="88" width="292" height="14"/><rect x="68" y="102" width="292" height="14"/><rect x="68" y="116" width="292" height="13"/><rect x="68" y="129" width="292" height="14"/><rect x="68" y="143" width="292" height="14"/><rect x="68" y="157" width="292" height="14"/><rect x="68" y="171" width="278" height="14"/><rect x="68" y="185" width="278" height="14"/><rect x="68" y="199" width="278" height="14"/><rect x="68" y="213" width="278" height="14"/><rect x="68" y="227" width="278" height="14"/><rect x="68" y="241" width="278" height="13"/><rect x="68" y="254" width="278" height="14"/><rect x="68" y="268" width="264" height="14"/><rect x="68" y="282" width="264" height="14"/><rect x="68" y="296" width="264" height="14"/><rect x="68" y="310" width="264" height="14"/><rect x="68" y="324" width="264" height="14"/><rect x="68" y="338" width="264" height="14"/><rect x="68" y="352" width="264" height="14"/><rect x="68" y="366" width="251" height="14"/><rect x="68" y="380" width="251" height="14"/><rect x="68" y="394" width="251" height="13"/><rect x="68" y="407" width="251" height="14"/><rect x="68" y="421" width="251" height="14"/><rect x="68" y="435" width="251" height="14"/><rect x="68" y="449" width="251" height="14"/><rect x="68" y="463" width="237" height="14"/><rect x="68" y="477" width="237" height="14"/><rect x="68" y="491" width="237" height="14"/><rect x="68" y="505" width="237" height="14"/><rect x="68" y="519" width="237" height="13"/><rect x="68" y="532" width="237" height="14"/><rect x="68" y="546" width="223" height="14"/><rect x="68" y="560" width="223" height="14"/><rect x="68" y="574" width="223" height="14"/><rect x="68" y="588" width="223" height="14"/><rect x="68" y="602" width="223" height="14"/><rect x="68" y="616" width="223" height="14"/></clipPath>
<filter id="disp" filterUnits="userSpaceOnUse" x="40" y="30" width="400" height="620">
<feTurbulence type="fractalNoise" baseFrequency="0.12" numOctaves="2" seed="7" result="n"/>
<feDisplacementMap in="SourceGraphic" in2="n" scale="8" xChannelSelector="R" yChannelSelector="G"/>
</filter>
<filter id="dispy" filterUnits="userSpaceOnUse" x="200" y="30" width="240" height="620">
<feTurbulence type="fractalNoise" baseFrequency="0.12" numOctaves="2" seed="11" result="n"/>
<feColorMatrix in="n" type="matrix" values="0 0 0 0 0.5  0 1 0 0 0  0 0 1 0 0  0 0 0 0 1" result="m"/>
<feDisplacementMap in="SourceGraphic" in2="m" scale="8" xChannelSelector="R" yChannelSelector="G"/>
</filter>
<filter id="crisp2" x="0" y="0" width="1000" height="650" filterUnits="userSpaceOnUse" color-interpolation-filters="sRGB">
<feComponentTransfer><feFuncA type="discrete" tableValues="0 0 1"/></feComponentTransfer>
</filter>
<filter id="crisp" x="0" y="0" width="1000" height="650" filterUnits="userSpaceOnUse" color-interpolation-filters="sRGB">
<feComponentTransfer><feFuncA type="discrete" tableValues="0 1"/></feComponentTransfer>
</filter>
</defs>
<g clip-path="url(#dclip)"><g filter="url(#disp)">
<rect x="58" y="36" width="24" height="24" fill="#80ff00"/>
<rect x="58" y="36" width="24" height="24" fill="url(#pY2)"/>
<rect x="82" y="36" width="14" height="24" fill="#80ff00"/>
<rect x="82" y="36" width="14" height="24" fill="url(#pY3)"/>
<rect x="96" y="36" width="28" height="24" fill="#008400"/>
<rect x="96" y="36" width="28" height="24" fill="url(#pG3)"/>
<rect x="124" y="36" width="28" height="24" fill="#80ff00"/>
<rect x="124" y="36" width="28" height="24" fill="url(#pD2)"/>
<rect x="152" y="36" width="55" height="24" fill="#80ff00"/>
<rect x="207" y="36" width="14" height="24" fill="#80ff00"/>
<rect x="207" y="36" width="14" height="24" fill="url(#pY2)"/>
<rect x="221" y="36" width="24" height="24" fill="#ffff00"/>
<rect x="58" y="60" width="38" height="14" fill="#ffff00"/>
<rect x="58" y="60" width="38" height="14" fill="url(#pG3)"/>
<rect x="96" y="60" width="28" height="14" fill="#80ff00"/>
<rect x="96" y="60" width="28" height="14" fill="url(#pY2)"/>
<rect x="124" y="60" width="14" height="14" fill="#80ff00"/>
<rect x="138" y="60" width="14" height="14" fill="#80ff00"/>
<rect x="138" y="60" width="14" height="14" fill="url(#pD1)"/>
<rect x="152" y="60" width="55" height="14" fill="#80ff00"/>
<rect x="207" y="60" width="14" height="14" fill="#80ff00"/>
<rect x="207" y="60" width="14" height="14" fill="url(#pY2)"/>
<rect x="221" y="60" width="24" height="14" fill="#ffff00"/>
<rect x="58" y="74" width="38" height="14" fill="#80ff00"/>
<rect x="58" y="74" width="38" height="14" fill="url(#pY2)"/>
<rect x="96" y="74" width="14" height="14" fill="#80ff00"/>
<rect x="110" y="74" width="28" height="14" fill="#80ff00"/>
<rect x="110" y="74" width="28" height="14" fill="url(#pY2)"/>
<rect x="138" y="74" width="41" height="14" fill="#80ff00"/>
<rect x="179" y="74" width="14" height="14" fill="#80ff00"/>
<rect x="179" y="74" width="14" height="14" fill="url(#pY2)"/>
<rect x="193" y="74" width="28" height="14" fill="#ffff00"/>
<rect x="193" y="74" width="28" height="14" fill="url(#pG3)"/>
<rect x="221" y="74" width="24" height="14" fill="#ffff00"/>
<rect x="58" y="88" width="38" height="14" fill="#008400"/>
<rect x="58" y="88" width="38" height="14" fill="url(#pG3)"/>
<rect x="96" y="88" width="14" height="14" fill="#008400"/>
<rect x="96" y="88" width="14" height="14" fill="url(#pG2)"/>
<rect x="110" y="88" width="14" height="14" fill="#80ff00"/>
<rect x="110" y="88" width="14" height="14" fill="url(#pD2)"/>
<rect x="124" y="88" width="28" height="14" fill="#80ff00"/>
<rect x="152" y="88" width="13" height="14" fill="#80ff00"/>
<rect x="152" y="88" width="13" height="14" fill="url(#pY1)"/>
<rect x="165" y="88" width="14" height="14" fill="#80ff00"/>
<rect x="179" y="88" width="14" height="14" fill="#80ff00"/>
<rect x="179" y="88" width="14" height="14" fill="url(#pY2)"/>
<rect x="193" y="88" width="14" height="14" fill="#ffff00"/>
<rect x="193" y="88" width="14" height="14" fill="url(#pG2)"/>
<rect x="207" y="88" width="38" height="14" fill="#ffff00"/>
<rect x="58" y="102" width="38" height="14" fill="#008400"/>
<rect x="58" y="102" width="38" height="14" fill="url(#pG2)"/>
<rect x="96" y="102" width="14" height="14" fill="#80ff00"/>
<rect x="96" y="102" width="14" height="14" fill="url(#pD2)"/>
<rect x="110" y="102" width="42" height="14" fill="#80ff00"/>
<rect x="152" y="102" width="13" height="14" fill="#80ff00"/>
<rect x="152" y="102" width="13" height="14" fill="url(#pY2)"/>
<rect x="165" y="102" width="28" height="14" fill="#80ff00"/>
<rect x="193" y="102" width="14" height="14" fill="#ffff00"/>
<rect x="193" y="102" width="14" height="14" fill="url(#pG2)"/>
<rect x="207" y="102" width="14" height="14" fill="#ffff00"/>
<rect x="221" y="102" width="24" height="14" fill="#ffff00"/>
<rect x="221" y="102" width="24" height="14" fill="url(#pR1)"/>
<rect x="58" y="116" width="38" height="13" fill="#80ff00"/>
<rect x="58" y="116" width="38" height="13" fill="url(#pE1)"/>
<rect x="96" y="116" width="14" height="13" fill="#80ff00"/>
<rect x="96" y="116" width="14" height="13" fill="url(#pY2)"/>
<rect x="110" y="116" width="14" height="13" fill="#ffff00"/>
<rect x="110" y="116" width="14" height="13" fill="url(#pG2)"/>
<rect x="124" y="116" width="14" height="13" fill="#80ff00"/>
<rect x="124" y="116" width="14" height="13" fill="url(#pY2)"/>
<rect x="138" y="116" width="14" height="13" fill="#80ff00"/>
<rect x="152" y="116" width="13" height="13" fill="#ffff00"/>
<rect x="152" y="116" width="13" height="13" fill="url(#pG2)"/>
<rect x="165" y="116" width="14" height="13" fill="#80ff00"/>
<rect x="165" y="116" width="14" height="13" fill="url(#pY2)"/>
<rect x="179" y="116" width="28" height="13" fill="#ffff00"/>
<rect x="179" y="116" width="28" height="13" fill="url(#pG2)"/>
<rect x="207" y="116" width="38" height="13" fill="#ffff00"/>
<rect x="58" y="129" width="38" height="14" fill="#80ff00"/>
<rect x="58" y="129" width="38" height="14" fill="url(#pD2)"/>
<rect x="96" y="129" width="28" height="14" fill="#ffff00"/>
<rect x="96" y="129" width="28" height="14" fill="url(#pG3)"/>
<rect x="124" y="129" width="14" height="14" fill="#ffff00"/>
<rect x="124" y="129" width="14" height="14" fill="url(#pG2)"/>
<rect x="138" y="129" width="14" height="14" fill="#80ff00"/>
<rect x="138" y="129" width="14" height="14" fill="url(#pY2)"/>
<rect x="152" y="129" width="13" height="14" fill="#ffff00"/>
<rect x="152" y="129" width="13" height="14" fill="url(#pG2)"/>
<rect x="165" y="129" width="14" height="14" fill="#80ff00"/>
<rect x="165" y="129" width="14" height="14" fill="url(#pY2)"/>
<rect x="179" y="129" width="14" height="14" fill="#ffff00"/>
<rect x="193" y="129" width="14" height="14" fill="#ffff00"/>
<rect x="193" y="129" width="14" height="14" fill="url(#pG2)"/>
<rect x="207" y="129" width="38" height="14" fill="#ffff00"/>
<rect x="58" y="143" width="38" height="14" fill="#80ff00"/>
<rect x="58" y="143" width="38" height="14" fill="url(#pD2)"/>
<rect x="96" y="143" width="14" height="14" fill="#80ff00"/>
<rect x="96" y="143" width="14" height="14" fill="url(#pY2)"/>
<rect x="110" y="143" width="14" height="14" fill="#ffff00"/>
<rect x="110" y="143" width="14" height="14" fill="url(#pG2)"/>
<rect x="124" y="143" width="14" height="14" fill="#ffff00"/>
<rect x="138" y="143" width="27" height="14" fill="#ffff00"/>
<rect x="138" y="143" width="27" height="14" fill="url(#pG2)"/>
<rect x="165" y="143" width="14" height="14" fill="#ffff00"/>
<rect x="165" y="143" width="14" height="14" fill="url(#pO1)"/>
<rect x="179" y="143" width="28" height="14" fill="#ffff00"/>
<rect x="207" y="143" width="14" height="14" fill="#ffa500"/>
<rect x="207" y="143" width="14" height="14" fill="url(#pY2)"/>
<rect x="221" y="143" width="24" height="14" fill="#ffff00"/>
<rect x="58" y="157" width="38" height="14" fill="#008400"/>
<rect x="58" y="157" width="38" height="14" fill="url(#pG2)"/>
<rect x="96" y="157" width="14" height="14" fill="#80ff00"/>
<rect x="110" y="157" width="14" height="14" fill="#ffff00"/>
<rect x="110" y="157" width="14" height="14" fill="url(#pG2)"/>
<rect x="124" y="157" width="14" height="14" fill="#ffff00"/>
<rect x="138" y="157" width="14" height="14" fill="#ffff00"/>
<rect x="138" y="157" width="14" height="14" fill="url(#pO1)"/>
<rect x="152" y="157" width="13" height="14" fill="#ffff00"/>
<rect x="152" y="157" width="13" height="14" fill="url(#pR1)"/>
<rect x="165" y="157" width="56" height="14" fill="#ffff00"/>
<rect x="221" y="157" width="24" height="14" fill="#ffff00"/>
<rect x="221" y="157" width="24" height="14" fill="url(#pG1)"/>
<rect x="58" y="171" width="38" height="14" fill="#008400"/>
<rect x="58" y="171" width="38" height="14" fill="url(#pG2)"/>
<rect x="96" y="171" width="14" height="14" fill="#80ff00"/>
<rect x="96" y="171" width="14" height="14" fill="url(#pY2)"/>
<rect x="110" y="171" width="28" height="14" fill="#ffff00"/>
<rect x="138" y="171" width="14" height="14" fill="#ffff00"/>
<rect x="138" y="171" width="14" height="14" fill="url(#pG2)"/>
<rect x="152" y="171" width="13" height="14" fill="#ffff00"/>
<rect x="165" y="171" width="14" height="14" fill="#ffff00"/>
<rect x="165" y="171" width="14" height="14" fill="url(#pO2)"/>
<rect x="179" y="171" width="14" height="14" fill="#ffa500"/>
<rect x="179" y="171" width="14" height="14" fill="url(#pY2)"/>
<rect x="193" y="171" width="14" height="14" fill="#ffff00"/>
<rect x="193" y="171" width="14" height="14" fill="url(#pO2)"/>
<rect x="207" y="171" width="38" height="14" fill="#ffff00"/>
<rect x="58" y="185" width="38" height="14" fill="#80ff00"/>
<rect x="58" y="185" width="38" height="14" fill="url(#pY2)"/>
<rect x="96" y="185" width="14" height="14" fill="#ffff00"/>
<rect x="96" y="185" width="14" height="14" fill="url(#pG2)"/>
<rect x="110" y="185" width="14" height="14" fill="#ffff00"/>
<rect x="124" y="185" width="41" height="14" fill="#ffff00"/>
<rect x="124" y="185" width="41" height="14" fill="url(#pG2)"/>
<rect x="165" y="185" width="14" height="14" fill="#ffa500"/>
<rect x="165" y="185" width="14" height="14" fill="url(#pY2)"/>
<rect x="179" y="185" width="14" height="14" fill="#ffa500"/>
<rect x="179" y="185" width="14" height="14" fill="url(#pR1)"/>
<rect x="193" y="185" width="28" height="14" fill="#ffff00"/>
<rect x="221" y="185" width="24" height="14" fill="#ffff00"/>
<rect x="221" y="185" width="24" height="14" fill="url(#pO1)"/>
<rect x="58" y="199" width="94" height="14" fill="#ffff00"/>
<rect x="58" y="199" width="94" height="14" fill="url(#pG2)"/>
<rect x="152" y="199" width="13" height="14" fill="#ffff00"/>
<rect x="152" y="199" width="13" height="14" fill="url(#pO2)"/>
<rect x="165" y="199" width="14" height="14" fill="#ffff00"/>
<rect x="165" y="199" width="14" height="14" fill="url(#pR1)"/>
<rect x="179" y="199" width="14" height="14" fill="#ffa500"/>
<rect x="179" y="199" width="14" height="14" fill="url(#pR1)"/>
<rect x="193" y="199" width="14" height="14" fill="#ffff00"/>
<rect x="193" y="199" width="14" height="14" fill="url(#pO2)"/>
<rect x="207" y="199" width="14" height="14" fill="#ffff00"/>
<rect x="221" y="199" width="24" height="14" fill="#ffff00"/>
<rect x="221" y="199" width="24" height="14" fill="url(#pO2)"/>
<rect x="58" y="213" width="38" height="14" fill="#ffff00"/>
<rect x="58" y="213" width="38" height="14" fill="url(#pG2)"/>
<rect x="96" y="213" width="28" height="14" fill="#80ff00"/>
<rect x="96" y="213" width="28" height="14" fill="url(#pY2)"/>
<rect x="124" y="213" width="14" height="14" fill="#ffff00"/>
<rect x="124" y="213" width="14" height="14" fill="url(#pG2)"/>
<rect x="138" y="213" width="14" height="14" fill="#ffff00"/>
<rect x="152" y="213" width="13" height="14" fill="#ffff00"/>
<rect x="152" y="213" width="13" height="14" fill="url(#pM1)"/>
<rect x="165" y="213" width="14" height="14" fill="#ffff00"/>
<rect x="165" y="213" width="14" height="14" fill="url(#pR2)"/>
<rect x="179" y="213" width="14" height="14" fill="#80ff00"/>
<rect x="179" y="213" width="14" height="14" fill="url(#pY2)"/>
<rect x="193" y="213" width="14" height="14" fill="#ffff00"/>
<rect x="193" y="213" width="14" height="14" fill="url(#pG2)"/>
<rect x="207" y="213" width="38" height="14" fill="#ffff00"/>
<rect x="207" y="213" width="38" height="14" fill="url(#pO2)"/>
<rect x="58" y="227" width="38" height="14" fill="#ffa500"/>
<rect x="58" y="227" width="38" height="14" fill="url(#pR2)"/>
<rect x="96" y="227" width="14" height="14" fill="#ffa500"/>
<rect x="96" y="227" width="14" height="14" fill="url(#pY2)"/>
<rect x="110" y="227" width="14" height="14" fill="#ffff00"/>
<rect x="110" y="227" width="14" height="14" fill="url(#pG2)"/>
<rect x="124" y="227" width="14" height="14" fill="#80ff00"/>
<rect x="124" y="227" width="14" height="14" fill="url(#pY2)"/>
<rect x="138" y="227" width="14" height="14" fill="#ffff00"/>
<rect x="138" y="227" width="14" height="14" fill="url(#pR2)"/>
<rect x="152" y="227" width="13" height="14" fill="#ffff00"/>
<rect x="152" y="227" width="13" height="14" fill="url(#pO2)"/>
<rect x="165" y="227" width="14" height="14" fill="#ffa500"/>
<rect x="165" y="227" width="14" height="14" fill="url(#pR2)"/>
<rect x="179" y="227" width="14" height="14" fill="#ffff00"/>
<rect x="179" y="227" width="14" height="14" fill="url(#pO2)"/>
<rect x="193" y="227" width="28" height="14" fill="#80ff00"/>
<rect x="193" y="227" width="28" height="14" fill="url(#pY2)"/>
<rect x="221" y="227" width="24" height="14" fill="#ffff00"/>
<rect x="221" y="227" width="24" height="14" fill="url(#pO2)"/>
<rect x="58" y="241" width="38" height="13" fill="#ffff00"/>
<rect x="96" y="241" width="14" height="13" fill="#ffff00"/>
<rect x="96" y="241" width="14" height="13" fill="url(#pO2)"/>
<rect x="110" y="241" width="14" height="13" fill="#ffff00"/>
<rect x="110" y="241" width="14" height="13" fill="url(#pG2)"/>
<rect x="124" y="241" width="14" height="13" fill="#80ff00"/>
<rect x="124" y="241" width="14" height="13" fill="url(#pY2)"/>
<rect x="138" y="241" width="27" height="13" fill="#ffff00"/>
<rect x="138" y="241" width="27" height="13" fill="url(#pG2)"/>
<rect x="165" y="241" width="14" height="13" fill="#ffff00"/>
<rect x="165" y="241" width="14" height="13" fill="url(#pO2)"/>
<rect x="179" y="241" width="14" height="13" fill="#ffa500"/>
<rect x="179" y="241" width="14" height="13" fill="url(#pY2)"/>
<rect x="193" y="241" width="14" height="13" fill="#ffff00"/>
<rect x="193" y="241" width="14" height="13" fill="url(#pO2)"/>
<rect x="207" y="241" width="14" height="13" fill="#ffff00"/>
<rect x="221" y="241" width="24" height="13" fill="#ffa500"/>
<rect x="221" y="241" width="24" height="13" fill="url(#pY2)"/>
<rect x="58" y="254" width="38" height="14" fill="#ffa500"/>
<rect x="58" y="254" width="38" height="14" fill="url(#pY2)"/>
<rect x="96" y="254" width="14" height="14" fill="#ffa500"/>
<rect x="110" y="254" width="14" height="14" fill="#ffa500"/>
<rect x="110" y="254" width="14" height="14" fill="url(#pY2)"/>
<rect x="124" y="254" width="28" height="14" fill="#ffff00"/>
<rect x="124" y="254" width="28" height="14" fill="url(#pG2)"/>
<rect x="152" y="254" width="13" height="14" fill="#ffff00"/>
<rect x="165" y="254" width="14" height="14" fill="#ffff00"/>
<rect x="165" y="254" width="14" height="14" fill="url(#pG2)"/>
<rect x="179" y="254" width="14" height="14" fill="#ffff00"/>
<rect x="179" y="254" width="14" height="14" fill="url(#pO2)"/>
<rect x="193" y="254" width="14" height="14" fill="#ffff00"/>
<rect x="207" y="254" width="14" height="14" fill="#ffff00"/>
<rect x="207" y="254" width="14" height="14" fill="url(#pO2)"/>
<rect x="221" y="254" width="24" height="14" fill="#ffa500"/>
<rect x="221" y="254" width="24" height="14" fill="url(#pY2)"/>
<rect x="58" y="268" width="38" height="14" fill="#ffa500"/>
<rect x="58" y="268" width="38" height="14" fill="url(#pY2)"/>
<rect x="96" y="268" width="56" height="14" fill="#ffff00"/>
<rect x="96" y="268" width="56" height="14" fill="url(#pO2)"/>
<rect x="152" y="268" width="13" height="14" fill="#ff5000"/>
<rect x="152" y="268" width="13" height="14" fill="url(#pY2)"/>
<rect x="165" y="268" width="14" height="14" fill="#ffff00"/>
<rect x="165" y="268" width="14" height="14" fill="url(#pO2)"/>
<rect x="179" y="268" width="28" height="14" fill="#ffa500"/>
<rect x="179" y="268" width="28" height="14" fill="url(#pY2)"/>
<rect x="207" y="268" width="38" height="14" fill="#ffa500"/>
<rect x="207" y="268" width="38" height="14" fill="url(#pR2)"/>
<rect x="58" y="282" width="38" height="14" fill="#ffa500"/>
<rect x="58" y="282" width="38" height="14" fill="url(#pR2)"/>
<rect x="96" y="282" width="14" height="14" fill="#ffa500"/>
<rect x="96" y="282" width="14" height="14" fill="url(#pY2)"/>
<rect x="110" y="282" width="14" height="14" fill="#ffff00"/>
<rect x="110" y="282" width="14" height="14" fill="url(#pO2)"/>
<rect x="124" y="282" width="14" height="14" fill="#ffa500"/>
<rect x="124" y="282" width="14" height="14" fill="url(#pR2)"/>
<rect x="138" y="282" width="14" height="14" fill="#ffa500"/>
<rect x="138" y="282" width="14" height="14" fill="url(#pY2)"/>
<rect x="152" y="282" width="13" height="14" fill="#ffff00"/>
<rect x="152" y="282" width="13" height="14" fill="url(#pG2)"/>
<rect x="165" y="282" width="14" height="14" fill="#ffa500"/>
<rect x="165" y="282" width="14" height="14" fill="url(#pY2)"/>
<rect x="179" y="282" width="28" height="14" fill="#ffa500"/>
<rect x="179" y="282" width="28" height="14" fill="url(#pR2)"/>
<rect x="207" y="282" width="38" height="14" fill="#ffa500"/>
<rect x="58" y="296" width="52" height="14" fill="#ffa500"/>
<rect x="58" y="296" width="52" height="14" fill="url(#pR2)"/>
<rect x="110" y="296" width="14" height="14" fill="#ffff00"/>
<rect x="110" y="296" width="14" height="14" fill="url(#pO2)"/>
<rect x="124" y="296" width="14" height="14" fill="#ffa500"/>
<rect x="124" y="296" width="14" height="14" fill="url(#pY2)"/>
<rect x="138" y="296" width="14" height="14" fill="#ffa500"/>
<rect x="138" y="296" width="14" height="14" fill="url(#pR2)"/>
<rect x="152" y="296" width="13" height="14" fill="#ffff00"/>
<rect x="152" y="296" width="13" height="14" fill="url(#pO2)"/>
<rect x="165" y="296" width="28" height="14" fill="#ffa500"/>
<rect x="165" y="296" width="28" height="14" fill="url(#pR2)"/>
<rect x="193" y="296" width="14" height="14" fill="#ffa500"/>
<rect x="207" y="296" width="38" height="14" fill="#ffa500"/>
<rect x="207" y="296" width="38" height="14" fill="url(#pR2)"/>
<rect x="58" y="310" width="38" height="14" fill="#ffff00"/>
<rect x="58" y="310" width="38" height="14" fill="url(#pG2)"/>
<rect x="96" y="310" width="14" height="14" fill="#ffff00"/>
<rect x="96" y="310" width="14" height="14" fill="url(#pO2)"/>
<rect x="110" y="310" width="14" height="14" fill="#ffa500"/>
<rect x="110" y="310" width="14" height="14" fill="url(#pY2)"/>
<rect x="124" y="310" width="14" height="14" fill="#ffa500"/>
<rect x="138" y="310" width="14" height="14" fill="#ffa500"/>
<rect x="138" y="310" width="14" height="14" fill="url(#pR2)"/>
<rect x="152" y="310" width="13" height="14" fill="#ffff00"/>
<rect x="152" y="310" width="13" height="14" fill="url(#pG2)"/>
<rect x="165" y="310" width="14" height="14" fill="#ffff00"/>
<rect x="179" y="310" width="14" height="14" fill="#ffa500"/>
<rect x="179" y="310" width="14" height="14" fill="url(#pY2)"/>
<rect x="193" y="310" width="14" height="14" fill="#ffa500"/>
<rect x="193" y="310" width="14" height="14" fill="url(#pR2)"/>
<rect x="207" y="310" width="14" height="14" fill="#ffa500"/>
<rect x="221" y="310" width="24" height="14" fill="#ffa500"/>
<rect x="221" y="310" width="24" height="14" fill="url(#pR2)"/>
<rect x="58" y="324" width="52" height="14" fill="#ffff00"/>
<rect x="58" y="324" width="52" height="14" fill="url(#pG2)"/>
<rect x="110" y="324" width="14" height="14" fill="#ffff00"/>
<rect x="110" y="324" width="14" height="14" fill="url(#pO2)"/>
<rect x="124" y="324" width="14" height="14" fill="#ffff00"/>
<rect x="124" y="324" width="14" height="14" fill="url(#pG2)"/>
<rect x="138" y="324" width="14" height="14" fill="#ffff00"/>
<rect x="138" y="324" width="14" height="14" fill="url(#pO2)"/>
<rect x="152" y="324" width="27" height="14" fill="#ffff00"/>
<rect x="152" y="324" width="27" height="14" fill="url(#pG2)"/>
<rect x="179" y="324" width="14" height="14" fill="#ffa500"/>
<rect x="179" y="324" width="14" height="14" fill="url(#pY2)"/>
<rect x="193" y="324" width="14" height="14" fill="#ffa500"/>
<rect x="193" y="324" width="14" height="14" fill="url(#pR2)"/>
<rect x="207" y="324" width="38" height="14" fill="#ffa500"/>
<rect x="58" y="338" width="38" height="14" fill="#ffff00"/>
<rect x="96" y="338" width="14" height="14" fill="#ffff00"/>
<rect x="96" y="338" width="14" height="14" fill="url(#pO2)"/>
<rect x="110" y="338" width="14" height="14" fill="#ffa500"/>
<rect x="110" y="338" width="14" height="14" fill="url(#pY2)"/>
<rect x="124" y="338" width="41" height="14" fill="#ffa500"/>
<rect x="124" y="338" width="41" height="14" fill="url(#pR2)"/>
<rect x="165" y="338" width="14" height="14" fill="#ffa500"/>
<rect x="165" y="338" width="14" height="14" fill="url(#pY2)"/>
<rect x="179" y="338" width="42" height="14" fill="#ffa500"/>
<rect x="179" y="338" width="42" height="14" fill="url(#pR2)"/>
<rect x="221" y="338" width="24" height="14" fill="#ffa500"/>
<rect x="58" y="352" width="38" height="14" fill="#ffff00"/>
<rect x="58" y="352" width="38" height="14" fill="url(#pO2)"/>
<rect x="96" y="352" width="14" height="14" fill="#ffa500"/>
<rect x="96" y="352" width="14" height="14" fill="url(#pY2)"/>
<rect x="110" y="352" width="14" height="14" fill="#ffa500"/>
<rect x="124" y="352" width="28" height="14" fill="#ffa500"/>
<rect x="124" y="352" width="28" height="14" fill="url(#pR2)"/>
<rect x="152" y="352" width="13" height="14" fill="#ff5000"/>
<rect x="152" y="352" width="13" height="14" fill="url(#pO2)"/>
<rect x="165" y="352" width="14" height="14" fill="#ffa500"/>
<rect x="165" y="352" width="14" height="14" fill="url(#pR2)"/>
<rect x="179" y="352" width="14" height="14" fill="#ff5000"/>
<rect x="179" y="352" width="14" height="14" fill="url(#pO2)"/>
<rect x="193" y="352" width="28" height="14" fill="#ffa500"/>
<rect x="193" y="352" width="28" height="14" fill="url(#pR2)"/>
<rect x="221" y="352" width="24" height="14" fill="#ffa500"/>
<rect x="58" y="366" width="38" height="14" fill="#ffff00"/>
<rect x="58" y="366" width="38" height="14" fill="url(#pR2)"/>
<rect x="96" y="366" width="14" height="14" fill="#ffff00"/>
<rect x="110" y="366" width="14" height="14" fill="#ffff00"/>
<rect x="110" y="366" width="14" height="14" fill="url(#pG2)"/>
<rect x="124" y="366" width="14" height="14" fill="#80ff00"/>
<rect x="124" y="366" width="14" height="14" fill="url(#pY2)"/>
<rect x="138" y="366" width="14" height="14" fill="#ffff00"/>
<rect x="138" y="366" width="14" height="14" fill="url(#pO2)"/>
<rect x="152" y="366" width="13" height="14" fill="#ffa500"/>
<rect x="152" y="366" width="13" height="14" fill="url(#pY2)"/>
<rect x="165" y="366" width="14" height="14" fill="#ffa500"/>
<rect x="165" y="366" width="14" height="14" fill="url(#pR2)"/>
<rect x="179" y="366" width="14" height="14" fill="#ffa500"/>
<rect x="179" y="366" width="14" height="14" fill="url(#pY2)"/>
<rect x="193" y="366" width="14" height="14" fill="#ffa500"/>
<rect x="193" y="366" width="14" height="14" fill="url(#pR2)"/>
<rect x="207" y="366" width="14" height="14" fill="#ffa500"/>
<rect x="221" y="366" width="24" height="14" fill="#ffff00"/>
<rect x="221" y="366" width="24" height="14" fill="url(#pO2)"/>
<rect x="58" y="380" width="38" height="14" fill="#ffa500"/>
<rect x="58" y="380" width="38" height="14" fill="url(#pR2)"/>
<rect x="96" y="380" width="28" height="14" fill="#ffa500"/>
<rect x="96" y="380" width="28" height="14" fill="url(#pY2)"/>
<rect x="124" y="380" width="14" height="14" fill="#ffff00"/>
<rect x="124" y="380" width="14" height="14" fill="url(#pG2)"/>
<rect x="138" y="380" width="14" height="14" fill="#80ff00"/>
<rect x="138" y="380" width="14" height="14" fill="url(#pY2)"/>
<rect x="152" y="380" width="13" height="14" fill="#ffff00"/>
<rect x="152" y="380" width="13" height="14" fill="url(#pO2)"/>
<rect x="165" y="380" width="28" height="14" fill="#ffa500"/>
<rect x="165" y="380" width="28" height="14" fill="url(#pY2)"/>
<rect x="193" y="380" width="14" height="14" fill="#ffff00"/>
<rect x="193" y="380" width="14" height="14" fill="url(#pO2)"/>
<rect x="207" y="380" width="14" height="14" fill="#ffa500"/>
<rect x="207" y="380" width="14" height="14" fill="url(#pR2)"/>
<rect x="221" y="380" width="24" height="14" fill="#ffa500"/>
<rect x="221" y="380" width="24" height="14" fill="url(#pY2)"/>
<rect x="58" y="394" width="38" height="13" fill="#ffa500"/>
<rect x="58" y="394" width="38" height="13" fill="url(#pR2)"/>
<rect x="96" y="394" width="28" height="13" fill="#ffa500"/>
<rect x="96" y="394" width="28" height="13" fill="url(#pY2)"/>
<rect x="124" y="394" width="28" height="13" fill="#ffff00"/>
<rect x="124" y="394" width="28" height="13" fill="url(#pO2)"/>
<rect x="152" y="394" width="13" height="13" fill="#ffa500"/>
<rect x="152" y="394" width="13" height="13" fill="url(#pR2)"/>
<rect x="165" y="394" width="14" height="13" fill="#ff5000"/>
<rect x="165" y="394" width="14" height="13" fill="url(#pO2)"/>
<rect x="179" y="394" width="28" height="13" fill="#ffff00"/>
<rect x="179" y="394" width="28" height="13" fill="url(#pO2)"/>
<rect x="207" y="394" width="14" height="13" fill="#ffa500"/>
<rect x="207" y="394" width="14" height="13" fill="url(#pR2)"/>
<rect x="221" y="394" width="24" height="13" fill="#ffff00"/>
<rect x="221" y="394" width="24" height="13" fill="url(#pO2)"/>
<rect x="58" y="407" width="52" height="14" fill="#ffa500"/>
<rect x="58" y="407" width="52" height="14" fill="url(#pR2)"/>
<rect x="110" y="407" width="28" height="14" fill="#ffa500"/>
<rect x="110" y="407" width="28" height="14" fill="url(#pY2)"/>
<rect x="138" y="407" width="14" height="14" fill="#ffff00"/>
<rect x="138" y="407" width="14" height="14" fill="url(#pO2)"/>
<rect x="152" y="407" width="13" height="14" fill="#ff5000"/>
<rect x="152" y="407" width="13" height="14" fill="url(#pO2)"/>
<rect x="165" y="407" width="28" height="14" fill="#ffa500"/>
<rect x="165" y="407" width="28" height="14" fill="url(#pR2)"/>
<rect x="193" y="407" width="14" height="14" fill="#ffa500"/>
<rect x="193" y="407" width="14" height="14" fill="url(#pY2)"/>
<rect x="207" y="407" width="38" height="14" fill="#ffa500"/>
<rect x="207" y="407" width="38" height="14" fill="url(#pR2)"/>
<rect x="58" y="421" width="52" height="14" fill="#ffa500"/>
<rect x="58" y="421" width="52" height="14" fill="url(#pR2)"/>
<rect x="110" y="421" width="28" height="14" fill="#ffa500"/>
<rect x="110" y="421" width="28" height="14" fill="url(#pY2)"/>
<rect x="138" y="421" width="14" height="14" fill="#ffff00"/>
<rect x="138" y="421" width="14" height="14" fill="url(#pO2)"/>
<rect x="152" y="421" width="27" height="14" fill="#ffa500"/>
<rect x="152" y="421" width="27" height="14" fill="url(#pR2)"/>
<rect x="179" y="421" width="14" height="14" fill="#ff5000"/>
<rect x="179" y="421" width="14" height="14" fill="url(#pO2)"/>
<rect x="193" y="421" width="14" height="14" fill="#ffa500"/>
<rect x="193" y="421" width="14" height="14" fill="url(#pR2)"/>
<rect x="207" y="421" width="14" height="14" fill="#ffa500"/>
<rect x="207" y="421" width="14" height="14" fill="url(#pY2)"/>
<rect x="221" y="421" width="24" height="14" fill="#ff5000"/>
<rect x="221" y="421" width="24" height="14" fill="url(#pO2)"/>
<rect x="58" y="435" width="24" height="14" fill="#ffa500"/>
<rect x="58" y="435" width="24" height="14" fill="url(#pR2)"/>
<rect x="82" y="435" width="14" height="14" fill="#ff5000"/>
<rect x="82" y="435" width="14" height="14" fill="url(#pO2)"/>
<rect x="96" y="435" width="42" height="14" fill="#ffa500"/>
<rect x="96" y="435" width="42" height="14" fill="url(#pR2)"/>
<rect x="138" y="435" width="14" height="14" fill="#ffa500"/>
<rect x="138" y="435" width="14" height="14" fill="url(#pY2)"/>
<rect x="152" y="435" width="13" height="14" fill="#ffa500"/>
<rect x="152" y="435" width="13" height="14" fill="url(#pR2)"/>
<rect x="165" y="435" width="14" height="14" fill="#ffa500"/>
<rect x="165" y="435" width="14" height="14" fill="url(#pY2)"/>
<rect x="179" y="435" width="42" height="14" fill="#ffa500"/>
<rect x="179" y="435" width="42" height="14" fill="url(#pR2)"/>
<rect x="221" y="435" width="24" height="14" fill="#ff5000"/>
<rect x="221" y="435" width="24" height="14" fill="url(#pO2)"/>
<rect x="58" y="449" width="52" height="14" fill="#ffa500"/>
<rect x="58" y="449" width="52" height="14" fill="url(#pR2)"/>
<rect x="110" y="449" width="28" height="14" fill="#ffa500"/>
<rect x="110" y="449" width="28" height="14" fill="url(#pY2)"/>
<rect x="138" y="449" width="14" height="14" fill="#ffff00"/>
<rect x="138" y="449" width="14" height="14" fill="url(#pO2)"/>
<rect x="152" y="449" width="13" height="14" fill="#ffa500"/>
<rect x="152" y="449" width="13" height="14" fill="url(#pY2)"/>
<rect x="165" y="449" width="28" height="14" fill="#ffa500"/>
<rect x="165" y="449" width="28" height="14" fill="url(#pR2)"/>
<rect x="193" y="449" width="14" height="14" fill="#ffa500"/>
<rect x="193" y="449" width="14" height="14" fill="url(#pY2)"/>
<rect x="207" y="449" width="14" height="14" fill="#ffa500"/>
<rect x="207" y="449" width="14" height="14" fill="url(#pR2)"/>
<rect x="221" y="449" width="24" height="14" fill="#ff5000"/>
<rect x="221" y="449" width="24" height="14" fill="url(#pO2)"/>
<rect x="58" y="463" width="38" height="14" fill="#ff5000"/>
<rect x="58" y="463" width="38" height="14" fill="url(#pO2)"/>
<rect x="96" y="463" width="14" height="14" fill="#ffa500"/>
<rect x="96" y="463" width="14" height="14" fill="url(#pR2)"/>
<rect x="110" y="463" width="14" height="14" fill="#ffa500"/>
<rect x="110" y="463" width="14" height="14" fill="url(#pY2)"/>
<rect x="124" y="463" width="14" height="14" fill="#ffff00"/>
<rect x="124" y="463" width="14" height="14" fill="url(#pO2)"/>
<rect x="138" y="463" width="14" height="14" fill="#ffa500"/>
<rect x="138" y="463" width="14" height="14" fill="url(#pR2)"/>
<rect x="152" y="463" width="13" height="14" fill="#ffa500"/>
<rect x="152" y="463" width="13" height="14" fill="url(#pY2)"/>
<rect x="165" y="463" width="28" height="14" fill="#ffff00"/>
<rect x="165" y="463" width="28" height="14" fill="url(#pO2)"/>
<rect x="193" y="463" width="28" height="14" fill="#ffa500"/>
<rect x="193" y="463" width="28" height="14" fill="url(#pY2)"/>
<rect x="221" y="463" width="24" height="14" fill="#ffa500"/>
<rect x="221" y="463" width="24" height="14" fill="url(#pR2)"/>
<rect x="58" y="477" width="38" height="14" fill="#ffa500"/>
<rect x="58" y="477" width="38" height="14" fill="url(#pR2)"/>
<rect x="96" y="477" width="14" height="14" fill="#ffa500"/>
<rect x="96" y="477" width="14" height="14" fill="url(#pY2)"/>
<rect x="110" y="477" width="28" height="14" fill="#ffa500"/>
<rect x="110" y="477" width="28" height="14" fill="url(#pR2)"/>
<rect x="138" y="477" width="41" height="14" fill="#ffa500"/>
<rect x="138" y="477" width="41" height="14" fill="url(#pY2)"/>
<rect x="179" y="477" width="14" height="14" fill="#ffff00"/>
<rect x="179" y="477" width="14" height="14" fill="url(#pO2)"/>
<rect x="193" y="477" width="14" height="14" fill="#ffa500"/>
<rect x="193" y="477" width="14" height="14" fill="url(#pY2)"/>
<rect x="207" y="477" width="14" height="14" fill="#ffff00"/>
<rect x="207" y="477" width="14" height="14" fill="url(#pO2)"/>
<rect x="221" y="477" width="24" height="14" fill="#ffa500"/>
<rect x="221" y="477" width="24" height="14" fill="url(#pY2)"/>
<rect x="58" y="491" width="24" height="14" fill="#ffa500"/>
<rect x="58" y="491" width="24" height="14" fill="url(#pY2)"/>
<rect x="82" y="491" width="14" height="14" fill="#ffa500"/>
<rect x="82" y="491" width="14" height="14" fill="url(#pR2)"/>
<rect x="96" y="491" width="14" height="14" fill="#ffff00"/>
<rect x="96" y="491" width="14" height="14" fill="url(#pO2)"/>
<rect x="110" y="491" width="14" height="14" fill="#ffa500"/>
<rect x="110" y="491" width="14" height="14" fill="url(#pR2)"/>
<rect x="124" y="491" width="14" height="14" fill="#ffa500"/>
<rect x="124" y="491" width="14" height="14" fill="url(#pY2)"/>
<rect x="138" y="491" width="14" height="14" fill="#ffa500"/>
<rect x="138" y="491" width="14" height="14" fill="url(#pR2)"/>
<rect x="152" y="491" width="13" height="14" fill="#ffa500"/>
<rect x="152" y="491" width="13" height="14" fill="url(#pY2)"/>
<rect x="165" y="491" width="80" height="14" fill="#ffa500"/>
<rect x="165" y="491" width="80" height="14" fill="url(#pR2)"/>
<rect x="58" y="505" width="38" height="14" fill="#ffff00"/>
<rect x="58" y="505" width="38" height="14" fill="url(#pO2)"/>
<rect x="96" y="505" width="14" height="14" fill="#ffff00"/>
<rect x="96" y="505" width="14" height="14" fill="url(#pG2)"/>
<rect x="110" y="505" width="14" height="14" fill="#80ff00"/>
<rect x="110" y="505" width="14" height="14" fill="url(#pY2)"/>
<rect x="124" y="505" width="28" height="14" fill="#ffff00"/>
<rect x="124" y="505" width="28" height="14" fill="url(#pO2)"/>
<rect x="152" y="505" width="13" height="14" fill="#ffa500"/>
<rect x="152" y="505" width="13" height="14" fill="url(#pY2)"/>
<rect x="165" y="505" width="14" height="14" fill="#ffff00"/>
<rect x="165" y="505" width="14" height="14" fill="url(#pO2)"/>
<rect x="179" y="505" width="14" height="14" fill="#ffa500"/>
<rect x="179" y="505" width="14" height="14" fill="url(#pY2)"/>
<rect x="193" y="505" width="28" height="14" fill="#ffa500"/>
<rect x="193" y="505" width="28" height="14" fill="url(#pR2)"/>
<rect x="221" y="505" width="24" height="14" fill="#ff5000"/>
<rect x="221" y="505" width="24" height="14" fill="url(#pO2)"/>
<rect x="58" y="519" width="38" height="13" fill="#008400"/>
<rect x="58" y="519" width="38" height="13" fill="url(#pG2)"/>
<rect x="96" y="519" width="14" height="13" fill="#80ff00"/>
<rect x="96" y="519" width="14" height="13" fill="url(#pD2)"/>
<rect x="110" y="519" width="97" height="13" fill="#80ff00"/>
<rect x="207" y="519" width="14" height="13" fill="#80ff00"/>
<rect x="207" y="519" width="14" height="13" fill="url(#pY2)"/>
<rect x="221" y="519" width="24" height="13" fill="#ffff00"/>
<rect x="58" y="532" width="38" height="14" fill="#008400"/>
<rect x="58" y="532" width="38" height="14" fill="url(#pG2)"/>
<rect x="96" y="532" width="111" height="14" fill="#80ff00"/>
<rect x="207" y="532" width="14" height="14" fill="#80ff00"/>
<rect x="207" y="532" width="14" height="14" fill="url(#pY2)"/>
<rect x="221" y="532" width="24" height="14" fill="#ffff00"/>
<rect x="58" y="546" width="24" height="14" fill="#008400"/>
<rect x="58" y="546" width="24" height="14" fill="url(#pG2)"/>
<rect x="82" y="546" width="14" height="14" fill="#80ff00"/>
<rect x="82" y="546" width="14" height="14" fill="url(#pD2)"/>
<rect x="96" y="546" width="42" height="14" fill="#80ff00"/>
<rect x="138" y="546" width="14" height="14" fill="#80ff00"/>
<rect x="138" y="546" width="14" height="14" fill="url(#pO2)"/>
<rect x="152" y="546" width="41" height="14" fill="#80ff00"/>
<rect x="193" y="546" width="14" height="14" fill="#80ff00"/>
<rect x="193" y="546" width="14" height="14" fill="url(#pY2)"/>
<rect x="207" y="546" width="38" height="14" fill="#ffff00"/>
<rect x="58" y="560" width="38" height="14" fill="#80ff00"/>
<rect x="58" y="560" width="38" height="14" fill="url(#pD2)"/>
<rect x="96" y="560" width="14" height="14" fill="#ffa500"/>
<rect x="96" y="560" width="14" height="14" fill="url(#pG2)"/>
<rect x="110" y="560" width="42" height="14" fill="#ffa500"/>
<rect x="110" y="560" width="42" height="14" fill="url(#pR2)"/>
<rect x="152" y="560" width="13" height="14" fill="#ffa500"/>
<rect x="152" y="560" width="13" height="14" fill="url(#pG2)"/>
<rect x="165" y="560" width="14" height="14" fill="#ffa500"/>
<rect x="165" y="560" width="14" height="14" fill="url(#pR2)"/>
<rect x="179" y="560" width="14" height="14" fill="#ff5000"/>
<rect x="179" y="560" width="14" height="14" fill="url(#pO2)"/>
<rect x="193" y="560" width="14" height="14" fill="#ffa500"/>
<rect x="193" y="560" width="14" height="14" fill="url(#pR2)"/>
<rect x="207" y="560" width="14" height="14" fill="#ffa500"/>
<rect x="207" y="560" width="14" height="14" fill="url(#pY2)"/>
<rect x="221" y="560" width="24" height="14" fill="#ffa500"/>
<rect x="221" y="560" width="24" height="14" fill="url(#pR2)"/>
<rect x="58" y="574" width="24" height="14" fill="#80ff00"/>
<rect x="58" y="574" width="24" height="14" fill="url(#pD2)"/>
<rect x="82" y="574" width="14" height="14" fill="#80ff00"/>
<rect x="82" y="574" width="14" height="14" fill="url(#pR2)"/>
<rect x="96" y="574" width="42" height="14" fill="#80ff00"/>
<rect x="96" y="574" width="42" height="14" fill="url(#pY2)"/>
<rect x="138" y="574" width="14" height="14" fill="#80ff00"/>
<rect x="138" y="574" width="14" height="14" fill="url(#pO2)"/>
<rect x="152" y="574" width="13" height="14" fill="#ffff00"/>
<rect x="152" y="574" width="13" height="14" fill="url(#pG2)"/>
<rect x="165" y="574" width="56" height="14" fill="#ffff00"/>
<rect x="165" y="574" width="56" height="14" fill="url(#pO2)"/>
<rect x="221" y="574" width="24" height="14" fill="#ffa500"/>
<rect x="221" y="574" width="24" height="14" fill="url(#pY2)"/>
<rect x="58" y="588" width="24" height="14" fill="#80ff00"/>
<rect x="58" y="588" width="24" height="14" fill="url(#pD2)"/>
<rect x="82" y="588" width="56" height="14" fill="#80ff00"/>
<rect x="82" y="588" width="56" height="14" fill="url(#pE1)"/>
<rect x="138" y="588" width="14" height="14" fill="#80ff00"/>
<rect x="138" y="588" width="14" height="14" fill="url(#pY2)"/>
<rect x="152" y="588" width="93" height="14" fill="#ffff00"/>
<rect x="152" y="588" width="93" height="14" fill="url(#pM2)"/>
<rect x="58" y="602" width="24" height="14" fill="#ffa500"/>
<rect x="58" y="602" width="24" height="14" fill="url(#pY2)"/>
<rect x="82" y="602" width="28" height="14" fill="#ffff00"/>
<rect x="82" y="602" width="28" height="14" fill="url(#pO2)"/>
<rect x="110" y="602" width="14" height="14" fill="#ffa500"/>
<rect x="110" y="602" width="14" height="14" fill="url(#pR2)"/>
<rect x="124" y="602" width="14" height="14" fill="#ffa500"/>
<rect x="124" y="602" width="14" height="14" fill="url(#pY2)"/>
<rect x="138" y="602" width="14" height="14" fill="#ffa500"/>
<rect x="138" y="602" width="14" height="14" fill="url(#pR2)"/>
<rect x="152" y="602" width="13" height="14" fill="#ffa500"/>
<rect x="152" y="602" width="13" height="14" fill="url(#pY2)"/>
<rect x="165" y="602" width="56" height="14" fill="#ffff00"/>
<rect x="165" y="602" width="56" height="14" fill="url(#pO2)"/>
<rect x="221" y="602" width="24" height="14" fill="#ffa500"/>
<rect x="221" y="602" width="24" height="14" fill="url(#pM2)"/>
<rect x="58" y="616" width="24" height="24" fill="#ffa500"/>
<rect x="58" y="616" width="24" height="24" fill="url(#pY2)"/>
<rect x="82" y="616" width="14" height="24" fill="#ffa500"/>
<rect x="82" y="616" width="14" height="24" fill="url(#pR2)"/>
<rect x="96" y="616" width="14" height="24" fill="#ffa500"/>
<rect x="96" y="616" width="14" height="24" fill="url(#pY2)"/>
<rect x="110" y="616" width="28" height="24" fill="#ffa500"/>
<rect x="110" y="616" width="28" height="24" fill="url(#pR2)"/>
<rect x="138" y="616" width="14" height="24" fill="#ff5000"/>
<rect x="138" y="616" width="14" height="24" fill="url(#pO2)"/>
<rect x="152" y="616" width="13" height="24" fill="#ffa500"/>
<rect x="152" y="616" width="13" height="24" fill="url(#pR2)"/>
<rect x="165" y="616" width="14" height="24" fill="#ff5000"/>
<rect x="165" y="616" width="14" height="24" fill="url(#pM2)"/>
<rect x="179" y="616" width="14" height="24" fill="#ffa500"/>
<rect x="179" y="616" width="14" height="24" fill="url(#pR2)"/>
<rect x="193" y="616" width="14" height="24" fill="#ff5000"/>
<rect x="193" y="616" width="14" height="24" fill="url(#pY2)"/>
<rect x="207" y="616" width="14" height="24" fill="#ffa500"/>
<rect x="207" y="616" width="14" height="24" fill="url(#pR2)"/>
<rect x="221" y="616" width="24" height="24" fill="#ffa500"/>
<rect x="221" y="616" width="24" height="24" fill="url(#pM2)"/>
</g><g filter="url(#dispy)">
<rect x="225" y="36" width="66" height="24" fill="#ffff00"/>
<rect x="291" y="36" width="14" height="24" fill="#ffff00"/>
<rect x="291" y="36" width="14" height="24" fill="url(#pO1)"/>
<rect x="305" y="36" width="14" height="24" fill="#ffff00"/>
<rect x="305" y="36" width="14" height="24" fill="url(#pO3)"/>
<rect x="319" y="36" width="13" height="24" fill="#ffff00"/>
<rect x="319" y="36" width="13" height="24" fill="url(#pO2)"/>
<rect x="332" y="36" width="14" height="24" fill="#ffa500"/>
<rect x="346" y="36" width="14" height="24" fill="#ffa500"/>
<rect x="346" y="36" width="14" height="24" fill="url(#pY2)"/>
<rect x="360" y="36" width="52" height="24" fill="#ffa500"/>
<rect x="360" y="36" width="52" height="24" fill="url(#pR2)"/>
<rect x="225" y="60" width="24" height="14" fill="#ffff00"/>
<rect x="249" y="60" width="14" height="14" fill="#ffff00"/>
<rect x="249" y="60" width="14" height="14" fill="url(#pG1)"/>
<rect x="263" y="60" width="28" height="14" fill="#ffff00"/>
<rect x="291" y="60" width="14" height="14" fill="#ffff00"/>
<rect x="291" y="60" width="14" height="14" fill="url(#pO1)"/>
<rect x="305" y="60" width="14" height="14" fill="#ffa500"/>
<rect x="305" y="60" width="14" height="14" fill="url(#pY3)"/>
<rect x="319" y="60" width="13" height="14" fill="#ffff00"/>
<rect x="319" y="60" width="13" height="14" fill="url(#pO2)"/>
<rect x="332" y="60" width="14" height="14" fill="#ffa500"/>
<rect x="332" y="60" width="14" height="14" fill="url(#pY2)"/>
<rect x="346" y="60" width="66" height="14" fill="#ffa500"/>
<rect x="346" y="60" width="66" height="14" fill="url(#pR2)"/>
<rect x="225" y="74" width="24" height="14" fill="#ffff00"/>
<rect x="225" y="74" width="24" height="14" fill="url(#pG1)"/>
<rect x="249" y="74" width="28" height="14" fill="#ffff00"/>
<rect x="249" y="74" width="28" height="14" fill="url(#pO1)"/>
<rect x="277" y="74" width="14" height="14" fill="#ffff00"/>
<rect x="291" y="74" width="14" height="14" fill="#ffff00"/>
<rect x="291" y="74" width="14" height="14" fill="url(#pO1)"/>
<rect x="305" y="74" width="14" height="14" fill="#ffa500"/>
<rect x="305" y="74" width="14" height="14" fill="url(#pY2)"/>
<rect x="319" y="74" width="13" height="14" fill="#ffa500"/>
<rect x="332" y="74" width="14" height="14" fill="#ffa500"/>
<rect x="332" y="74" width="14" height="14" fill="url(#pY3)"/>
<rect x="346" y="74" width="66" height="14" fill="#ffa500"/>
<rect x="346" y="74" width="66" height="14" fill="url(#pY2)"/>
<rect x="225" y="88" width="24" height="14" fill="#ffff00"/>
<rect x="249" y="88" width="14" height="14" fill="#ffff00"/>
<rect x="249" y="88" width="14" height="14" fill="url(#pO1)"/>
<rect x="263" y="88" width="28" height="14" fill="#ffff00"/>
<rect x="263" y="88" width="28" height="14" fill="url(#pO2)"/>
<rect x="291" y="88" width="14" height="14" fill="#ffff00"/>
<rect x="291" y="88" width="14" height="14" fill="url(#pO3)"/>
<rect x="305" y="88" width="14" height="14" fill="#ffff00"/>
<rect x="305" y="88" width="14" height="14" fill="url(#pO2)"/>
<rect x="319" y="88" width="93" height="14" fill="#ffa500"/>
<rect x="319" y="88" width="93" height="14" fill="url(#pY2)"/>
<rect x="225" y="102" width="66" height="14" fill="#ffff00"/>
<rect x="291" y="102" width="14" height="14" fill="#ffff00"/>
<rect x="291" y="102" width="14" height="14" fill="url(#pO2)"/>
<rect x="305" y="102" width="14" height="14" fill="#ffff00"/>
<rect x="305" y="102" width="14" height="14" fill="url(#pO3)"/>
<rect x="319" y="102" width="13" height="14" fill="#ffa500"/>
<rect x="319" y="102" width="13" height="14" fill="url(#pR2)"/>
<rect x="332" y="102" width="14" height="14" fill="#ffa500"/>
<rect x="332" y="102" width="14" height="14" fill="url(#pY2)"/>
<rect x="346" y="102" width="66" height="14" fill="#ffa500"/>
<rect x="346" y="102" width="66" height="14" fill="url(#pR2)"/>
<rect x="225" y="116" width="24" height="13" fill="#ffff00"/>
<rect x="249" y="116" width="14" height="13" fill="#ffff00"/>
<rect x="249" y="116" width="14" height="13" fill="url(#pO1)"/>
<rect x="263" y="116" width="14" height="13" fill="#ffa500"/>
<rect x="263" y="116" width="14" height="13" fill="url(#pY3)"/>
<rect x="277" y="116" width="14" height="13" fill="#ffff00"/>
<rect x="277" y="116" width="14" height="13" fill="url(#pO2)"/>
<rect x="291" y="116" width="14" height="13" fill="#ffa500"/>
<rect x="291" y="116" width="14" height="13" fill="url(#pY2)"/>
<rect x="305" y="116" width="27" height="13" fill="#ff5000"/>
<rect x="305" y="116" width="27" height="13" fill="url(#pO2)"/>
<rect x="332" y="116" width="14" height="13" fill="#ffa500"/>
<rect x="332" y="116" width="14" height="13" fill="url(#pY2)"/>
<rect x="346" y="116" width="66" height="13" fill="#f00000"/>
<rect x="346" y="116" width="66" height="13" fill="url(#pM2)"/>
<rect x="225" y="129" width="38" height="14" fill="#ffff00"/>
<rect x="263" y="129" width="14" height="14" fill="#ffa500"/>
<rect x="263" y="129" width="14" height="14" fill="url(#pY2)"/>
<rect x="277" y="129" width="14" height="14" fill="#ffa500"/>
<rect x="277" y="129" width="14" height="14" fill="url(#pR2)"/>
<rect x="291" y="129" width="28" height="14" fill="#ff5000"/>
<rect x="291" y="129" width="28" height="14" fill="url(#pO2)"/>
<rect x="319" y="129" width="13" height="14" fill="#ff5000"/>
<rect x="319" y="129" width="13" height="14" fill="url(#pE2)"/>
<rect x="332" y="129" width="14" height="14" fill="#f00000"/>
<rect x="332" y="129" width="14" height="14" fill="url(#pM2)"/>
<rect x="346" y="129" width="66" height="14" fill="#640000"/>
<rect x="346" y="129" width="66" height="14" fill="url(#pE2)"/>
<rect x="225" y="143" width="38" height="14" fill="#ffff00"/>
<rect x="263" y="143" width="14" height="14" fill="#ffff00"/>
<rect x="263" y="143" width="14" height="14" fill="url(#pO2)"/>
<rect x="277" y="143" width="14" height="14" fill="#ffa500"/>
<rect x="277" y="143" width="14" height="14" fill="url(#pR2)"/>
<rect x="291" y="143" width="14" height="14" fill="#ff5000"/>
<rect x="305" y="143" width="14" height="14" fill="#ff5000"/>
<rect x="305" y="143" width="14" height="14" fill="url(#pE2)"/>
<rect x="319" y="143" width="13" height="14" fill="#ff5000"/>
<rect x="319" y="143" width="13" height="14" fill="url(#pO2)"/>
<rect x="332" y="143" width="14" height="14" fill="#f00000"/>
<rect x="332" y="143" width="14" height="14" fill="url(#pR2)"/>
<rect x="346" y="143" width="66" height="14" fill="#f00000"/>
<rect x="346" y="143" width="66" height="14" fill="url(#pM2)"/>
<rect x="225" y="157" width="52" height="14" fill="#ffff00"/>
<rect x="277" y="157" width="14" height="14" fill="#ffa500"/>
<rect x="277" y="157" width="14" height="14" fill="url(#pR2)"/>
<rect x="291" y="157" width="41" height="14" fill="#ff5000"/>
<rect x="291" y="157" width="41" height="14" fill="url(#pO2)"/>
<rect x="332" y="157" width="14" height="14" fill="#f00000"/>
<rect x="332" y="157" width="14" height="14" fill="url(#pR2)"/>
<rect x="346" y="157" width="66" height="14" fill="#f00000"/>
<rect x="346" y="157" width="66" height="14" fill="url(#pM2)"/>
<rect x="225" y="171" width="38" height="14" fill="#ffff00"/>
<rect x="263" y="171" width="14" height="14" fill="#ffff00"/>
<rect x="263" y="171" width="14" height="14" fill="url(#pO2)"/>
<rect x="277" y="171" width="42" height="14" fill="#ffa500"/>
<rect x="277" y="171" width="42" height="14" fill="url(#pY2)"/>
<rect x="319" y="171" width="13" height="14" fill="#ffa500"/>
<rect x="319" y="171" width="13" height="14" fill="url(#pR2)"/>
<rect x="332" y="171" width="80" height="14" fill="#f00000"/>
<rect x="332" y="171" width="80" height="14" fill="url(#pR2)"/>
<rect x="225" y="185" width="38" height="14" fill="#ffff00"/>
<rect x="225" y="185" width="38" height="14" fill="url(#pO2)"/>
<rect x="263" y="185" width="28" height="14" fill="#ffa500"/>
<rect x="263" y="185" width="28" height="14" fill="url(#pR2)"/>
<rect x="291" y="185" width="14" height="14" fill="#ffff00"/>
<rect x="291" y="185" width="14" height="14" fill="url(#pO2)"/>
<rect x="305" y="185" width="14" height="14" fill="#ffa500"/>
<rect x="305" y="185" width="14" height="14" fill="url(#pY2)"/>
<rect x="319" y="185" width="13" height="14" fill="#ffa500"/>
<rect x="332" y="185" width="80" height="14" fill="#ff5000"/>
<rect x="332" y="185" width="80" height="14" fill="url(#pE2)"/>
<rect x="225" y="199" width="24" height="14" fill="#ffa500"/>
<rect x="225" y="199" width="24" height="14" fill="url(#pY2)"/>
<rect x="249" y="199" width="14" height="14" fill="#ffa500"/>
<rect x="249" y="199" width="14" height="14" fill="url(#pR2)"/>
<rect x="263" y="199" width="14" height="14" fill="#ff5000"/>
<rect x="263" y="199" width="14" height="14" fill="url(#pO2)"/>
<rect x="277" y="199" width="14" height="14" fill="#ffa500"/>
<rect x="277" y="199" width="14" height="14" fill="url(#pR2)"/>
<rect x="291" y="199" width="14" height="14" fill="#ffff00"/>
<rect x="291" y="199" width="14" height="14" fill="url(#pO2)"/>
<rect x="305" y="199" width="14" height="14" fill="#ffa500"/>
<rect x="305" y="199" width="14" height="14" fill="url(#pY2)"/>
<rect x="319" y="199" width="13" height="14" fill="#ffa500"/>
<rect x="319" y="199" width="13" height="14" fill="url(#pR2)"/>
<rect x="332" y="199" width="80" height="14" fill="#ff5000"/>
<rect x="332" y="199" width="80" height="14" fill="url(#pM2)"/>
<rect x="225" y="213" width="24" height="14" fill="#ffa500"/>
<rect x="225" y="213" width="24" height="14" fill="url(#pY2)"/>
<rect x="249" y="213" width="14" height="14" fill="#ffff00"/>
<rect x="249" y="213" width="14" height="14" fill="url(#pO2)"/>
<rect x="263" y="213" width="28" height="14" fill="#ffa500"/>
<rect x="263" y="213" width="28" height="14" fill="url(#pR2)"/>
<rect x="291" y="213" width="14" height="14" fill="#ff5000"/>
<rect x="291" y="213" width="14" height="14" fill="url(#pO2)"/>
<rect x="305" y="213" width="14" height="14" fill="#ffa500"/>
<rect x="305" y="213" width="14" height="14" fill="url(#pR2)"/>
<rect x="319" y="213" width="93" height="14" fill="#ff5000"/>
<rect x="319" y="213" width="93" height="14" fill="url(#pO2)"/>
<rect x="225" y="227" width="24" height="14" fill="#ffa500"/>
<rect x="225" y="227" width="24" height="14" fill="url(#pR2)"/>
<rect x="249" y="227" width="14" height="14" fill="#ffa500"/>
<rect x="263" y="227" width="14" height="14" fill="#ff5000"/>
<rect x="263" y="227" width="14" height="14" fill="url(#pO2)"/>
<rect x="277" y="227" width="14" height="14" fill="#ffa500"/>
<rect x="277" y="227" width="14" height="14" fill="url(#pR2)"/>
<rect x="291" y="227" width="28" height="14" fill="#ff5000"/>
<rect x="291" y="227" width="28" height="14" fill="url(#pE2)"/>
<rect x="319" y="227" width="93" height="14" fill="#ff5000"/>
<rect x="319" y="227" width="93" height="14" fill="url(#pO2)"/>
<rect x="225" y="241" width="24" height="13" fill="#ffa500"/>
<rect x="249" y="241" width="28" height="13" fill="#ff5000"/>
<rect x="249" y="241" width="28" height="13" fill="url(#pO2)"/>
<rect x="277" y="241" width="14" height="13" fill="#ffa500"/>
<rect x="277" y="241" width="14" height="13" fill="url(#pR2)"/>
<rect x="291" y="241" width="41" height="13" fill="#ff5000"/>
<rect x="291" y="241" width="41" height="13" fill="url(#pE2)"/>
<rect x="332" y="241" width="80" height="13" fill="#f00000"/>
<rect x="332" y="241" width="80" height="13" fill="url(#pR2)"/>
<rect x="225" y="254" width="24" height="14" fill="#ffa500"/>
<rect x="225" y="254" width="24" height="14" fill="url(#pR2)"/>
<rect x="249" y="254" width="14" height="14" fill="#ffa500"/>
<rect x="263" y="254" width="14" height="14" fill="#ff5000"/>
<rect x="263" y="254" width="14" height="14" fill="url(#pO2)"/>
<rect x="277" y="254" width="14" height="14" fill="#ffa500"/>
<rect x="277" y="254" width="14" height="14" fill="url(#pR2)"/>
<rect x="291" y="254" width="14" height="14" fill="#ff5000"/>
<rect x="291" y="254" width="14" height="14" fill="url(#pE2)"/>
<rect x="305" y="254" width="14" height="14" fill="#f00000"/>
<rect x="305" y="254" width="14" height="14" fill="url(#pR2)"/>
<rect x="319" y="254" width="13" height="14" fill="#f00000"/>
<rect x="319" y="254" width="13" height="14" fill="url(#pM2)"/>
<rect x="332" y="254" width="80" height="14" fill="#640000"/>
<rect x="332" y="254" width="80" height="14" fill="url(#pE2)"/>
<rect x="225" y="268" width="38" height="14" fill="#ffa500"/>
<rect x="225" y="268" width="38" height="14" fill="url(#pR2)"/>
<rect x="263" y="268" width="14" height="14" fill="#ff5000"/>
<rect x="263" y="268" width="14" height="14" fill="url(#pO2)"/>
<rect x="277" y="268" width="14" height="14" fill="#ffa500"/>
<rect x="277" y="268" width="14" height="14" fill="url(#pR2)"/>
<rect x="291" y="268" width="14" height="14" fill="#ff5000"/>
<rect x="305" y="268" width="14" height="14" fill="#ff5000"/>
<rect x="305" y="268" width="14" height="14" fill="url(#pE2)"/>
<rect x="319" y="268" width="93" height="14" fill="#f00000"/>
<rect x="319" y="268" width="93" height="14" fill="url(#pM2)"/>
<rect x="225" y="282" width="38" height="14" fill="#ffa500"/>
<rect x="225" y="282" width="38" height="14" fill="url(#pR2)"/>
<rect x="263" y="282" width="42" height="14" fill="#ff5000"/>
<rect x="263" y="282" width="42" height="14" fill="url(#pO2)"/>
<rect x="305" y="282" width="14" height="14" fill="#ff5000"/>
<rect x="305" y="282" width="14" height="14" fill="url(#pE2)"/>
<rect x="319" y="282" width="93" height="14" fill="#f00000"/>
<rect x="319" y="282" width="93" height="14" fill="url(#pM2)"/>
<rect x="225" y="296" width="38" height="14" fill="#ffa500"/>
<rect x="225" y="296" width="38" height="14" fill="url(#pR2)"/>
<rect x="263" y="296" width="28" height="14" fill="#ff5000"/>
<rect x="263" y="296" width="28" height="14" fill="url(#pO2)"/>
<rect x="291" y="296" width="28" height="14" fill="#ff5000"/>
<rect x="291" y="296" width="28" height="14" fill="url(#pE2)"/>
<rect x="319" y="296" width="93" height="14" fill="#f00000"/>
<rect x="319" y="296" width="93" height="14" fill="url(#pM2)"/>
<rect x="225" y="310" width="38" height="14" fill="#ffa500"/>
<rect x="225" y="310" width="38" height="14" fill="url(#pR2)"/>
<rect x="263" y="310" width="14" height="14" fill="#ff5000"/>
<rect x="263" y="310" width="14" height="14" fill="url(#pO2)"/>
<rect x="277" y="310" width="14" height="14" fill="#ffa500"/>
<rect x="277" y="310" width="14" height="14" fill="url(#pR2)"/>
<rect x="291" y="310" width="14" height="14" fill="#ff5000"/>
<rect x="291" y="310" width="14" height="14" fill="url(#pE2)"/>
<rect x="305" y="310" width="14" height="14" fill="#f00000"/>
<rect x="305" y="310" width="14" height="14" fill="url(#pR2)"/>
<rect x="319" y="310" width="93" height="14" fill="#640000"/>
<rect x="319" y="310" width="93" height="14" fill="url(#pE2)"/>
<rect x="225" y="324" width="24" height="14" fill="#ffa500"/>
<rect x="225" y="324" width="24" height="14" fill="url(#pR2)"/>
<rect x="249" y="324" width="14" height="14" fill="#ffa500"/>
<rect x="249" y="324" width="14" height="14" fill="url(#pY2)"/>
<rect x="263" y="324" width="28" height="14" fill="#ffa500"/>
<rect x="263" y="324" width="28" height="14" fill="url(#pR2)"/>
<rect x="291" y="324" width="14" height="14" fill="#ff5000"/>
<rect x="291" y="324" width="14" height="14" fill="url(#pE2)"/>
<rect x="305" y="324" width="14" height="14" fill="#f00000"/>
<rect x="305" y="324" width="14" height="14" fill="url(#pR2)"/>
<rect x="319" y="324" width="93" height="14" fill="#640000"/>
<rect x="319" y="324" width="93" height="14" fill="url(#pE2)"/>
<rect x="225" y="338" width="24" height="14" fill="#ffa500"/>
<rect x="249" y="338" width="14" height="14" fill="#ffa500"/>
<rect x="249" y="338" width="14" height="14" fill="url(#pR2)"/>
<rect x="263" y="338" width="14" height="14" fill="#ff5000"/>
<rect x="263" y="338" width="14" height="14" fill="url(#pO2)"/>
<rect x="277" y="338" width="14" height="14" fill="#ffa500"/>
<rect x="277" y="338" width="14" height="14" fill="url(#pR2)"/>
<rect x="291" y="338" width="14" height="14" fill="#ff5000"/>
<rect x="291" y="338" width="14" height="14" fill="url(#pO2)"/>
<rect x="305" y="338" width="14" height="14" fill="#f00000"/>
<rect x="305" y="338" width="14" height="14" fill="url(#pR2)"/>
<rect x="319" y="338" width="93" height="14" fill="#640000"/>
<rect x="319" y="338" width="93" height="14" fill="url(#pE2)"/>
<rect x="225" y="352" width="24" height="14" fill="#ff5000"/>
<rect x="225" y="352" width="24" height="14" fill="url(#pO2)"/>
<rect x="249" y="352" width="14" height="14" fill="#ffa500"/>
<rect x="249" y="352" width="14" height="14" fill="url(#pR2)"/>
<rect x="263" y="352" width="14" height="14" fill="#ff5000"/>
<rect x="263" y="352" width="14" height="14" fill="url(#pO2)"/>
<rect x="277" y="352" width="28" height="14" fill="#ffa500"/>
<rect x="277" y="352" width="28" height="14" fill="url(#pR2)"/>
<rect x="305" y="352" width="14" height="14" fill="#ff5000"/>
<rect x="305" y="352" width="14" height="14" fill="url(#pE2)"/>
<rect x="319" y="352" width="93" height="14" fill="#f00000"/>
<rect x="319" y="352" width="93" height="14" fill="url(#pR2)"/>
<rect x="225" y="366" width="38" height="14" fill="#ffa500"/>
<rect x="225" y="366" width="38" height="14" fill="url(#pR2)"/>
<rect x="263" y="366" width="14" height="14" fill="#ff5000"/>
<rect x="263" y="366" width="14" height="14" fill="url(#pO2)"/>
<rect x="277" y="366" width="14" height="14" fill="#ff5000"/>
<rect x="277" y="366" width="14" height="14" fill="url(#pE2)"/>
<rect x="291" y="366" width="14" height="14" fill="#ffa500"/>
<rect x="291" y="366" width="14" height="14" fill="url(#pR2)"/>
<rect x="305" y="366" width="107" height="14" fill="#ff5000"/>
<rect x="305" y="366" width="107" height="14" fill="url(#pE2)"/>
<rect x="225" y="380" width="24" height="14" fill="#ffa500"/>
<rect x="225" y="380" width="24" height="14" fill="url(#pY2)"/>
<rect x="249" y="380" width="14" height="14" fill="#ffa500"/>
<rect x="249" y="380" width="14" height="14" fill="url(#pR2)"/>
<rect x="263" y="380" width="14" height="14" fill="#ffa500"/>
<rect x="263" y="380" width="14" height="14" fill="url(#pY2)"/>
<rect x="277" y="380" width="14" height="14" fill="#ffa500"/>
<rect x="277" y="380" width="14" height="14" fill="url(#pR2)"/>
<rect x="291" y="380" width="14" height="14" fill="#ff5000"/>
<rect x="291" y="380" width="14" height="14" fill="url(#pO2)"/>
<rect x="305" y="380" width="107" height="14" fill="#f00000"/>
<rect x="305" y="380" width="107" height="14" fill="url(#pM2)"/>
<rect x="225" y="394" width="52" height="13" fill="#ffff00"/>
<rect x="225" y="394" width="52" height="13" fill="url(#pO2)"/>
<rect x="277" y="394" width="14" height="13" fill="#ffa500"/>
<rect x="277" y="394" width="14" height="13" fill="url(#pY2)"/>
<rect x="291" y="394" width="14" height="13" fill="#ffa500"/>
<rect x="291" y="394" width="14" height="13" fill="url(#pR2)"/>
<rect x="305" y="394" width="107" height="13" fill="#ff5000"/>
<rect x="305" y="394" width="107" height="13" fill="url(#pE2)"/>
<rect x="225" y="407" width="38" height="14" fill="#ffff00"/>
<rect x="225" y="407" width="38" height="14" fill="url(#pO2)"/>
<rect x="263" y="407" width="149" height="14" fill="#ffa500"/>
<rect x="263" y="407" width="149" height="14" fill="url(#pR2)"/>
<rect x="225" y="421" width="38" height="14" fill="#ffa500"/>
<rect x="225" y="421" width="38" height="14" fill="url(#pR2)"/>
<rect x="263" y="421" width="28" height="14" fill="#ff5000"/>
<rect x="263" y="421" width="28" height="14" fill="url(#pO2)"/>
<rect x="291" y="421" width="121" height="14" fill="#ff5000"/>
<rect x="291" y="421" width="121" height="14" fill="url(#pE2)"/>
<rect x="225" y="435" width="24" height="14" fill="#ffa500"/>
<rect x="225" y="435" width="24" height="14" fill="url(#pR2)"/>
<rect x="249" y="435" width="14" height="14" fill="#ff5000"/>
<rect x="249" y="435" width="14" height="14" fill="url(#pO2)"/>
<rect x="263" y="435" width="28" height="14" fill="#ff5000"/>
<rect x="263" y="435" width="28" height="14" fill="url(#pE2)"/>
<rect x="291" y="435" width="14" height="14" fill="#f00000"/>
<rect x="291" y="435" width="14" height="14" fill="url(#pR2)"/>
<rect x="305" y="435" width="107" height="14" fill="#640000"/>
<rect x="305" y="435" width="107" height="14" fill="url(#pE2)"/>
<rect x="225" y="449" width="24" height="14" fill="#ffa500"/>
<rect x="225" y="449" width="24" height="14" fill="url(#pR2)"/>
<rect x="249" y="449" width="14" height="14" fill="#ff5000"/>
<rect x="249" y="449" width="14" height="14" fill="url(#pO2)"/>
<rect x="263" y="449" width="14" height="14" fill="#ff5000"/>
<rect x="263" y="449" width="14" height="14" fill="url(#pE2)"/>
<rect x="277" y="449" width="14" height="14" fill="#f00000"/>
<rect x="277" y="449" width="14" height="14" fill="url(#pR2)"/>
<rect x="291" y="449" width="14" height="14" fill="#f00000"/>
<rect x="291" y="449" width="14" height="14" fill="url(#pM2)"/>
<rect x="305" y="449" width="107" height="14" fill="#640000"/>
<rect x="305" y="449" width="107" height="14" fill="url(#pE2)"/>
<rect x="225" y="463" width="24" height="14" fill="#ffa500"/>
<rect x="225" y="463" width="24" height="14" fill="url(#pY2)"/>
<rect x="249" y="463" width="14" height="14" fill="#ffa500"/>
<rect x="249" y="463" width="14" height="14" fill="url(#pR2)"/>
<rect x="263" y="463" width="14" height="14" fill="#ff5000"/>
<rect x="263" y="463" width="14" height="14" fill="url(#pO2)"/>
<rect x="277" y="463" width="135" height="14" fill="#ff5000"/>
<rect x="277" y="463" width="135" height="14" fill="url(#pE2)"/>
<rect x="225" y="477" width="24" height="14" fill="#ffa500"/>
<rect x="225" y="477" width="24" height="14" fill="url(#pY2)"/>
<rect x="249" y="477" width="28" height="14" fill="#ffa500"/>
<rect x="249" y="477" width="28" height="14" fill="url(#pR2)"/>
<rect x="277" y="477" width="14" height="14" fill="#ff5000"/>
<rect x="277" y="477" width="14" height="14" fill="url(#pO2)"/>
<rect x="291" y="477" width="121" height="14" fill="#ff5000"/>
<rect x="291" y="477" width="121" height="14" fill="url(#pE2)"/>
<rect x="225" y="491" width="52" height="14" fill="#ffa500"/>
<rect x="225" y="491" width="52" height="14" fill="url(#pR2)"/>
<rect x="277" y="491" width="135" height="14" fill="#ff5000"/>
<rect x="277" y="491" width="135" height="14" fill="url(#pO2)"/>
<rect x="225" y="505" width="24" height="14" fill="#ffa500"/>
<rect x="225" y="505" width="24" height="14" fill="url(#pR2)"/>
<rect x="249" y="505" width="28" height="14" fill="#ff5000"/>
<rect x="249" y="505" width="28" height="14" fill="url(#pO2)"/>
<rect x="277" y="505" width="135" height="14" fill="#ff5000"/>
<rect x="277" y="505" width="135" height="14" fill="url(#pE2)"/>
<rect x="225" y="519" width="24" height="13" fill="#ffff00"/>
<rect x="225" y="519" width="24" height="13" fill="url(#pO2)"/>
<rect x="249" y="519" width="28" height="13" fill="#ffa500"/>
<rect x="249" y="519" width="28" height="13" fill="url(#pR2)"/>
<rect x="277" y="519" width="14" height="13" fill="#ff5000"/>
<rect x="277" y="519" width="14" height="13" fill="url(#pO2)"/>
<rect x="291" y="519" width="121" height="13" fill="#ff5000"/>
<rect x="291" y="519" width="121" height="13" fill="url(#pE2)"/>
<rect x="225" y="532" width="38" height="14" fill="#ffff00"/>
<rect x="263" y="532" width="28" height="14" fill="#ffa500"/>
<rect x="291" y="532" width="121" height="14" fill="#ff5000"/>
<rect x="225" y="546" width="38" height="14" fill="#ffff00"/>
<rect x="263" y="546" width="14" height="14" fill="#ffa500"/>
<rect x="263" y="546" width="14" height="14" fill="url(#pY2)"/>
<rect x="277" y="546" width="135" height="14" fill="#ffa500"/>
<rect x="225" y="560" width="24" height="14" fill="#ff5000"/>
<rect x="225" y="560" width="24" height="14" fill="url(#pO2)"/>
<rect x="249" y="560" width="163" height="14" fill="#ffa500"/>
<rect x="249" y="560" width="163" height="14" fill="url(#pR2)"/>
<rect x="225" y="574" width="24" height="14" fill="#ffa500"/>
<rect x="225" y="574" width="24" height="14" fill="url(#pR2)"/>
<rect x="249" y="574" width="14" height="14" fill="#f00000"/>
<rect x="249" y="574" width="14" height="14" fill="url(#pO2)"/>
<rect x="263" y="574" width="14" height="14" fill="#ffa500"/>
<rect x="263" y="574" width="14" height="14" fill="url(#pE2)"/>
<rect x="277" y="574" width="135" height="14" fill="#ffa500"/>
<rect x="277" y="574" width="135" height="14" fill="url(#pR2)"/>
<rect x="225" y="588" width="24" height="14" fill="#ffa500"/>
<rect x="225" y="588" width="24" height="14" fill="url(#pM2)"/>
<rect x="249" y="588" width="28" height="14" fill="#640000"/>
<rect x="249" y="588" width="28" height="14" fill="url(#pO2)"/>
<rect x="277" y="588" width="135" height="14" fill="#ffa500"/>
<rect x="277" y="588" width="135" height="14" fill="url(#pM2)"/>
<rect x="225" y="602" width="38" height="14" fill="#ffa500"/>
<rect x="225" y="602" width="38" height="14" fill="url(#pM2)"/>
<rect x="263" y="602" width="14" height="14" fill="#640000"/>
<rect x="263" y="602" width="14" height="14" fill="url(#pO2)"/>
<rect x="277" y="602" width="135" height="14" fill="#ffa500"/>
<rect x="277" y="602" width="135" height="14" fill="url(#pM2)"/>
<rect x="225" y="616" width="24" height="24" fill="#ff5000"/>
<rect x="225" y="616" width="24" height="24" fill="url(#pM2)"/>
<rect x="249" y="616" width="14" height="24" fill="#ffa500"/>
<rect x="249" y="616" width="14" height="24" fill="url(#pM2)"/>
<rect x="263" y="616" width="14" height="24" fill="#f00000"/>
<rect x="263" y="616" width="14" height="24" fill="url(#pM2)"/>
<rect x="277" y="616" width="135" height="24" fill="#ff5000"/>
<rect x="277" y="616" width="135" height="24" fill="url(#pM2)"/>
</g></g>
<g fill="#8a2be2"><rect x="360" y="116" width="42" height="13"/><rect x="360" y="129" width="42" height="14"/><rect x="360" y="143" width="42" height="14"/><rect x="360" y="157" width="42" height="14"/><rect x="346" y="171" width="14" height="14"/><rect x="346" y="185" width="42" height="14"/><rect x="346" y="199" width="42" height="14"/><rect x="346" y="213" width="42" height="14"/><rect x="346" y="227" width="42" height="14"/><rect x="346" y="241" width="42" height="13"/><rect x="346" y="254" width="42" height="14"/><rect x="332" y="268" width="56" height="14"/><rect x="332" y="282" width="42" height="14"/><rect x="332" y="296" width="42" height="14"/><rect x="332" y="310" width="42" height="14"/><rect x="332" y="324" width="42" height="14"/><rect x="332" y="338" width="42" height="14"/><rect x="332" y="352" width="42" height="14"/><rect x="319" y="366" width="55" height="14"/><rect x="319" y="380" width="41" height="14"/><rect x="319" y="394" width="41" height="13"/><rect x="319" y="421" width="13" height="14"/><rect x="319" y="435" width="27" height="14"/><rect x="319" y="449" width="41" height="14"/><rect x="305" y="463" width="55" height="14"/><rect x="305" y="477" width="41" height="14"/><rect x="305" y="491" width="41" height="14"/><rect x="305" y="505" width="41" height="14"/><rect x="305" y="519" width="41" height="13"/><rect x="291" y="588" width="41" height="14"/><rect x="291" y="602" width="41" height="14"/><rect x="291" y="616" width="41" height="14"/></g>
<rect x="56" y="46" width="24" height="353" fill="#000"/>
<rect x="183" y="46" width="90" height="1" fill="#000"/>
<rect x="68" y="399" width="88" height="44" fill="#000"/>
<g id="legend"><rect x="56" y="77" width="19" height="354" fill="#fff"/><rect x="57" y="78" width="17" height="32" fill="#640000"/><rect x="57" y="110" width="17" height="32" fill="#f00000"/><rect x="57" y="142" width="17" height="32" fill="#ff5000"/><rect x="57" y="174" width="17" height="32" fill="#ffa500"/><rect x="57" y="206" width="17" height="32" fill="#ffff00"/><rect x="57" y="238" width="17" height="32" fill="#80ff00"/><rect x="57" y="270" width="17" height="32" fill="#008400"/><rect x="57" y="302" width="17" height="32" fill="#00ffff"/><rect x="57" y="334" width="17" height="32" fill="#0080ff"/><rect x="57" y="366" width="17" height="32" fill="#0000ff"/><rect x="57" y="398" width="17" height="32" fill="#8a2be2"/></g>
<g fill="#00ffff"><rect x="152" y="46" width="1" height="585"/><rect x="291" y="46" width="1" height="585"/><rect x="430" y="46" width="1" height="585"/><rect x="568" y="46" width="1" height="585"/><rect x="707" y="46" width="1" height="585"/><rect x="846" y="46" width="1" height="585"/><rect x="985" y="46" width="1" height="585"/><rect x="68" y="74" width="918" height="1"/><rect x="68" y="213" width="918" height="1"/><rect x="68" y="352" width="918" height="1"/><rect x="68" y="491" width="918" height="1"/><rect x="68" y="630" width="918" height="1"/></g>
<g fill="#000">
<rect x="836" y="67" width="28" height="11"/>
<rect x="836" y="206" width="28" height="11"/>
<rect x="833" y="345" width="34" height="11"/>
<rect x="833" y="484" width="34" height="11"/>
</g>
<polyline points="838.8,4.6 849.0,14.3 854.5,19.0 859.1,22.3 861.0,24.5 865.5,28.2 866.5,31.9 872.0,36.5 874.8,40.2 875.7,43.0 884.0,49.5 889.5,55.9 895.1,60.5 897.0,64.2 897.9,67.9 899.7,71.5 903.5,75.3 905.3,79.0 906.9,80.5 908.1,81.7 908.1,86.3 909.0,86.7 909.0,90.3 907.2,91.6 906.9,93.7 910.0,97.1 914.0,101.7 915.8,103.0 922.0,103.3 926.3,103.9 930.0,99.9 925.7,100.8 922.6,102.0 920.7,104.2 917.7,105.7 915.2,104.8 912.4,106.0 911.8,107.6 912.1,110.0 914.0,113.1 918.0,120.5 921.1,123.5 924.8,129.0 925.7,136.3 930.3,146.5 934.0,154.8 937.7,161.3 941.5,169.5 941.5,177.9 939.2,179.2 935.0,184.3 930.0,187.7 933.1,191.7 935.9,204.6 939.5,210.2 940.5,213.9 944.2,220.3 945.5,224.2 951.5,231.5 952.5,238.0 954.7,241.7 953.5,253.7 952.5,262.0 951.5,269.5 947.0,277.7 943.3,284.2 935.9,286.0 928.9,292.9 930.0,295.8 926.7,299.9 921.1,304.5 918.3,308.7 918.3,318.3 911.9,330.3 913.1,337.9 911.3,341.5 908.5,349.0 906.7,357.3 904.5,361.0 903.3,369.3 897.5,373.9 895.5,376.7 897.5,387.7 897.0,404.3 895.5,408.0 894.7,431.1 899.3,441.3 902.0,443.1 903.5,448.8 906.3,451.5 914.7,459.9 915.9,464.5 919.3,468.2 930.3,492.2 935.9,497.7 937.7,507.0 940.5,509.7 941.5,514.3 953.5,531.0 954.3,533.3 957.1,540.7 959.9,543.5 966.3,549.9 971.0,558.2 972.8,563.7 972.8,573.0 970.0,577.5 971.5,584.0 971.3,593.3 972.8,599.7 971.0,602.5 971.9,609.9 975.5,619.1 979.3,622.8 981.1,630.2 981.7,636.7 981.1,641.3 983.0,645.0 982.0,649.5" fill="none" stroke="#fff" stroke-width="1"/>
<g class="t" filter="url(#crisp)">
<text x="9" y="27" fill="#f4b400" font-size="10.8">NASA Langley (M04.0)</text>
</g>
<g class="t" filter="url(#crisp2)">
<text x="383.5" y="16.7" fill="#fff" font-size="16.75">BROADBAND ALBEDO</text>
<text x="368.5" y="33.5" fill="#fff" font-size="14.2">Aug 30, 2016 18:15 UTC</text>
</g>
<g class="m" filter="url(#crisp)" fill="#ff0000" font-size="12" style="letter-spacing:1.8px">
<text x="144.3" y="45.6">15W</text>
<text x="282" y="45.6">10W</text>
<text x="428.5" y="45.6">5W</text>
<text x="563" y="45.6">0</text>
<text x="707" y="45.6">5E</text>
<text x="838.3" y="45.6">10E</text>
<text x="846" y="78">5S</text>
<text x="839" y="217">10S</text>
<text x="841" y="356">15S</text>
<text x="840" y="495">20S</text>
</g>
<g class="m" filter="url(#crisp)" fill="#f8ad7d" font-size="12" style="letter-spacing:-0.2px">
<text x="11" y="72.4">BBALB(%)</text>
<text x="50.4" y="82.0" text-anchor="end">100</text><text x="50.4" y="114.0" text-anchor="end">80</text><text x="50.4" y="146.0" text-anchor="end">70</text><text x="50.4" y="178.0" text-anchor="end">60</text><text x="50.4" y="210.0" text-anchor="end">50</text><text x="50.4" y="242.0" text-anchor="end">40</text><text x="50.4" y="274.0" text-anchor="end">30</text><text x="50.4" y="306.0" text-anchor="end">25</text><text x="50.4" y="338.0" text-anchor="end">20</text><text x="50.4" y="370.0" text-anchor="end">15</text><text x="50.4" y="402.0" text-anchor="end">10</text><text x="50.4" y="434.0" text-anchor="end">0</text>
</g><g class="m" filter="url(#crisp)" fill="#f8ad7d" font-size="10.5" style="letter-spacing:-0.3px">
<text x="94.5" y="413">NO</text>
<text x="124.5" y="413">OUT</text>
<text x="94.5" y="437">RET</text>
<text x="124.5" y="437">VALR</text>
</g>
<g class="m" filter="url(#crisp)" fill="#fff" font-size="12.5" style="letter-spacing:1.5px">
<text x="251.3" y="647.3" xml:space="preserve">MT10  BROADBAND ALBEDO   AUG 30, 2016 18:15Z   NASA LARC</text>
</g>
</svg>
</body></html>
